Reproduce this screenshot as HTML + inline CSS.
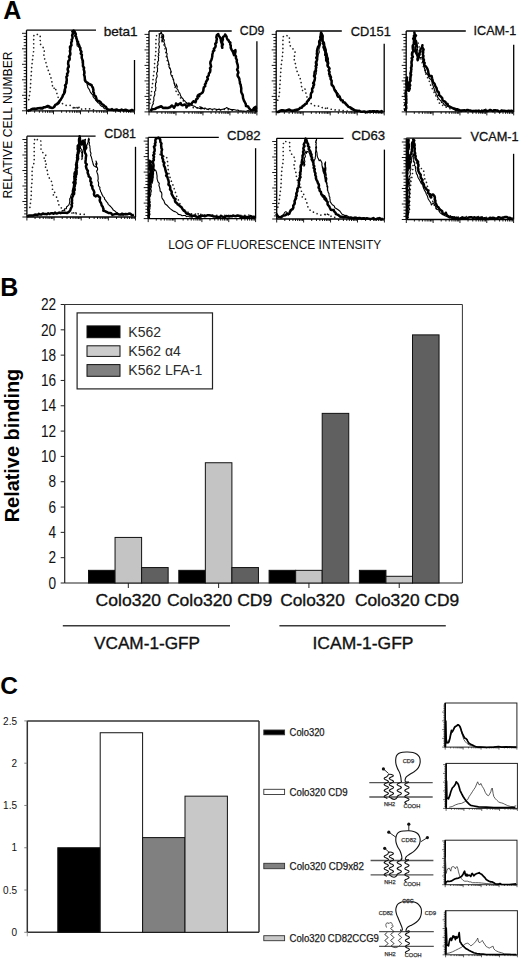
<!DOCTYPE html><html><head><meta charset="utf-8"><style>html,body{margin:0;padding:0;background:#fff;}svg{display:block;}</style></head><body>
<svg width="520" height="960" viewBox="0 0 520 960" font-family="'Liberation Sans', sans-serif">
<rect width="520" height="960" fill="#fff"/>
<text x="3.2" y="19.1" font-size="25" font-weight="bold" text-anchor="start" fill="#000" >A</text>
<line x1="26.5" y1="30.2" x2="96" y2="30.2" stroke="#000" stroke-width="1.3"/>
<line x1="26.5" y1="30.2" x2="26.5" y2="110.8" stroke="#000" stroke-width="1.3"/>
<line x1="26.5" y1="110.8" x2="134.5" y2="110.8" stroke="#000" stroke-width="1.3"/>
<line x1="134.5" y1="60" x2="134.5" y2="110.8" stroke="#000" stroke-width="1.3"/>
<line x1="22.0" y1="110.8" x2="26.5" y2="110.8" stroke="#000" stroke-width="0.9"/>
<line x1="23.7" y1="107.7" x2="26.5" y2="107.7" stroke="#000" stroke-width="0.9"/>
<line x1="23.7" y1="104.6" x2="26.5" y2="104.6" stroke="#000" stroke-width="0.9"/>
<line x1="23.7" y1="101.5" x2="26.5" y2="101.5" stroke="#000" stroke-width="0.9"/>
<line x1="23.7" y1="98.4" x2="26.5" y2="98.4" stroke="#000" stroke-width="0.9"/>
<line x1="22.0" y1="95.3" x2="26.5" y2="95.3" stroke="#000" stroke-width="0.9"/>
<line x1="23.7" y1="92.2" x2="26.5" y2="92.2" stroke="#000" stroke-width="0.9"/>
<line x1="23.7" y1="89.1" x2="26.5" y2="89.1" stroke="#000" stroke-width="0.9"/>
<line x1="23.7" y1="86.0" x2="26.5" y2="86.0" stroke="#000" stroke-width="0.9"/>
<line x1="23.7" y1="82.9" x2="26.5" y2="82.9" stroke="#000" stroke-width="0.9"/>
<line x1="22.0" y1="79.8" x2="26.5" y2="79.8" stroke="#000" stroke-width="0.9"/>
<line x1="23.7" y1="76.7" x2="26.5" y2="76.7" stroke="#000" stroke-width="0.9"/>
<line x1="23.7" y1="73.6" x2="26.5" y2="73.6" stroke="#000" stroke-width="0.9"/>
<line x1="23.7" y1="70.5" x2="26.5" y2="70.5" stroke="#000" stroke-width="0.9"/>
<line x1="23.7" y1="67.4" x2="26.5" y2="67.4" stroke="#000" stroke-width="0.9"/>
<line x1="22.0" y1="64.3" x2="26.5" y2="64.3" stroke="#000" stroke-width="0.9"/>
<line x1="23.7" y1="61.2" x2="26.5" y2="61.2" stroke="#000" stroke-width="0.9"/>
<line x1="23.7" y1="58.1" x2="26.5" y2="58.1" stroke="#000" stroke-width="0.9"/>
<line x1="23.7" y1="55.0" x2="26.5" y2="55.0" stroke="#000" stroke-width="0.9"/>
<line x1="23.7" y1="51.9" x2="26.5" y2="51.9" stroke="#000" stroke-width="0.9"/>
<line x1="22.0" y1="48.8" x2="26.5" y2="48.8" stroke="#000" stroke-width="0.9"/>
<line x1="23.7" y1="45.7" x2="26.5" y2="45.7" stroke="#000" stroke-width="0.9"/>
<line x1="23.7" y1="42.6" x2="26.5" y2="42.6" stroke="#000" stroke-width="0.9"/>
<line x1="23.7" y1="39.5" x2="26.5" y2="39.5" stroke="#000" stroke-width="0.9"/>
<line x1="23.7" y1="36.4" x2="26.5" y2="36.4" stroke="#000" stroke-width="0.9"/>
<line x1="22.0" y1="33.3" x2="26.5" y2="33.3" stroke="#000" stroke-width="0.9"/>
<line x1="26.5" y1="110.8" x2="26.5" y2="114.3" stroke="#000" stroke-width="0.9"/>
<line x1="34.63" y1="110.8" x2="34.63" y2="112.8" stroke="#000" stroke-width="0.9"/>
<line x1="39.38" y1="110.8" x2="39.38" y2="112.8" stroke="#000" stroke-width="0.9"/>
<line x1="42.76" y1="110.8" x2="42.76" y2="112.8" stroke="#000" stroke-width="0.9"/>
<line x1="45.37" y1="110.8" x2="45.37" y2="112.8" stroke="#000" stroke-width="0.9"/>
<line x1="47.51" y1="110.8" x2="47.51" y2="112.8" stroke="#000" stroke-width="0.9"/>
<line x1="49.32" y1="110.8" x2="49.32" y2="112.8" stroke="#000" stroke-width="0.9"/>
<line x1="50.88" y1="110.8" x2="50.88" y2="112.8" stroke="#000" stroke-width="0.9"/>
<line x1="52.26" y1="110.8" x2="52.26" y2="112.8" stroke="#000" stroke-width="0.9"/>
<line x1="53.5" y1="110.8" x2="53.5" y2="114.3" stroke="#000" stroke-width="0.9"/>
<line x1="61.63" y1="110.8" x2="61.63" y2="112.8" stroke="#000" stroke-width="0.9"/>
<line x1="66.38" y1="110.8" x2="66.38" y2="112.8" stroke="#000" stroke-width="0.9"/>
<line x1="69.76" y1="110.8" x2="69.76" y2="112.8" stroke="#000" stroke-width="0.9"/>
<line x1="72.37" y1="110.8" x2="72.37" y2="112.8" stroke="#000" stroke-width="0.9"/>
<line x1="74.51" y1="110.8" x2="74.51" y2="112.8" stroke="#000" stroke-width="0.9"/>
<line x1="76.32" y1="110.8" x2="76.32" y2="112.8" stroke="#000" stroke-width="0.9"/>
<line x1="77.88" y1="110.8" x2="77.88" y2="112.8" stroke="#000" stroke-width="0.9"/>
<line x1="79.26" y1="110.8" x2="79.26" y2="112.8" stroke="#000" stroke-width="0.9"/>
<line x1="80.5" y1="110.8" x2="80.5" y2="114.3" stroke="#000" stroke-width="0.9"/>
<line x1="88.63" y1="110.8" x2="88.63" y2="112.8" stroke="#000" stroke-width="0.9"/>
<line x1="93.38" y1="110.8" x2="93.38" y2="112.8" stroke="#000" stroke-width="0.9"/>
<line x1="96.76" y1="110.8" x2="96.76" y2="112.8" stroke="#000" stroke-width="0.9"/>
<line x1="99.37" y1="110.8" x2="99.37" y2="112.8" stroke="#000" stroke-width="0.9"/>
<line x1="101.51" y1="110.8" x2="101.51" y2="112.8" stroke="#000" stroke-width="0.9"/>
<line x1="103.32" y1="110.8" x2="103.32" y2="112.8" stroke="#000" stroke-width="0.9"/>
<line x1="104.88" y1="110.8" x2="104.88" y2="112.8" stroke="#000" stroke-width="0.9"/>
<line x1="106.26" y1="110.8" x2="106.26" y2="112.8" stroke="#000" stroke-width="0.9"/>
<line x1="107.5" y1="110.8" x2="107.5" y2="114.3" stroke="#000" stroke-width="0.9"/>
<line x1="115.63" y1="110.8" x2="115.63" y2="112.8" stroke="#000" stroke-width="0.9"/>
<line x1="120.38" y1="110.8" x2="120.38" y2="112.8" stroke="#000" stroke-width="0.9"/>
<line x1="123.76" y1="110.8" x2="123.76" y2="112.8" stroke="#000" stroke-width="0.9"/>
<line x1="126.37" y1="110.8" x2="126.37" y2="112.8" stroke="#000" stroke-width="0.9"/>
<line x1="128.51" y1="110.8" x2="128.51" y2="112.8" stroke="#000" stroke-width="0.9"/>
<line x1="130.32" y1="110.8" x2="130.32" y2="112.8" stroke="#000" stroke-width="0.9"/>
<line x1="131.88" y1="110.8" x2="131.88" y2="112.8" stroke="#000" stroke-width="0.9"/>
<line x1="133.26" y1="110.8" x2="133.26" y2="112.8" stroke="#000" stroke-width="0.9"/>
<line x1="134.5" y1="110.8" x2="134.5" y2="114.3" stroke="#000" stroke-width="0.9"/>
<polyline points="28.8,99.6 29.9,92.6 30.5,86.7 30.7,81.8 31.0,77.5 31.3,74.3 31.5,70.0 31.8,65.7 32.4,61.4 32.8,57.1 33.5,52.8 33.7,48.5 33.7,44.2 33.7,39.8 33.9,35.5 36.7,34.2 40.2,35.5 40.2,39.8 40.4,44.2 42.3,46.3 44.5,49.5 43.9,53.8 43.9,57.1 45.0,59.8 46.4,64.1 47.2,67.8 48.6,71.1 50.4,75.9 51.8,80.8 52.2,85.1 53.6,88.8 55.2,87.2 56.3,91.5 57.6,95.8 59.5,101.2 62.8,103.9 66.0,105.3 70.3,105.3 73.5,108.2 76.8,107.7 80.0,107.2 72.5,108.0 75.1,107.3 77.6,108.0 81.4,109.2 87.8,108.6 91.6,109.2 95.4,110.5" fill="none" stroke="#222" stroke-width="1.7" stroke-linejoin="round" stroke-linecap="round" stroke-dasharray="0.01 4.0"/>
<polyline points="27.2,110.7 28.4,110.2 29.8,110.3 30.9,109.3 32.3,109.4 33.5,108.8 34.7,108.1 36.1,108.4 37.4,107.7 38.8,108.0 40.1,107.4 41.4,107.2 42.8,107.4 44.2,107.7 45.6,106.7 47.0,107.1 48.3,107.7 49.7,108.3 51.1,108.1 52.5,108.2 53.9,107.5 54.0,105.7 55.7,105.3 56.2,103.7 57.3,102.6 58.5,101.5 59.8,100.5 61.5,99.8 61.4,98.3 62.3,97.3 62.9,96.1 63.2,94.8 63.9,93.7 63.6,92.2 63.9,90.9 64.3,89.6 65.1,88.3 65.1,86.9 65.3,85.6 65.8,84.3 65.9,82.9 66.0,81.5 66.7,80.3 66.8,78.9 66.4,77.5 67.0,76.2 67.1,74.8 67.7,73.6 67.7,72.2 67.4,70.8 68.3,69.5 67.6,68.1 68.1,66.8 68.6,65.5 68.1,64.1 68.6,62.8 68.3,61.4 69.2,60.2 69.4,58.9 69.4,57.5 69.9,56.2 69.4,54.8 70.0,53.5 70.1,52.2 70.2,50.9 70.3,49.5 70.9,48.3 71.2,47.0 70.9,45.7 71.3,44.4 70.9,43.0 71.8,41.8 72.0,40.5 72.6,39.3 72.6,38.0 72.2,36.6 72.8,35.0 73.5,33.4 74.2,31.5 74.5,33.1 75.5,34.4 75.9,35.7 76.3,36.9 75.8,38.4 76.8,39.5 77.0,40.8 77.7,42.5 78.0,44.4 79.6,45.3 80.0,46.9 79.3,45.6 78.9,44.2 78.1,43.0 77.4,41.7 76.6,40.6 76.8,41.9 77.1,43.2 76.9,44.6 77.3,46.1 79.2,46.9 79.6,48.2 80.0,49.5 80.4,50.8 80.5,52.1 80.7,53.4 81.4,54.6 82.0,55.8 81.8,57.5 82.2,59.1 82.3,60.7 82.2,62.3 82.7,63.8 83.1,65.2 83.2,66.7 83.3,68.2 84.2,69.6 83.5,71.2 83.9,72.7 84.0,74.3 84.2,75.8 84.9,77.2 85.1,78.7 85.8,79.9 85.6,81.3 86.6,82.4 87.0,83.7 87.2,85.0 87.7,86.3 87.9,87.6 88.8,88.7 89.5,89.9 90.0,91.3 90.6,92.4 91.7,93.9 92.9,95.0 93.1,96.7 94.0,97.9 95.1,98.9 95.6,100.2 96.8,101.5 98.0,102.8 99.4,103.5 100.2,105.1 101.4,106.2 103.0,106.7 104.3,108.6 105.7,108.8 106.8,109.4 108.5,109.8 110.2,109.9 111.9,110.6 113.4,109.9 114.8,109.7 116.3,110.7 117.8,110.3 119.3,109.9 120.8,110.3 122.2,109.8 123.6,110.3 125.0,110.9 126.4,110.8 127.8,110.6 129.2,110.2 130.6,110.3 132.1,110.1 133.5,110.5" fill="none" stroke="#000" stroke-width="1.1" stroke-linejoin="round" stroke-linecap="butt"/>
<polyline points="27.4,111.3 28.7,110.4 30.2,110.2 31.5,109.1 33.1,108.6 34.9,109.0 36.3,108.9 37.7,108.5 39.0,108.1 40.6,108.4 42.4,108.5 43.8,107.3 45.5,107.2 47.8,105.9 49.2,106.4 50.0,107.0 51.3,107.7 52.3,108.0 53.6,107.3 54.6,106.5 55.2,104.9 56.7,104.4 57.8,103.7 58.9,102.8 59.7,100.8 60.8,99.4 61.6,98.1 62.4,96.8 62.9,95.2 64.0,93.7 64.7,92.4 65.0,90.9 64.9,89.4 65.3,88.1 65.8,86.9 65.0,85.4 66.0,84.3 66.6,83.0 66.6,81.5 66.8,80.0 66.6,78.4 66.4,76.8 67.5,75.4 67.0,73.9 67.9,72.6 68.3,71.2 67.6,69.6 67.8,68.2 68.8,66.8 68.6,65.4 68.1,63.8 68.2,62.4 68.4,61.0 69.6,59.7 69.7,58.2 68.9,56.7 70.0,55.3 70.4,53.9 70.2,52.4 69.9,50.9 70.4,49.5 70.0,48.0 70.0,46.6 71.5,45.3 71.2,43.8 71.2,42.4 72.0,41.0 71.6,39.6 72.4,38.3 72.6,37.0 72.1,35.4 72.7,33.8 73.4,32.6 72.3,31.6 73.7,30.6 74.7,31.7 75.2,33.0 75.9,34.2 75.2,35.8 76.2,36.8 76.4,38.1 76.9,39.5 77.1,40.9 78.1,41.9 77.9,43.4 78.9,44.5 79.2,45.8 79.5,47.0 80.5,48.1 80.2,49.6 80.9,50.7 81.5,51.9 80.7,53.5 81.9,54.6 81.8,56.2 81.7,57.9 82.3,59.4 82.9,61.0 82.9,62.7 83.0,64.4 82.9,66.1 84.1,67.7 83.7,69.5 84.3,71.1 84.5,72.8 84.0,74.6 84.6,76.2 84.8,78.1 84.9,80.3 85.7,81.7 87.2,82.5 89.0,84.0 90.3,84.5 91.6,85.1 92.0,86.5 92.9,87.6 93.1,88.9 93.5,90.2 93.2,91.6 93.9,92.8 94.0,94.2 94.4,95.5 95.7,96.3 96.2,97.9 96.6,99.4 97.6,100.7 99.6,101.3 100.8,102.5 101.8,104.1 103.4,104.9 104.5,106.1 105.9,106.8 106.7,108.5 108.1,109.6 110.5,109.8 112.0,109.1 113.2,110.2 114.8,110.1 116.5,109.4 118.2,110.4 119.9,110.5 121.6,109.5 123.3,110.5 125.0,109.8 126.7,110.1 128.3,110.9 130.1,110.8 131.8,109.9 133.5,110.5" fill="none" stroke="#000" stroke-width="2.5" stroke-linejoin="round" stroke-linecap="butt"/>
<text x="103.7" y="36.2" font-size="12.8" font-weight="normal" text-anchor="start" fill="#111" stroke="#111" stroke-width="0.3" textLength="34" lengthAdjust="spacingAndGlyphs">beta1</text>
<line x1="149.0" y1="31.0" x2="231.7" y2="31.0" stroke="#000" stroke-width="1.3"/>
<line x1="149.0" y1="31.0" x2="149.0" y2="111.9" stroke="#000" stroke-width="1.3"/>
<line x1="149.0" y1="111.9" x2="256.9" y2="111.9" stroke="#000" stroke-width="1.3"/>
<line x1="256.9" y1="41.3" x2="256.9" y2="111.9" stroke="#000" stroke-width="1.3"/>
<line x1="144.5" y1="111.9" x2="149.0" y2="111.9" stroke="#000" stroke-width="0.9"/>
<line x1="146.2" y1="108.8" x2="149.0" y2="108.8" stroke="#000" stroke-width="0.9"/>
<line x1="146.2" y1="105.7" x2="149.0" y2="105.7" stroke="#000" stroke-width="0.9"/>
<line x1="146.2" y1="102.6" x2="149.0" y2="102.6" stroke="#000" stroke-width="0.9"/>
<line x1="146.2" y1="99.5" x2="149.0" y2="99.5" stroke="#000" stroke-width="0.9"/>
<line x1="144.5" y1="96.4" x2="149.0" y2="96.4" stroke="#000" stroke-width="0.9"/>
<line x1="146.2" y1="93.3" x2="149.0" y2="93.3" stroke="#000" stroke-width="0.9"/>
<line x1="146.2" y1="90.2" x2="149.0" y2="90.2" stroke="#000" stroke-width="0.9"/>
<line x1="146.2" y1="87.1" x2="149.0" y2="87.1" stroke="#000" stroke-width="0.9"/>
<line x1="146.2" y1="84.0" x2="149.0" y2="84.0" stroke="#000" stroke-width="0.9"/>
<line x1="144.5" y1="80.9" x2="149.0" y2="80.9" stroke="#000" stroke-width="0.9"/>
<line x1="146.2" y1="77.8" x2="149.0" y2="77.8" stroke="#000" stroke-width="0.9"/>
<line x1="146.2" y1="74.7" x2="149.0" y2="74.7" stroke="#000" stroke-width="0.9"/>
<line x1="146.2" y1="71.6" x2="149.0" y2="71.6" stroke="#000" stroke-width="0.9"/>
<line x1="146.2" y1="68.5" x2="149.0" y2="68.5" stroke="#000" stroke-width="0.9"/>
<line x1="144.5" y1="65.4" x2="149.0" y2="65.4" stroke="#000" stroke-width="0.9"/>
<line x1="146.2" y1="62.3" x2="149.0" y2="62.3" stroke="#000" stroke-width="0.9"/>
<line x1="146.2" y1="59.2" x2="149.0" y2="59.2" stroke="#000" stroke-width="0.9"/>
<line x1="146.2" y1="56.1" x2="149.0" y2="56.1" stroke="#000" stroke-width="0.9"/>
<line x1="146.2" y1="53.0" x2="149.0" y2="53.0" stroke="#000" stroke-width="0.9"/>
<line x1="144.5" y1="49.9" x2="149.0" y2="49.9" stroke="#000" stroke-width="0.9"/>
<line x1="146.2" y1="46.8" x2="149.0" y2="46.8" stroke="#000" stroke-width="0.9"/>
<line x1="146.2" y1="43.7" x2="149.0" y2="43.7" stroke="#000" stroke-width="0.9"/>
<line x1="146.2" y1="40.6" x2="149.0" y2="40.6" stroke="#000" stroke-width="0.9"/>
<line x1="146.2" y1="37.5" x2="149.0" y2="37.5" stroke="#000" stroke-width="0.9"/>
<line x1="144.5" y1="34.4" x2="149.0" y2="34.4" stroke="#000" stroke-width="0.9"/>
<line x1="149.0" y1="111.9" x2="149.0" y2="115.4" stroke="#000" stroke-width="0.9"/>
<line x1="157.12" y1="111.9" x2="157.12" y2="113.9" stroke="#000" stroke-width="0.9"/>
<line x1="161.87" y1="111.9" x2="161.87" y2="113.9" stroke="#000" stroke-width="0.9"/>
<line x1="165.24" y1="111.9" x2="165.24" y2="113.9" stroke="#000" stroke-width="0.9"/>
<line x1="167.85" y1="111.9" x2="167.85" y2="113.9" stroke="#000" stroke-width="0.9"/>
<line x1="169.99" y1="111.9" x2="169.99" y2="113.9" stroke="#000" stroke-width="0.9"/>
<line x1="171.8" y1="111.9" x2="171.8" y2="113.9" stroke="#000" stroke-width="0.9"/>
<line x1="173.36" y1="111.9" x2="173.36" y2="113.9" stroke="#000" stroke-width="0.9"/>
<line x1="174.74" y1="111.9" x2="174.74" y2="113.9" stroke="#000" stroke-width="0.9"/>
<line x1="175.97" y1="111.9" x2="175.97" y2="115.4" stroke="#000" stroke-width="0.9"/>
<line x1="184.1" y1="111.9" x2="184.1" y2="113.9" stroke="#000" stroke-width="0.9"/>
<line x1="188.85" y1="111.9" x2="188.85" y2="113.9" stroke="#000" stroke-width="0.9"/>
<line x1="192.22" y1="111.9" x2="192.22" y2="113.9" stroke="#000" stroke-width="0.9"/>
<line x1="194.83" y1="111.9" x2="194.83" y2="113.9" stroke="#000" stroke-width="0.9"/>
<line x1="196.97" y1="111.9" x2="196.97" y2="113.9" stroke="#000" stroke-width="0.9"/>
<line x1="198.77" y1="111.9" x2="198.77" y2="113.9" stroke="#000" stroke-width="0.9"/>
<line x1="200.34" y1="111.9" x2="200.34" y2="113.9" stroke="#000" stroke-width="0.9"/>
<line x1="201.72" y1="111.9" x2="201.72" y2="113.9" stroke="#000" stroke-width="0.9"/>
<line x1="202.95" y1="111.9" x2="202.95" y2="115.4" stroke="#000" stroke-width="0.9"/>
<line x1="211.07" y1="111.9" x2="211.07" y2="113.9" stroke="#000" stroke-width="0.9"/>
<line x1="215.82" y1="111.9" x2="215.82" y2="113.9" stroke="#000" stroke-width="0.9"/>
<line x1="219.19" y1="111.9" x2="219.19" y2="113.9" stroke="#000" stroke-width="0.9"/>
<line x1="221.8" y1="111.9" x2="221.8" y2="113.9" stroke="#000" stroke-width="0.9"/>
<line x1="223.94" y1="111.9" x2="223.94" y2="113.9" stroke="#000" stroke-width="0.9"/>
<line x1="225.75" y1="111.9" x2="225.75" y2="113.9" stroke="#000" stroke-width="0.9"/>
<line x1="227.31" y1="111.9" x2="227.31" y2="113.9" stroke="#000" stroke-width="0.9"/>
<line x1="228.69" y1="111.9" x2="228.69" y2="113.9" stroke="#000" stroke-width="0.9"/>
<line x1="229.92" y1="111.9" x2="229.92" y2="115.4" stroke="#000" stroke-width="0.9"/>
<line x1="238.05" y1="111.9" x2="238.05" y2="113.9" stroke="#000" stroke-width="0.9"/>
<line x1="242.8" y1="111.9" x2="242.8" y2="113.9" stroke="#000" stroke-width="0.9"/>
<line x1="246.17" y1="111.9" x2="246.17" y2="113.9" stroke="#000" stroke-width="0.9"/>
<line x1="248.78" y1="111.9" x2="248.78" y2="113.9" stroke="#000" stroke-width="0.9"/>
<line x1="250.92" y1="111.9" x2="250.92" y2="113.9" stroke="#000" stroke-width="0.9"/>
<line x1="252.72" y1="111.9" x2="252.72" y2="113.9" stroke="#000" stroke-width="0.9"/>
<line x1="254.29" y1="111.9" x2="254.29" y2="113.9" stroke="#000" stroke-width="0.9"/>
<line x1="255.67" y1="111.9" x2="255.67" y2="113.9" stroke="#000" stroke-width="0.9"/>
<line x1="256.9" y1="111.9" x2="256.9" y2="115.4" stroke="#000" stroke-width="0.9"/>
<polyline points="149.8,103.4 150.5,98.0 151.4,92.6 151.9,88.3 152.5,84.0 153.0,79.7 153.5,75.4 154.1,71.1 154.6,66.8 154.6,62.5 155.2,58.2 155.7,53.8 155.9,49.5 155.9,45.2 155.9,40.9 156.2,36.1 158.9,33.4 162.2,38.8 164.8,47.4 165.9,52.8 166.5,58.2 168.6,64.6 170.8,71.1 172.9,77.5 174.5,84.0 175.6,90.5 178.3,94.8 181.5,99.1 184.8,102.3 189.1,105.5 193.4,107.7 197.7,108.2 202.0,108.6 199.7,108.0 205.8,109.2 212.0,109.8 218.2,110.2 225.5,109.2 232.9,110.5" fill="none" stroke="#222" stroke-width="1.7" stroke-linejoin="round" stroke-linecap="round" stroke-dasharray="0.01 4.0"/>
<polyline points="150.2,109.8 151.1,108.8 151.8,107.6 152.0,106.2 152.5,104.9 153.4,103.7 153.0,102.2 153.8,100.8 153.9,99.3 153.7,97.7 154.2,96.2 154.8,94.8 154.8,93.3 154.5,91.8 155.7,90.5 155.6,89.1 156.0,87.7 155.3,86.1 155.6,84.8 155.5,83.4 156.4,82.1 156.0,80.7 156.0,79.4 156.4,78.1 157.1,76.8 157.1,75.4 156.6,74.0 156.7,72.7 157.6,71.4 157.4,70.0 157.7,68.7 157.1,67.3 157.2,65.9 158.1,64.6 157.9,63.3 157.6,61.9 158.6,60.6 158.4,59.2 158.7,57.9 158.0,56.5 159.0,55.2 158.2,53.8 159.2,52.4 158.8,51.0 158.7,49.5 159.1,48.1 159.5,46.7 158.9,45.2 158.8,43.6 159.3,42.0 159.1,40.4 159.0,38.7 159.3,37.3 159.3,35.8 159.7,34.3 161.3,32.2 162.2,34.5 161.7,36.0 162.3,37.5 162.1,39.0 162.5,40.5 162.0,42.0 161.8,40.5 162.2,39.1 162.2,37.6 163.2,36.1 163.2,34.5 163.7,35.9 163.6,37.3 163.3,38.8 164.4,40.2 163.8,41.7 164.4,43.1 164.9,44.7 165.0,46.4 166.0,47.9 166.5,49.5 166.4,51.0 166.3,52.5 167.2,53.8 166.8,55.3 167.1,56.7 167.4,58.2 167.8,59.6 168.1,61.0 168.6,62.3 168.8,63.8 169.3,65.2 168.9,66.9 169.9,68.3 170.6,69.9 171.0,71.3 170.6,73.0 170.9,74.4 171.7,76.0 172.6,77.5 173.2,79.1 173.7,80.7 173.9,82.2 174.5,83.5 174.6,85.0 175.4,86.6 176.6,85.5 176.2,84.1 176.8,85.4 177.3,86.8 176.7,88.5 178.0,89.9 178.4,91.5 179.9,93.4 180.6,95.8 181.3,96.9 182.1,98.0 183.1,98.9 183.7,100.2 184.9,100.9 185.5,102.1 187.2,103.0 188.1,104.1 189.2,104.5 191.4,105.0 192.9,105.9 194.6,106.3 196.0,107.2 197.7,107.7 199.1,108.3 200.5,108.6 202.2,108.6 201.1,107.5 199.7,106.7 201.6,107.2 203.3,108.5 205.1,108.0 206.6,109.1 208.3,109.4 209.8,108.6 211.4,109.3 213.0,109.2 214.4,108.8 215.9,109.2 217.5,109.6 219.2,109.1 220.6,109.9 221.8,109.4 223.2,109.2 224.4,108.7 225.7,108.2 226.7,107.5 227.8,108.4 229.1,108.8 230.4,109.4 231.7,109.6 233.3,109.5 234.8,109.8 236.3,110.2 237.9,110.0 239.3,111.0 240.8,110.8 242.3,111.0 243.7,111.1 245.2,111.3 246.6,111.0 248.0,110.4 249.5,111.1 250.9,111.0 252.3,110.6 253.7,110.6 255.1,110.5" fill="none" stroke="#000" stroke-width="1.1" stroke-linejoin="round" stroke-linecap="butt"/>
<polyline points="150.4,111.1 152.2,109.3 154.7,109.1 156.7,107.9 158.7,107.2 161.2,106.3 163.2,108.0 165.3,107.8 167.7,108.0 170.0,107.2 171.9,105.5 173.0,106.5 174.0,107.7 174.9,106.4 175.8,105.0 176.0,103.5 177.1,104.6 177.9,105.1 179.0,104.1 180.7,103.1 181.3,104.7 182.5,105.3 184.7,104.5 186.4,105.7 186.4,107.4 187.4,106.1 188.6,104.9 189.0,103.6 191.4,104.6 192.1,102.7 193.4,101.2 195.5,102.3 196.0,100.9 196.1,99.4 197.7,98.5 197.4,96.6 199.2,96.3 199.5,94.3 198.0,95.2 199.7,94.4 201.2,93.5 202.6,92.5 203.3,90.8 203.5,89.0 203.8,87.4 205.2,86.1 204.9,84.4 205.9,83.4 206.0,82.0 206.9,80.5 207.9,79.0 207.2,77.1 208.7,75.5 208.9,73.5 210.1,71.9 210.4,69.9 210.0,68.2 211.1,66.6 210.7,64.9 210.3,63.2 210.5,61.6 211.4,60.0 211.9,58.1 212.3,56.3 212.3,54.6 212.8,53.0 213.0,51.3 214.3,50.4 213.8,48.8 215.2,47.4 215.7,45.8 215.2,43.9 216.5,42.4 216.4,40.8 216.9,39.2 216.3,37.2 216.8,35.3 218.3,34.0 218.7,35.6 219.9,37.3 220.8,39.1 220.9,40.7 221.3,42.3 221.9,43.9 222.1,45.8 222.3,47.8 221.8,46.0 222.9,44.5 222.1,42.7 222.3,41.1 222.9,39.5 222.7,37.7 223.5,36.5 224.8,35.8 225.1,34.4 225.8,35.6 226.6,36.7 226.9,38.1 227.4,39.4 228.6,40.3 229.0,41.7 230.4,42.5 230.1,44.1 230.8,45.8 230.7,47.8 231.5,49.6 232.6,51.3 233.5,53.0 234.1,55.2 233.3,53.1 234.1,51.4 235.4,50.1 235.5,51.7 235.1,53.3 234.8,54.8 236.0,56.2 235.9,58.2 236.9,60.0 236.7,61.7 237.2,63.3 237.7,64.9 237.9,66.4 237.9,68.0 237.1,69.6 237.9,71.1 238.4,72.6 237.6,74.2 237.6,75.8 238.5,77.2 239.3,78.7 239.5,80.2 239.9,81.7 239.9,83.3 240.7,84.9 240.9,86.6 241.3,88.2 241.2,90.0 241.2,91.7 241.8,93.3 242.6,94.7 242.9,96.3 243.0,97.9 243.5,99.3 244.2,101.2 245.1,102.7 245.8,104.1 246.0,106.0 248.1,106.4 248.9,108.0 250.1,109.4 251.2,110.3 252.3,110.2 253.3,109.0 254.2,107.8 255.8,106.8 256.0,108.4 255.5,110.1 256.3,111.7" fill="none" stroke="#000" stroke-width="2.5" stroke-linejoin="round" stroke-linecap="butt"/>
<text x="239.8" y="34.8" font-size="12.8" font-weight="normal" text-anchor="start" fill="#111" stroke="#111" stroke-width="0.3" textLength="24.6" lengthAdjust="spacingAndGlyphs">CD9</text>
<line x1="276.2" y1="31.0" x2="341.8" y2="31.0" stroke="#000" stroke-width="1.3"/>
<line x1="276.2" y1="31.0" x2="276.2" y2="111.9" stroke="#000" stroke-width="1.3"/>
<line x1="276.2" y1="111.9" x2="384.2" y2="111.9" stroke="#000" stroke-width="1.3"/>
<line x1="384.2" y1="43.8" x2="384.2" y2="111.9" stroke="#000" stroke-width="1.3"/>
<line x1="271.7" y1="111.9" x2="276.2" y2="111.9" stroke="#000" stroke-width="0.9"/>
<line x1="273.4" y1="108.8" x2="276.2" y2="108.8" stroke="#000" stroke-width="0.9"/>
<line x1="273.4" y1="105.7" x2="276.2" y2="105.7" stroke="#000" stroke-width="0.9"/>
<line x1="273.4" y1="102.6" x2="276.2" y2="102.6" stroke="#000" stroke-width="0.9"/>
<line x1="273.4" y1="99.5" x2="276.2" y2="99.5" stroke="#000" stroke-width="0.9"/>
<line x1="271.7" y1="96.4" x2="276.2" y2="96.4" stroke="#000" stroke-width="0.9"/>
<line x1="273.4" y1="93.3" x2="276.2" y2="93.3" stroke="#000" stroke-width="0.9"/>
<line x1="273.4" y1="90.2" x2="276.2" y2="90.2" stroke="#000" stroke-width="0.9"/>
<line x1="273.4" y1="87.1" x2="276.2" y2="87.1" stroke="#000" stroke-width="0.9"/>
<line x1="273.4" y1="84.0" x2="276.2" y2="84.0" stroke="#000" stroke-width="0.9"/>
<line x1="271.7" y1="80.9" x2="276.2" y2="80.9" stroke="#000" stroke-width="0.9"/>
<line x1="273.4" y1="77.8" x2="276.2" y2="77.8" stroke="#000" stroke-width="0.9"/>
<line x1="273.4" y1="74.7" x2="276.2" y2="74.7" stroke="#000" stroke-width="0.9"/>
<line x1="273.4" y1="71.6" x2="276.2" y2="71.6" stroke="#000" stroke-width="0.9"/>
<line x1="273.4" y1="68.5" x2="276.2" y2="68.5" stroke="#000" stroke-width="0.9"/>
<line x1="271.7" y1="65.4" x2="276.2" y2="65.4" stroke="#000" stroke-width="0.9"/>
<line x1="273.4" y1="62.3" x2="276.2" y2="62.3" stroke="#000" stroke-width="0.9"/>
<line x1="273.4" y1="59.2" x2="276.2" y2="59.2" stroke="#000" stroke-width="0.9"/>
<line x1="273.4" y1="56.1" x2="276.2" y2="56.1" stroke="#000" stroke-width="0.9"/>
<line x1="273.4" y1="53.0" x2="276.2" y2="53.0" stroke="#000" stroke-width="0.9"/>
<line x1="271.7" y1="49.9" x2="276.2" y2="49.9" stroke="#000" stroke-width="0.9"/>
<line x1="273.4" y1="46.8" x2="276.2" y2="46.8" stroke="#000" stroke-width="0.9"/>
<line x1="273.4" y1="43.7" x2="276.2" y2="43.7" stroke="#000" stroke-width="0.9"/>
<line x1="273.4" y1="40.6" x2="276.2" y2="40.6" stroke="#000" stroke-width="0.9"/>
<line x1="273.4" y1="37.5" x2="276.2" y2="37.5" stroke="#000" stroke-width="0.9"/>
<line x1="271.7" y1="34.4" x2="276.2" y2="34.4" stroke="#000" stroke-width="0.9"/>
<line x1="276.2" y1="111.9" x2="276.2" y2="115.4" stroke="#000" stroke-width="0.9"/>
<line x1="284.33" y1="111.9" x2="284.33" y2="113.9" stroke="#000" stroke-width="0.9"/>
<line x1="289.08" y1="111.9" x2="289.08" y2="113.9" stroke="#000" stroke-width="0.9"/>
<line x1="292.46" y1="111.9" x2="292.46" y2="113.9" stroke="#000" stroke-width="0.9"/>
<line x1="295.07" y1="111.9" x2="295.07" y2="113.9" stroke="#000" stroke-width="0.9"/>
<line x1="297.21" y1="111.9" x2="297.21" y2="113.9" stroke="#000" stroke-width="0.9"/>
<line x1="299.02" y1="111.9" x2="299.02" y2="113.9" stroke="#000" stroke-width="0.9"/>
<line x1="300.58" y1="111.9" x2="300.58" y2="113.9" stroke="#000" stroke-width="0.9"/>
<line x1="301.96" y1="111.9" x2="301.96" y2="113.9" stroke="#000" stroke-width="0.9"/>
<line x1="303.2" y1="111.9" x2="303.2" y2="115.4" stroke="#000" stroke-width="0.9"/>
<line x1="311.33" y1="111.9" x2="311.33" y2="113.9" stroke="#000" stroke-width="0.9"/>
<line x1="316.08" y1="111.9" x2="316.08" y2="113.9" stroke="#000" stroke-width="0.9"/>
<line x1="319.46" y1="111.9" x2="319.46" y2="113.9" stroke="#000" stroke-width="0.9"/>
<line x1="322.07" y1="111.9" x2="322.07" y2="113.9" stroke="#000" stroke-width="0.9"/>
<line x1="324.21" y1="111.9" x2="324.21" y2="113.9" stroke="#000" stroke-width="0.9"/>
<line x1="326.02" y1="111.9" x2="326.02" y2="113.9" stroke="#000" stroke-width="0.9"/>
<line x1="327.58" y1="111.9" x2="327.58" y2="113.9" stroke="#000" stroke-width="0.9"/>
<line x1="328.96" y1="111.9" x2="328.96" y2="113.9" stroke="#000" stroke-width="0.9"/>
<line x1="330.2" y1="111.9" x2="330.2" y2="115.4" stroke="#000" stroke-width="0.9"/>
<line x1="338.33" y1="111.9" x2="338.33" y2="113.9" stroke="#000" stroke-width="0.9"/>
<line x1="343.08" y1="111.9" x2="343.08" y2="113.9" stroke="#000" stroke-width="0.9"/>
<line x1="346.46" y1="111.9" x2="346.46" y2="113.9" stroke="#000" stroke-width="0.9"/>
<line x1="349.07" y1="111.9" x2="349.07" y2="113.9" stroke="#000" stroke-width="0.9"/>
<line x1="351.21" y1="111.9" x2="351.21" y2="113.9" stroke="#000" stroke-width="0.9"/>
<line x1="353.02" y1="111.9" x2="353.02" y2="113.9" stroke="#000" stroke-width="0.9"/>
<line x1="354.58" y1="111.9" x2="354.58" y2="113.9" stroke="#000" stroke-width="0.9"/>
<line x1="355.96" y1="111.9" x2="355.96" y2="113.9" stroke="#000" stroke-width="0.9"/>
<line x1="357.2" y1="111.9" x2="357.2" y2="115.4" stroke="#000" stroke-width="0.9"/>
<line x1="365.33" y1="111.9" x2="365.33" y2="113.9" stroke="#000" stroke-width="0.9"/>
<line x1="370.08" y1="111.9" x2="370.08" y2="113.9" stroke="#000" stroke-width="0.9"/>
<line x1="373.46" y1="111.9" x2="373.46" y2="113.9" stroke="#000" stroke-width="0.9"/>
<line x1="376.07" y1="111.9" x2="376.07" y2="113.9" stroke="#000" stroke-width="0.9"/>
<line x1="378.21" y1="111.9" x2="378.21" y2="113.9" stroke="#000" stroke-width="0.9"/>
<line x1="380.02" y1="111.9" x2="380.02" y2="113.9" stroke="#000" stroke-width="0.9"/>
<line x1="381.58" y1="111.9" x2="381.58" y2="113.9" stroke="#000" stroke-width="0.9"/>
<line x1="382.96" y1="111.9" x2="382.96" y2="113.9" stroke="#000" stroke-width="0.9"/>
<line x1="384.2" y1="111.9" x2="384.2" y2="115.4" stroke="#000" stroke-width="0.9"/>
<polyline points="277.8,100.2 278.9,96.9 279.5,92.6 279.7,88.3 280.0,84.0 280.3,79.7 280.5,75.4 280.8,71.1 281.1,66.8 281.6,62.5 282.2,58.2 282.7,53.8 282.9,49.5 282.9,45.2 282.9,40.9 283.2,36.6 286.1,35.3 289.4,36.6 289.4,40.9 289.7,45.2 291.8,47.4 293.5,49.5 295.1,51.7 294.5,56.0 293.5,58.2 294.5,60.3 295.6,64.6 296.2,68.9 297.8,73.2 299.9,77.5 301.0,81.8 301.5,86.2 302.6,90.5 304.8,88.3 305.8,92.6 306.9,96.9 309.6,102.3 312.3,104.5 315.5,106.1 319.3,106.1 322.5,107.7 325.8,108.2 324.5,108.6 327.1,108.0 330.9,109.2 334.7,109.9 339.8,110.2 347.4,111.1 353.7,111.8 360.1,111.1" fill="none" stroke="#222" stroke-width="1.7" stroke-linejoin="round" stroke-linecap="round" stroke-dasharray="0.01 4.0"/>
<polyline points="276.3,111.8 277.6,111.7 278.9,110.7 280.2,110.5 281.6,111.1 283.0,111.2 284.3,110.6 285.7,110.6 286.9,109.8 288.3,110.1 289.7,110.6 291.1,110.3 292.4,110.2 293.8,110.2 295.0,109.3 296.4,109.0 297.6,109.0 299.0,108.7 300.3,108.1 301.6,107.7 302.8,106.8 304.0,105.7 305.3,104.7 306.3,103.4 307.2,102.3 307.6,100.9 309.1,100.3 309.3,99.0 310.5,97.9 310.6,96.5 310.7,95.1 310.9,93.8 311.5,92.5 312.2,91.4 312.6,90.1 312.3,88.6 312.6,87.3 313.4,86.2 314.6,84.0 314.6,82.5 314.6,80.9 315.2,79.5 314.8,77.9 315.3,76.4 315.6,75.1 316.3,73.7 316.2,72.3 316.6,71.0 316.3,69.5 316.2,68.1 316.3,66.7 317.3,65.2 317.1,63.6 316.8,61.9 316.6,60.2 317.4,59.0 317.9,57.7 317.9,56.3 318.0,54.9 318.7,53.5 319.3,52.0 318.9,50.3 319.0,48.8 319.7,47.4 320.0,45.9 320.5,44.4 320.2,42.8 321.0,41.4 321.2,39.9 321.1,38.6 320.9,37.2 321.9,36.0 321.3,34.7 321.3,33.5 322.3,34.8 322.6,36.2 322.3,37.7 323.0,39.0 322.6,40.5 323.3,41.7 323.9,43.0 324.4,44.4 324.8,45.9 325.1,47.4 325.0,48.9 326.1,50.2 326.2,51.7 326.6,53.1 326.1,54.7 327.2,55.9 327.8,57.3 328.4,58.7 328.3,60.3 328.5,58.9 328.1,57.6 327.5,56.3 327.4,54.9 327.0,53.6 325.9,52.5 325.4,51.3 325.8,49.7 325.2,48.5 324.1,47.4 324.4,45.9 323.7,44.7 323.3,43.3 322.8,42.1 323.0,40.6 323.5,42.2 323.5,43.8 323.7,45.4 323.4,47.1 324.6,48.5 324.0,50.3 325.2,51.7 325.3,53.4 325.1,55.0 325.5,56.6 326.2,58.1 326.9,59.6 326.9,61.0 327.3,62.2 327.1,63.7 328.3,64.7 328.5,66.0 328.2,67.7 329.5,69.1 329.4,70.8 329.3,72.5 329.6,73.8 330.7,74.8 331.1,76.1 331.4,77.4 330.7,79.2 331.8,80.6 331.6,82.3 331.8,84.0 332.9,85.0 333.6,86.3 333.6,87.9 334.9,89.3 336.2,90.7 336.7,92.2 338.0,93.3 339.0,94.8 340.2,96.2 340.5,98.0 341.3,99.3 342.5,100.4 343.3,102.0 345.2,102.1 346.3,103.3 347.4,104.6 348.4,106.1 349.4,106.8 350.8,107.1 352.0,107.7 353.5,108.8 355.0,109.9 356.2,110.6 357.6,110.2 358.7,111.1 360.1,111.4 361.5,111.6 362.9,111.6 364.3,111.5 365.7,111.2 367.1,111.3 368.5,111.4 369.9,111.9 371.4,111.2 372.8,111.4 374.2,112.0 375.7,111.5 377.1,111.3 378.6,111.3 380.0,111.8 381.5,111.6 382.9,111.8" fill="none" stroke="#000" stroke-width="1.1" stroke-linejoin="round" stroke-linecap="butt"/>
<polyline points="276.3,112.1 277.6,111.9 279.0,111.9 280.2,110.7 281.6,110.3 282.9,110.2 284.3,110.6 285.7,110.8 287.0,110.3 289.3,109.5 291.3,110.8 293.0,110.8 294.6,110.6 296.3,110.2 297.9,109.8 299.2,109.0 300.1,107.8 301.8,107.8 302.4,106.4 304.3,105.1 305.2,104.0 306.7,103.6 306.9,102.1 307.7,101.0 308.5,99.9 309.2,98.9 310.7,97.6 310.8,95.9 310.8,94.3 311.3,92.9 312.4,91.7 312.1,90.1 312.1,88.6 313.3,87.3 313.3,85.9 314.1,84.7 313.1,83.1 313.9,81.8 314.5,80.5 314.8,79.0 315.0,77.6 314.0,76.0 314.5,74.6 314.5,73.2 314.7,71.7 316.0,70.4 315.7,68.9 316.3,67.6 315.6,66.2 316.5,64.9 316.0,63.5 315.9,62.1 316.8,60.7 317.2,59.3 316.2,57.8 317.0,56.6 317.2,55.2 316.8,53.8 317.1,52.4 317.0,50.9 317.3,49.4 317.9,47.3 318.9,45.8 319.5,44.2 319.2,42.7 319.2,41.3 319.9,40.1 320.6,38.8 320.2,37.1 320.7,35.5 320.8,33.9 321.1,32.4 321.7,33.9 322.6,35.5 322.7,36.9 322.5,38.4 322.5,39.9 322.7,41.3 323.8,42.6 324.1,44.0 323.9,45.9 324.8,47.4 325.3,48.7 325.7,50.2 325.1,51.8 326.2,53.1 326.0,54.6 326.5,56.0 326.6,57.4 326.2,58.9 326.2,60.6 327.7,62.5 327.2,61.3 327.6,59.8 326.6,58.7 326.0,57.5 326.9,55.9 326.0,54.8 326.2,53.4 325.3,52.2 325.7,50.8 324.8,49.7 324.1,48.5 323.5,47.2 324.0,45.8 323.8,44.5 322.7,43.3 324.2,44.7 323.7,46.4 324.4,48.0 324.5,49.6 325.3,50.7 325.5,52.0 325.5,53.4 325.2,54.8 326.8,55.7 326.7,57.2 326.7,58.5 326.6,60.2 327.9,61.8 328.2,63.4 327.4,65.0 327.7,66.2 328.7,67.3 329.6,68.5 328.6,70.4 329.6,72.0 329.1,73.8 329.8,75.0 329.8,76.3 331.0,77.4 330.5,78.8 331.6,80.6 331.6,82.5 331.5,84.0 331.9,85.3 333.2,86.2 333.8,87.5 334.2,88.9 334.7,90.2 335.5,91.4 336.4,92.5 336.9,93.8 337.3,95.5 338.1,96.9 340.0,97.4 340.3,99.1 341.1,100.3 342.8,100.5 342.9,102.3 344.5,102.4 346.0,104.3 347.3,105.5 348.5,106.8 350.1,107.4 351.2,108.5 352.4,109.3 353.8,109.8 354.9,110.5 356.3,110.6 357.5,111.0 359.3,110.7 360.9,111.7 362.6,111.8 364.1,111.4 365.5,112.1 367.0,112.2 368.4,111.7 369.9,111.3 371.3,111.7 372.8,111.2 374.2,111.2 375.7,111.7 377.1,111.2 378.6,111.7 380.0,111.8 381.5,111.1 382.9,111.8" fill="none" stroke="#000" stroke-width="2.5" stroke-linejoin="round" stroke-linecap="butt"/>
<text x="350.8" y="35.8" font-size="12.8" font-weight="normal" text-anchor="start" fill="#111" stroke="#111" stroke-width="0.3" textLength="40" lengthAdjust="spacingAndGlyphs">CD151</text>
<line x1="406.2" y1="31.0" x2="465.8" y2="31.0" stroke="#000" stroke-width="1.3"/>
<line x1="406.2" y1="31.0" x2="406.2" y2="111.9" stroke="#000" stroke-width="1.3"/>
<line x1="406.2" y1="111.9" x2="513.7" y2="111.9" stroke="#000" stroke-width="1.3"/>
<line x1="513.7" y1="44.8" x2="513.7" y2="111.9" stroke="#000" stroke-width="1.3"/>
<line x1="401.7" y1="111.9" x2="406.2" y2="111.9" stroke="#000" stroke-width="0.9"/>
<line x1="403.4" y1="108.8" x2="406.2" y2="108.8" stroke="#000" stroke-width="0.9"/>
<line x1="403.4" y1="105.7" x2="406.2" y2="105.7" stroke="#000" stroke-width="0.9"/>
<line x1="403.4" y1="102.6" x2="406.2" y2="102.6" stroke="#000" stroke-width="0.9"/>
<line x1="403.4" y1="99.5" x2="406.2" y2="99.5" stroke="#000" stroke-width="0.9"/>
<line x1="401.7" y1="96.4" x2="406.2" y2="96.4" stroke="#000" stroke-width="0.9"/>
<line x1="403.4" y1="93.3" x2="406.2" y2="93.3" stroke="#000" stroke-width="0.9"/>
<line x1="403.4" y1="90.2" x2="406.2" y2="90.2" stroke="#000" stroke-width="0.9"/>
<line x1="403.4" y1="87.1" x2="406.2" y2="87.1" stroke="#000" stroke-width="0.9"/>
<line x1="403.4" y1="84.0" x2="406.2" y2="84.0" stroke="#000" stroke-width="0.9"/>
<line x1="401.7" y1="80.9" x2="406.2" y2="80.9" stroke="#000" stroke-width="0.9"/>
<line x1="403.4" y1="77.8" x2="406.2" y2="77.8" stroke="#000" stroke-width="0.9"/>
<line x1="403.4" y1="74.7" x2="406.2" y2="74.7" stroke="#000" stroke-width="0.9"/>
<line x1="403.4" y1="71.6" x2="406.2" y2="71.6" stroke="#000" stroke-width="0.9"/>
<line x1="403.4" y1="68.5" x2="406.2" y2="68.5" stroke="#000" stroke-width="0.9"/>
<line x1="401.7" y1="65.4" x2="406.2" y2="65.4" stroke="#000" stroke-width="0.9"/>
<line x1="403.4" y1="62.3" x2="406.2" y2="62.3" stroke="#000" stroke-width="0.9"/>
<line x1="403.4" y1="59.2" x2="406.2" y2="59.2" stroke="#000" stroke-width="0.9"/>
<line x1="403.4" y1="56.1" x2="406.2" y2="56.1" stroke="#000" stroke-width="0.9"/>
<line x1="403.4" y1="53.0" x2="406.2" y2="53.0" stroke="#000" stroke-width="0.9"/>
<line x1="401.7" y1="49.9" x2="406.2" y2="49.9" stroke="#000" stroke-width="0.9"/>
<line x1="403.4" y1="46.8" x2="406.2" y2="46.8" stroke="#000" stroke-width="0.9"/>
<line x1="403.4" y1="43.7" x2="406.2" y2="43.7" stroke="#000" stroke-width="0.9"/>
<line x1="403.4" y1="40.6" x2="406.2" y2="40.6" stroke="#000" stroke-width="0.9"/>
<line x1="403.4" y1="37.5" x2="406.2" y2="37.5" stroke="#000" stroke-width="0.9"/>
<line x1="401.7" y1="34.4" x2="406.2" y2="34.4" stroke="#000" stroke-width="0.9"/>
<line x1="406.2" y1="111.9" x2="406.2" y2="115.4" stroke="#000" stroke-width="0.9"/>
<line x1="414.29" y1="111.9" x2="414.29" y2="113.9" stroke="#000" stroke-width="0.9"/>
<line x1="419.02" y1="111.9" x2="419.02" y2="113.9" stroke="#000" stroke-width="0.9"/>
<line x1="422.38" y1="111.9" x2="422.38" y2="113.9" stroke="#000" stroke-width="0.9"/>
<line x1="424.98" y1="111.9" x2="424.98" y2="113.9" stroke="#000" stroke-width="0.9"/>
<line x1="427.11" y1="111.9" x2="427.11" y2="113.9" stroke="#000" stroke-width="0.9"/>
<line x1="428.91" y1="111.9" x2="428.91" y2="113.9" stroke="#000" stroke-width="0.9"/>
<line x1="430.47" y1="111.9" x2="430.47" y2="113.9" stroke="#000" stroke-width="0.9"/>
<line x1="431.85" y1="111.9" x2="431.85" y2="113.9" stroke="#000" stroke-width="0.9"/>
<line x1="433.07" y1="111.9" x2="433.07" y2="115.4" stroke="#000" stroke-width="0.9"/>
<line x1="441.17" y1="111.9" x2="441.17" y2="113.9" stroke="#000" stroke-width="0.9"/>
<line x1="445.9" y1="111.9" x2="445.9" y2="113.9" stroke="#000" stroke-width="0.9"/>
<line x1="449.26" y1="111.9" x2="449.26" y2="113.9" stroke="#000" stroke-width="0.9"/>
<line x1="451.86" y1="111.9" x2="451.86" y2="113.9" stroke="#000" stroke-width="0.9"/>
<line x1="453.99" y1="111.9" x2="453.99" y2="113.9" stroke="#000" stroke-width="0.9"/>
<line x1="455.79" y1="111.9" x2="455.79" y2="113.9" stroke="#000" stroke-width="0.9"/>
<line x1="457.35" y1="111.9" x2="457.35" y2="113.9" stroke="#000" stroke-width="0.9"/>
<line x1="458.72" y1="111.9" x2="458.72" y2="113.9" stroke="#000" stroke-width="0.9"/>
<line x1="459.95" y1="111.9" x2="459.95" y2="115.4" stroke="#000" stroke-width="0.9"/>
<line x1="468.04" y1="111.9" x2="468.04" y2="113.9" stroke="#000" stroke-width="0.9"/>
<line x1="472.77" y1="111.9" x2="472.77" y2="113.9" stroke="#000" stroke-width="0.9"/>
<line x1="476.13" y1="111.9" x2="476.13" y2="113.9" stroke="#000" stroke-width="0.9"/>
<line x1="478.73" y1="111.9" x2="478.73" y2="113.9" stroke="#000" stroke-width="0.9"/>
<line x1="480.86" y1="111.9" x2="480.86" y2="113.9" stroke="#000" stroke-width="0.9"/>
<line x1="482.66" y1="111.9" x2="482.66" y2="113.9" stroke="#000" stroke-width="0.9"/>
<line x1="484.22" y1="111.9" x2="484.22" y2="113.9" stroke="#000" stroke-width="0.9"/>
<line x1="485.6" y1="111.9" x2="485.6" y2="113.9" stroke="#000" stroke-width="0.9"/>
<line x1="486.83" y1="111.9" x2="486.83" y2="115.4" stroke="#000" stroke-width="0.9"/>
<line x1="494.92" y1="111.9" x2="494.92" y2="113.9" stroke="#000" stroke-width="0.9"/>
<line x1="499.65" y1="111.9" x2="499.65" y2="113.9" stroke="#000" stroke-width="0.9"/>
<line x1="503.01" y1="111.9" x2="503.01" y2="113.9" stroke="#000" stroke-width="0.9"/>
<line x1="505.61" y1="111.9" x2="505.61" y2="113.9" stroke="#000" stroke-width="0.9"/>
<line x1="507.74" y1="111.9" x2="507.74" y2="113.9" stroke="#000" stroke-width="0.9"/>
<line x1="509.54" y1="111.9" x2="509.54" y2="113.9" stroke="#000" stroke-width="0.9"/>
<line x1="511.1" y1="111.9" x2="511.1" y2="113.9" stroke="#000" stroke-width="0.9"/>
<line x1="512.47" y1="111.9" x2="512.47" y2="113.9" stroke="#000" stroke-width="0.9"/>
<line x1="513.7" y1="111.9" x2="513.7" y2="115.4" stroke="#000" stroke-width="0.9"/>
<polyline points="418.1,43.1 419.2,47.4 420.2,56.0 421.3,60.3 423.5,66.8 425.1,71.1 426.2,75.4 428.8,79.7 431.0,86.2 433.2,90.5 435.3,94.8 437.5,99.1 439.6,103.4 442.8,105.5 447.2,107.7 450.4,108.8 454.7,109.3 459.6,109.9 467.2,110.5 477.4,110.8 486.3,109.2 492.6,109.9 502.8,110.5" fill="none" stroke="#222" stroke-width="1.7" stroke-linejoin="round" stroke-linecap="round" stroke-dasharray="0.01 4.0"/>
<polyline points="406.2,110.9 405.6,109.6 406.3,108.2 406.4,106.9 406.2,105.5 405.7,104.2 406.2,102.8 406.1,101.5 406.8,100.2 405.9,98.8 406.8,97.5 407.0,96.1 406.7,94.8 406.9,93.3 406.3,91.9 407.2,90.5 406.7,89.0 407.3,87.6 407.3,86.2 406.6,84.7 407.3,83.3 406.6,81.9 407.8,83.1 407.7,84.4 407.5,85.8 408.3,87.0 408.6,88.4 408.4,86.8 409.5,85.5 409.3,84.0 409.8,82.6 410.4,81.2 409.7,79.7 409.9,78.2 410.3,76.8 410.2,75.4 410.0,73.9 410.3,72.5 410.4,71.0 411.4,69.8 411.3,68.5 411.7,67.2 411.0,65.8 411.8,64.5 411.3,63.1 411.9,61.9 412.1,60.6 412.0,59.2 412.7,57.9 412.4,56.5 412.6,55.1 413.0,53.7 412.3,52.3 413.4,51.0 413.1,49.5 413.0,48.1 413.5,46.8 413.0,45.4 414.0,44.0 413.6,42.6 413.5,41.2 414.1,39.9 414.0,38.5 414.0,37.1 414.8,35.9 415.3,34.4 414.7,35.8 415.5,37.0 415.3,38.4 415.2,39.7 415.8,40.9 416.0,42.3 416.6,43.5 417.2,44.8 417.4,46.1 417.5,47.4 417.2,48.8 417.7,50.1 417.8,51.5 417.7,52.9 419.0,54.0 419.4,55.3 419.5,56.9 419.9,57.7 422.4,56.9 422.4,58.4 423.1,59.6 423.2,61.1 423.8,62.4 423.6,63.8 423.8,65.1 424.4,66.3 424.2,67.7 424.6,68.9 425.5,70.2 425.2,72.0 426.4,73.1 427.3,74.1 428.1,75.1 428.5,76.6 429.1,77.8 429.9,78.8 431.1,79.7 431.7,80.9 432.4,82.1 432.1,83.6 432.7,84.9 433.3,86.1 433.5,87.6 434.3,88.8 434.3,90.4 435.1,91.6 436.1,92.8 436.0,94.4 437.4,95.4 437.4,96.9 438.6,98.5 439.8,99.9 441.0,100.9 441.6,102.5 443.2,103.0 443.9,104.5 445.9,106.0 447.6,105.7 449.1,106.3 450.3,107.3 451.8,107.7 453.2,108.4 454.6,109.1 456.2,108.8 457.6,109.3 459.0,109.8" fill="none" stroke="#000" stroke-width="1.1" stroke-linejoin="round" stroke-linecap="butt"/>
<polyline points="405.4,110.9 405.1,109.6 406.3,108.3 406.2,107.0 406.1,105.7 405.2,104.4 406.4,103.1 406.3,101.8 406.0,100.5 406.4,99.2 406.0,97.8 405.7,96.5 405.6,95.2 405.8,93.9 405.6,92.6 406.0,91.2 406.7,89.9 406.7,88.5 406.9,87.1 406.8,85.8 406.2,84.4 406.6,83.0 406.5,81.6 407.1,80.3 406.8,78.9 407.1,77.5 406.7,79.2 406.4,80.8 407.6,82.4 406.8,84.1 408.2,85.2 408.1,86.5 408.3,87.8 407.8,89.2 408.9,90.7 409.8,88.3 409.3,86.8 410.2,85.3 409.5,83.8 409.5,82.2 410.6,80.8 410.3,79.3 410.5,77.8 410.6,76.3 411.1,74.8 410.5,73.2 411.1,71.9 411.1,70.6 411.4,69.2 411.0,67.8 411.7,66.3 411.7,64.6 411.5,63.0 411.5,61.4 412.2,59.8 411.6,58.1 412.9,56.8 412.0,55.2 412.0,53.8 412.3,52.3 413.6,51.0 413.0,49.5 412.8,48.2 412.7,46.8 412.8,45.5 413.8,44.2 413.8,42.8 413.9,41.5 414.0,40.1 413.2,38.7 414.1,37.3 413.9,35.9 414.7,34.6 414.4,32.4 414.6,34.0 416.0,35.5 414.9,37.0 414.9,38.4 414.9,39.9 416.1,41.3 416.1,42.7 416.2,44.1 416.4,45.6 415.4,47.2 415.5,48.7 415.9,50.2 415.7,51.8 416.2,53.2 417.0,54.5 417.5,55.9 417.9,57.3 417.4,59.0 417.7,60.2 418.2,58.8 418.7,57.4 418.5,55.8 419.2,54.5 419.6,53.1 420.5,51.8 420.4,50.2 420.7,48.8 421.9,47.7 422.4,45.2 422.1,46.7 422.6,48.1 423.6,49.5 423.1,51.1 423.2,52.8 422.8,54.4 423.5,56.0 423.1,57.4 423.4,58.7 424.0,60.0 423.2,61.5 424.7,62.9 424.1,64.8 426.0,66.6 427.3,68.6 428.1,70.9 428.5,73.4 429.4,75.9 431.6,76.1 432.1,78.6 432.6,80.2 432.8,82.0 434.6,83.8 435.3,86.1 436.6,88.2 437.0,90.7 438.8,92.5 439.1,95.0 440.9,96.7 442.1,97.8 442.6,100.3 443.9,101.2 445.4,101.9 445.9,103.5 447.6,104.0 448.0,105.9 450.3,106.9 452.4,108.0 454.6,108.9 456.9,109.6 459.0,110.5 457.5,110.1 456.2,109.1 454.7,108.7 455.7,110.1 457.2,109.2 458.4,109.8 459.6,110.2 461.2,111.0 462.7,110.4 464.2,110.2 465.7,110.8 467.3,109.9 468.7,110.3 470.1,110.5 471.6,111.0 473.0,111.1 474.5,111.1 476.0,110.8 477.4,110.9 478.8,110.6 480.2,111.5 481.6,111.1 483.0,111.2 484.4,110.3 485.8,110.6 487.3,111.0 488.7,110.7 490.1,110.0 491.5,110.5 492.9,111.2 494.3,110.3 495.7,110.3 497.1,110.6 498.5,111.2 499.9,111.5 501.4,110.6 502.8,110.7 504.2,110.8 505.7,110.9 507.1,111.2 508.6,110.7 510.0,110.9 511.5,110.7 512.9,111.1" fill="none" stroke="#000" stroke-width="2.5" stroke-linejoin="round" stroke-linecap="butt"/>
<text x="473.6" y="35.0" font-size="12.8" font-weight="normal" text-anchor="start" fill="#111" stroke="#111" stroke-width="0.3" textLength="42.7" lengthAdjust="spacingAndGlyphs">ICAM-1</text>
<line x1="26.9" y1="136.2" x2="95.6" y2="136.2" stroke="#000" stroke-width="1.3"/>
<line x1="26.9" y1="136.2" x2="26.9" y2="217.0" stroke="#000" stroke-width="1.3"/>
<line x1="26.9" y1="217.0" x2="135.5" y2="217.0" stroke="#000" stroke-width="1.3"/>
<line x1="135.5" y1="146.8" x2="135.5" y2="217.0" stroke="#000" stroke-width="1.3"/>
<line x1="22.4" y1="217.0" x2="26.9" y2="217.0" stroke="#000" stroke-width="0.9"/>
<line x1="24.099999999999998" y1="213.9" x2="26.9" y2="213.9" stroke="#000" stroke-width="0.9"/>
<line x1="24.099999999999998" y1="210.8" x2="26.9" y2="210.8" stroke="#000" stroke-width="0.9"/>
<line x1="24.099999999999998" y1="207.7" x2="26.9" y2="207.7" stroke="#000" stroke-width="0.9"/>
<line x1="24.099999999999998" y1="204.6" x2="26.9" y2="204.6" stroke="#000" stroke-width="0.9"/>
<line x1="22.4" y1="201.5" x2="26.9" y2="201.5" stroke="#000" stroke-width="0.9"/>
<line x1="24.099999999999998" y1="198.4" x2="26.9" y2="198.4" stroke="#000" stroke-width="0.9"/>
<line x1="24.099999999999998" y1="195.3" x2="26.9" y2="195.3" stroke="#000" stroke-width="0.9"/>
<line x1="24.099999999999998" y1="192.2" x2="26.9" y2="192.2" stroke="#000" stroke-width="0.9"/>
<line x1="24.099999999999998" y1="189.1" x2="26.9" y2="189.1" stroke="#000" stroke-width="0.9"/>
<line x1="22.4" y1="186.0" x2="26.9" y2="186.0" stroke="#000" stroke-width="0.9"/>
<line x1="24.099999999999998" y1="182.9" x2="26.9" y2="182.9" stroke="#000" stroke-width="0.9"/>
<line x1="24.099999999999998" y1="179.8" x2="26.9" y2="179.8" stroke="#000" stroke-width="0.9"/>
<line x1="24.099999999999998" y1="176.7" x2="26.9" y2="176.7" stroke="#000" stroke-width="0.9"/>
<line x1="24.099999999999998" y1="173.6" x2="26.9" y2="173.6" stroke="#000" stroke-width="0.9"/>
<line x1="22.4" y1="170.5" x2="26.9" y2="170.5" stroke="#000" stroke-width="0.9"/>
<line x1="24.099999999999998" y1="167.4" x2="26.9" y2="167.4" stroke="#000" stroke-width="0.9"/>
<line x1="24.099999999999998" y1="164.3" x2="26.9" y2="164.3" stroke="#000" stroke-width="0.9"/>
<line x1="24.099999999999998" y1="161.2" x2="26.9" y2="161.2" stroke="#000" stroke-width="0.9"/>
<line x1="24.099999999999998" y1="158.1" x2="26.9" y2="158.1" stroke="#000" stroke-width="0.9"/>
<line x1="22.4" y1="155.0" x2="26.9" y2="155.0" stroke="#000" stroke-width="0.9"/>
<line x1="24.099999999999998" y1="151.9" x2="26.9" y2="151.9" stroke="#000" stroke-width="0.9"/>
<line x1="24.099999999999998" y1="148.8" x2="26.9" y2="148.8" stroke="#000" stroke-width="0.9"/>
<line x1="24.099999999999998" y1="145.7" x2="26.9" y2="145.7" stroke="#000" stroke-width="0.9"/>
<line x1="24.099999999999998" y1="142.6" x2="26.9" y2="142.6" stroke="#000" stroke-width="0.9"/>
<line x1="22.4" y1="139.5" x2="26.9" y2="139.5" stroke="#000" stroke-width="0.9"/>
<line x1="26.9" y1="217.0" x2="26.9" y2="220.5" stroke="#000" stroke-width="0.9"/>
<line x1="35.07" y1="217.0" x2="35.07" y2="219.0" stroke="#000" stroke-width="0.9"/>
<line x1="39.85" y1="217.0" x2="39.85" y2="219.0" stroke="#000" stroke-width="0.9"/>
<line x1="43.25" y1="217.0" x2="43.25" y2="219.0" stroke="#000" stroke-width="0.9"/>
<line x1="45.88" y1="217.0" x2="45.88" y2="219.0" stroke="#000" stroke-width="0.9"/>
<line x1="48.03" y1="217.0" x2="48.03" y2="219.0" stroke="#000" stroke-width="0.9"/>
<line x1="49.84" y1="217.0" x2="49.84" y2="219.0" stroke="#000" stroke-width="0.9"/>
<line x1="51.42" y1="217.0" x2="51.42" y2="219.0" stroke="#000" stroke-width="0.9"/>
<line x1="52.81" y1="217.0" x2="52.81" y2="219.0" stroke="#000" stroke-width="0.9"/>
<line x1="54.05" y1="217.0" x2="54.05" y2="220.5" stroke="#000" stroke-width="0.9"/>
<line x1="62.22" y1="217.0" x2="62.22" y2="219.0" stroke="#000" stroke-width="0.9"/>
<line x1="67.0" y1="217.0" x2="67.0" y2="219.0" stroke="#000" stroke-width="0.9"/>
<line x1="70.4" y1="217.0" x2="70.4" y2="219.0" stroke="#000" stroke-width="0.9"/>
<line x1="73.03" y1="217.0" x2="73.03" y2="219.0" stroke="#000" stroke-width="0.9"/>
<line x1="75.18" y1="217.0" x2="75.18" y2="219.0" stroke="#000" stroke-width="0.9"/>
<line x1="76.99" y1="217.0" x2="76.99" y2="219.0" stroke="#000" stroke-width="0.9"/>
<line x1="78.57" y1="217.0" x2="78.57" y2="219.0" stroke="#000" stroke-width="0.9"/>
<line x1="79.96" y1="217.0" x2="79.96" y2="219.0" stroke="#000" stroke-width="0.9"/>
<line x1="81.2" y1="217.0" x2="81.2" y2="220.5" stroke="#000" stroke-width="0.9"/>
<line x1="89.37" y1="217.0" x2="89.37" y2="219.0" stroke="#000" stroke-width="0.9"/>
<line x1="94.15" y1="217.0" x2="94.15" y2="219.0" stroke="#000" stroke-width="0.9"/>
<line x1="97.55" y1="217.0" x2="97.55" y2="219.0" stroke="#000" stroke-width="0.9"/>
<line x1="100.18" y1="217.0" x2="100.18" y2="219.0" stroke="#000" stroke-width="0.9"/>
<line x1="102.33" y1="217.0" x2="102.33" y2="219.0" stroke="#000" stroke-width="0.9"/>
<line x1="104.14" y1="217.0" x2="104.14" y2="219.0" stroke="#000" stroke-width="0.9"/>
<line x1="105.72" y1="217.0" x2="105.72" y2="219.0" stroke="#000" stroke-width="0.9"/>
<line x1="107.11" y1="217.0" x2="107.11" y2="219.0" stroke="#000" stroke-width="0.9"/>
<line x1="108.35" y1="217.0" x2="108.35" y2="220.5" stroke="#000" stroke-width="0.9"/>
<line x1="116.52" y1="217.0" x2="116.52" y2="219.0" stroke="#000" stroke-width="0.9"/>
<line x1="121.3" y1="217.0" x2="121.3" y2="219.0" stroke="#000" stroke-width="0.9"/>
<line x1="124.7" y1="217.0" x2="124.7" y2="219.0" stroke="#000" stroke-width="0.9"/>
<line x1="127.33" y1="217.0" x2="127.33" y2="219.0" stroke="#000" stroke-width="0.9"/>
<line x1="129.48" y1="217.0" x2="129.48" y2="219.0" stroke="#000" stroke-width="0.9"/>
<line x1="131.29" y1="217.0" x2="131.29" y2="219.0" stroke="#000" stroke-width="0.9"/>
<line x1="132.87" y1="217.0" x2="132.87" y2="219.0" stroke="#000" stroke-width="0.9"/>
<line x1="134.26" y1="217.0" x2="134.26" y2="219.0" stroke="#000" stroke-width="0.9"/>
<line x1="135.5" y1="217.0" x2="135.5" y2="220.5" stroke="#000" stroke-width="0.9"/>
<polyline points="29.9,207.3 31.0,198.7 31.3,194.4 31.3,190.1 31.5,185.8 32.1,181.5 32.1,177.2 32.1,172.8 32.1,168.5 33.7,164.2 34.2,159.9 34.2,155.6 34.2,151.3 34.2,147.0 34.2,142.7 34.8,138.4 36.9,139.5 40.7,140.5 41.0,144.8 41.0,149.2 43.4,153.5 46.1,155.6 43.9,157.8 46.1,159.9 44.5,162.1 46.1,164.2 44.5,166.4 47.2,168.5 47.2,172.8 48.8,177.2 51.5,181.5 52.5,185.8 52.5,190.1 54.7,192.2 52.5,194.4 56.3,196.5 57.9,200.8 59.0,205.2 61.7,208.4 64.9,210.5 69.2,212.7 73.5,213.2 76.8,212.7 73.0,213.0 75.5,213.6 79.3,214.2 83.2,214.2 88.2,214.9" fill="none" stroke="#222" stroke-width="1.7" stroke-linejoin="round" stroke-linecap="round" stroke-dasharray="0.01 4.0"/>
<polyline points="61.7,210.5 64.0,210.2 64.7,208.8 66.4,208.7 66.5,207.0 67.5,206.2 68.9,204.9 69.5,203.1 69.8,201.7 69.7,200.3 69.7,198.9 70.4,197.7 71.0,195.3 72.1,193.3 72.6,192.0 72.4,190.6 73.0,189.4 73.6,188.2 73.7,186.9 73.7,185.4 74.0,184.0 74.0,182.5 73.9,181.1 74.5,179.7 74.5,178.2 75.1,176.8 75.4,175.4 75.1,173.9 75.4,172.5 75.8,171.1 75.6,169.6 75.6,168.1 76.3,166.8 76.6,165.4 76.7,163.9 76.8,162.5 77.2,161.0 77.1,159.6 77.3,158.1 77.3,156.7 77.3,155.2 77.8,153.8 78.3,152.4 77.8,153.7 77.2,155.0 77.2,156.3 77.1,157.7 77.4,159.0 77.1,160.4 76.9,161.7 76.6,163.0 76.6,164.3 76.2,165.6 75.8,166.9 76.5,168.3 75.8,169.6 75.5,170.9 75.8,172.3 75.5,173.6 76.3,172.3 75.5,170.7 76.2,169.4 76.0,167.9 76.9,166.6 77.3,165.2 77.0,163.7 76.8,162.3 77.5,160.9 77.7,159.4 78.1,158.0 78.1,156.5 78.4,155.0 78.9,153.6 78.7,152.0 78.9,150.4 79.8,149.0 79.4,147.2 79.8,145.8 80.5,146.9 80.6,148.3 81.7,149.5 80.8,151.0 81.6,152.4 82.0,153.8 81.9,155.3 81.8,156.7 82.3,158.2 81.8,159.6 82.1,157.7 82.7,155.9 82.5,154.3 82.5,152.8 82.6,151.3 83.3,149.8 83.6,148.3 83.3,146.7 83.1,145.2 83.9,143.7 83.5,142.1 83.6,140.4 85.5,139.3 85.1,141.3 85.4,143.2 85.7,144.8 86.0,146.3 86.1,147.9 86.0,149.5 87.0,147.9 86.6,146.1 87.1,144.5 87.7,143.3 88.1,142.0 88.2,140.6 88.3,139.3 88.8,138.1 89.4,139.6 88.8,141.3 89.5,142.8 89.1,144.5 89.9,145.9 89.9,147.5 90.2,149.0 90.1,150.5 90.5,152.0 91.0,153.5 90.5,155.3 91.3,156.8 91.7,158.3 92.0,159.6 92.3,160.9 92.7,162.2 93.0,163.5 93.4,164.8 94.0,165.9 96.3,167.3 96.4,165.7 95.7,164.0 96.7,162.5 96.0,161.0 96.3,162.4 97.1,163.8 96.4,165.3 96.7,166.7 97.5,168.1 97.6,169.6 96.6,171.1 97.1,172.7 97.7,174.2 98.0,175.8 98.1,177.4 98.2,179.0 97.8,180.6 98.4,182.2 98.7,183.6 98.4,185.2 98.9,186.4 100.0,187.5 99.7,189.0 100.4,190.2 100.6,191.5 101.4,192.7 101.8,194.1 102.5,195.3 103.1,196.6 104.4,197.6 104.6,199.1 105.7,200.3 106.4,201.7 107.6,202.8 108.2,204.3 109.4,205.4 110.6,206.5 111.6,207.7 112.6,208.9 113.3,210.1 114.5,210.7 116.2,212.3 117.7,213.0 118.7,214.2 120.0,214.5 121.2,214.9 122.9,215.3 124.6,214.3 126.3,214.9" fill="none" stroke="#000" stroke-width="1.1" stroke-linejoin="round" stroke-linecap="butt"/>
<polyline points="27.3,216.4 28.8,215.6 30.5,215.5 31.9,215.4 33.4,215.5 34.8,214.7 36.1,214.6 37.5,215.2 38.7,213.8 40.2,214.5 41.5,214.4 42.8,213.4 44.2,214.1 45.6,214.0 46.9,214.2 48.2,213.3 49.6,214.0 50.9,213.2 52.3,213.2 53.6,213.8 55.0,212.6 56.3,213.5 57.8,213.2 59.2,212.6 60.6,213.2 62.2,212.5 63.8,212.7 65.5,212.7 67.2,213.1 68.9,211.9 70.2,210.5 70.7,208.9 71.5,207.3 72.0,206.0 71.4,204.6 72.2,203.3 71.8,201.9 72.1,200.3 71.9,198.7 72.3,197.1 73.1,195.6 72.9,194.2 73.3,192.9 72.9,191.5 73.1,190.2 73.3,189.0 73.8,187.4 74.0,185.8 74.3,184.2 73.4,182.5 74.6,181.1 75.0,179.7 74.7,178.2 74.2,176.7 74.7,175.3 74.5,173.8 74.9,172.4 76.1,171.1 75.8,169.6 76.1,168.2 76.5,166.8 76.8,165.4 76.6,163.9 76.8,162.5 76.9,161.0 77.2,159.6 77.3,158.1 77.6,156.7 77.1,155.2 77.9,153.8 77.8,152.4 78.3,150.8 77.6,149.1 77.8,147.5 77.7,145.8 78.9,144.5 79.3,143.1 79.1,141.7 79.0,140.0 79.9,138.5 79.6,136.2 79.8,137.5 80.0,138.9 79.8,140.2 79.5,141.5 79.5,142.8 79.2,144.1 78.8,145.4 78.2,146.7 79.3,148.1 78.5,149.3 79.0,150.7 78.8,152.0 77.7,153.2 77.9,154.6 77.2,155.8 77.8,157.2 78.2,158.6 77.6,159.8 77.1,161.1 76.5,162.4 76.3,163.7 76.9,165.1 76.8,166.4 77.1,167.8 76.2,169.0 76.6,170.4 76.6,171.7 76.6,173.0 76.5,174.3 75.4,175.5 76.0,176.9 74.7,178.1 75.8,179.6 74.6,180.8 75.5,182.2 75.5,183.5 74.3,184.7 74.9,186.1 74.0,187.3 74.6,188.7 74.7,190.1 73.5,191.3 73.5,192.6 74.1,194.0 74.1,192.4 73.3,190.8 74.2,189.4 74.4,187.9 74.2,186.3 75.0,184.9 74.2,183.4 75.4,182.1 75.2,180.6 74.4,179.1 74.5,177.7 75.6,176.3 76.0,174.9 75.1,173.4 75.6,172.0 76.3,170.6 75.7,169.1 76.8,167.8 76.5,166.3 76.0,164.8 76.6,163.4 77.1,162.0 77.1,160.5 77.6,159.1 77.0,157.6 78.1,156.3 77.7,154.7 78.3,153.3 78.4,151.8 78.2,150.3 78.3,148.7 79.0,147.2 79.3,145.8 79.3,144.0 79.2,142.3 79.1,140.5 79.1,139.2 79.3,138.2 80.0,139.4 80.2,140.7 81.2,142.5 81.4,144.5 82.5,143.5 82.9,142.1 83.0,140.7 84.0,141.8 84.5,143.1 84.1,144.9 85.0,146.5 84.8,148.2 85.0,149.7 84.7,151.2 84.9,152.6 85.7,154.0 86.2,155.4 85.9,156.9 85.8,158.4 85.7,159.9 85.5,161.5 85.5,163.0 86.8,164.4 85.9,166.1 86.2,167.4 86.5,168.7 87.2,169.8 87.9,171.0 87.6,172.5 88.0,173.8 88.6,175.0 88.7,176.3 89.9,177.4 90.7,178.6 90.4,180.0 90.4,181.3 91.5,182.4 91.1,183.9 91.1,185.2 92.4,186.2 92.3,187.6 92.6,188.9 93.4,190.1 94.0,191.3 94.3,192.6 93.9,194.0 94.3,195.5 95.8,196.4 96.9,195.3 98.0,195.4 98.7,196.6 100.0,197.6 99.9,199.0 99.7,200.4 100.1,201.7 100.9,202.8 101.4,204.1 101.6,205.4 102.6,206.5 103.0,207.7 103.5,209.0 103.3,210.7 104.8,210.9 106.0,211.8 107.3,212.2 108.5,213.0 109.9,213.1 111.2,213.3 112.3,214.9 114.9,214.1 116.8,213.7 118.7,214.4 120.4,214.6 122.1,213.7 123.8,214.4 125.5,214.0 127.2,214.3 128.9,213.6 130.6,213.8 132.1,215.3 133.9,214.9" fill="none" stroke="#000" stroke-width="2.5" stroke-linejoin="round" stroke-linecap="butt"/>
<text x="104.2" y="137.5" font-size="12.8" font-weight="normal" text-anchor="start" fill="#111" stroke="#111" stroke-width="0.3" textLength="31.8" lengthAdjust="spacingAndGlyphs">CD81</text>
<line x1="148.2" y1="137.4" x2="218.8" y2="137.4" stroke="#000" stroke-width="1.3"/>
<line x1="148.2" y1="137.4" x2="148.2" y2="218.6" stroke="#000" stroke-width="1.3"/>
<line x1="148.2" y1="218.6" x2="255.6" y2="218.6" stroke="#000" stroke-width="1.3"/>
<line x1="255.6" y1="148.2" x2="255.6" y2="218.6" stroke="#000" stroke-width="1.3"/>
<line x1="143.7" y1="218.6" x2="148.2" y2="218.6" stroke="#000" stroke-width="0.9"/>
<line x1="145.39999999999998" y1="215.5" x2="148.2" y2="215.5" stroke="#000" stroke-width="0.9"/>
<line x1="145.39999999999998" y1="212.4" x2="148.2" y2="212.4" stroke="#000" stroke-width="0.9"/>
<line x1="145.39999999999998" y1="209.3" x2="148.2" y2="209.3" stroke="#000" stroke-width="0.9"/>
<line x1="145.39999999999998" y1="206.2" x2="148.2" y2="206.2" stroke="#000" stroke-width="0.9"/>
<line x1="143.7" y1="203.1" x2="148.2" y2="203.1" stroke="#000" stroke-width="0.9"/>
<line x1="145.39999999999998" y1="200.0" x2="148.2" y2="200.0" stroke="#000" stroke-width="0.9"/>
<line x1="145.39999999999998" y1="196.9" x2="148.2" y2="196.9" stroke="#000" stroke-width="0.9"/>
<line x1="145.39999999999998" y1="193.8" x2="148.2" y2="193.8" stroke="#000" stroke-width="0.9"/>
<line x1="145.39999999999998" y1="190.7" x2="148.2" y2="190.7" stroke="#000" stroke-width="0.9"/>
<line x1="143.7" y1="187.6" x2="148.2" y2="187.6" stroke="#000" stroke-width="0.9"/>
<line x1="145.39999999999998" y1="184.5" x2="148.2" y2="184.5" stroke="#000" stroke-width="0.9"/>
<line x1="145.39999999999998" y1="181.4" x2="148.2" y2="181.4" stroke="#000" stroke-width="0.9"/>
<line x1="145.39999999999998" y1="178.3" x2="148.2" y2="178.3" stroke="#000" stroke-width="0.9"/>
<line x1="145.39999999999998" y1="175.2" x2="148.2" y2="175.2" stroke="#000" stroke-width="0.9"/>
<line x1="143.7" y1="172.1" x2="148.2" y2="172.1" stroke="#000" stroke-width="0.9"/>
<line x1="145.39999999999998" y1="169.0" x2="148.2" y2="169.0" stroke="#000" stroke-width="0.9"/>
<line x1="145.39999999999998" y1="165.9" x2="148.2" y2="165.9" stroke="#000" stroke-width="0.9"/>
<line x1="145.39999999999998" y1="162.8" x2="148.2" y2="162.8" stroke="#000" stroke-width="0.9"/>
<line x1="145.39999999999998" y1="159.7" x2="148.2" y2="159.7" stroke="#000" stroke-width="0.9"/>
<line x1="143.7" y1="156.6" x2="148.2" y2="156.6" stroke="#000" stroke-width="0.9"/>
<line x1="145.39999999999998" y1="153.5" x2="148.2" y2="153.5" stroke="#000" stroke-width="0.9"/>
<line x1="145.39999999999998" y1="150.4" x2="148.2" y2="150.4" stroke="#000" stroke-width="0.9"/>
<line x1="145.39999999999998" y1="147.3" x2="148.2" y2="147.3" stroke="#000" stroke-width="0.9"/>
<line x1="145.39999999999998" y1="144.2" x2="148.2" y2="144.2" stroke="#000" stroke-width="0.9"/>
<line x1="143.7" y1="141.1" x2="148.2" y2="141.1" stroke="#000" stroke-width="0.9"/>
<line x1="145.39999999999998" y1="138.0" x2="148.2" y2="138.0" stroke="#000" stroke-width="0.9"/>
<line x1="148.2" y1="218.6" x2="148.2" y2="222.1" stroke="#000" stroke-width="0.9"/>
<line x1="156.28" y1="218.6" x2="156.28" y2="220.6" stroke="#000" stroke-width="0.9"/>
<line x1="161.01" y1="218.6" x2="161.01" y2="220.6" stroke="#000" stroke-width="0.9"/>
<line x1="164.37" y1="218.6" x2="164.37" y2="220.6" stroke="#000" stroke-width="0.9"/>
<line x1="166.97" y1="218.6" x2="166.97" y2="220.6" stroke="#000" stroke-width="0.9"/>
<line x1="169.09" y1="218.6" x2="169.09" y2="220.6" stroke="#000" stroke-width="0.9"/>
<line x1="170.89" y1="218.6" x2="170.89" y2="220.6" stroke="#000" stroke-width="0.9"/>
<line x1="172.45" y1="218.6" x2="172.45" y2="220.6" stroke="#000" stroke-width="0.9"/>
<line x1="173.82" y1="218.6" x2="173.82" y2="220.6" stroke="#000" stroke-width="0.9"/>
<line x1="175.05" y1="218.6" x2="175.05" y2="222.1" stroke="#000" stroke-width="0.9"/>
<line x1="183.13" y1="218.6" x2="183.13" y2="220.6" stroke="#000" stroke-width="0.9"/>
<line x1="187.86" y1="218.6" x2="187.86" y2="220.6" stroke="#000" stroke-width="0.9"/>
<line x1="191.22" y1="218.6" x2="191.22" y2="220.6" stroke="#000" stroke-width="0.9"/>
<line x1="193.82" y1="218.6" x2="193.82" y2="220.6" stroke="#000" stroke-width="0.9"/>
<line x1="195.94" y1="218.6" x2="195.94" y2="220.6" stroke="#000" stroke-width="0.9"/>
<line x1="197.74" y1="218.6" x2="197.74" y2="220.6" stroke="#000" stroke-width="0.9"/>
<line x1="199.3" y1="218.6" x2="199.3" y2="220.6" stroke="#000" stroke-width="0.9"/>
<line x1="200.67" y1="218.6" x2="200.67" y2="220.6" stroke="#000" stroke-width="0.9"/>
<line x1="201.9" y1="218.6" x2="201.9" y2="222.1" stroke="#000" stroke-width="0.9"/>
<line x1="209.98" y1="218.6" x2="209.98" y2="220.6" stroke="#000" stroke-width="0.9"/>
<line x1="214.71" y1="218.6" x2="214.71" y2="220.6" stroke="#000" stroke-width="0.9"/>
<line x1="218.07" y1="218.6" x2="218.07" y2="220.6" stroke="#000" stroke-width="0.9"/>
<line x1="220.67" y1="218.6" x2="220.67" y2="220.6" stroke="#000" stroke-width="0.9"/>
<line x1="222.79" y1="218.6" x2="222.79" y2="220.6" stroke="#000" stroke-width="0.9"/>
<line x1="224.59" y1="218.6" x2="224.59" y2="220.6" stroke="#000" stroke-width="0.9"/>
<line x1="226.15" y1="218.6" x2="226.15" y2="220.6" stroke="#000" stroke-width="0.9"/>
<line x1="227.52" y1="218.6" x2="227.52" y2="220.6" stroke="#000" stroke-width="0.9"/>
<line x1="228.75" y1="218.6" x2="228.75" y2="222.1" stroke="#000" stroke-width="0.9"/>
<line x1="236.83" y1="218.6" x2="236.83" y2="220.6" stroke="#000" stroke-width="0.9"/>
<line x1="241.56" y1="218.6" x2="241.56" y2="220.6" stroke="#000" stroke-width="0.9"/>
<line x1="244.92" y1="218.6" x2="244.92" y2="220.6" stroke="#000" stroke-width="0.9"/>
<line x1="247.52" y1="218.6" x2="247.52" y2="220.6" stroke="#000" stroke-width="0.9"/>
<line x1="249.64" y1="218.6" x2="249.64" y2="220.6" stroke="#000" stroke-width="0.9"/>
<line x1="251.44" y1="218.6" x2="251.44" y2="220.6" stroke="#000" stroke-width="0.9"/>
<line x1="253.0" y1="218.6" x2="253.0" y2="220.6" stroke="#000" stroke-width="0.9"/>
<line x1="254.37" y1="218.6" x2="254.37" y2="220.6" stroke="#000" stroke-width="0.9"/>
<line x1="255.6" y1="218.6" x2="255.6" y2="222.1" stroke="#000" stroke-width="0.9"/>
<polyline points="160.1,154.5 162.2,155.5 164.4,156.6 166.5,156.6 167.6,162.0 168.2,169.5 169.2,174.9 170.3,178.2 171.4,181.4 172.5,183.5 173.5,186.8 174.6,190.0 175.7,193.2 176.8,196.5 177.8,198.6 179.5,202.9 181.6,207.2 183.8,209.4 187.0,211.5 190.2,213.7 194.5,214.2 198.8,213.7 197.5,214.0 202.4,214.6 209.8,215.0 219.6,215.5 231.9,215.2 241.8,215.5 249.2,215.2" fill="none" stroke="#222" stroke-width="1.7" stroke-linejoin="round" stroke-linecap="round" stroke-dasharray="0.01 4.0"/>
<polyline points="149.6,216.5 149.2,215.2 149.4,213.9 149.1,212.6 149.7,211.3 149.4,209.9 150.0,208.7 149.9,207.3 150.0,206.0 150.3,204.7 149.6,203.4 149.4,202.1 149.6,200.8 149.7,199.5 149.6,198.1 149.7,196.8 150.4,195.5 150.9,194.3 150.6,192.9 151.2,191.7 151.3,190.3 150.5,188.9 151.3,187.5 151.3,186.0 151.1,184.5 152.2,183.2 151.7,181.6 152.3,180.1 152.7,178.6 153.3,177.2 153.2,175.7 153.2,174.3 153.5,172.9 153.4,171.5 154.7,170.4 154.2,169.1 155.9,170.6 156.5,172.4 156.8,174.3 157.1,176.1 157.0,178.1 157.4,179.9 158.0,181.8 159.3,183.4 158.9,185.4 159.5,187.2 160.0,189.0 160.1,191.0 161.6,192.5 161.9,194.4 161.7,196.4 162.0,197.9 162.7,199.2 164.0,200.8 164.4,202.3 165.0,203.8 166.9,205.2 168.6,207.2 170.4,208.9 172.3,210.2 173.9,211.4 175.2,211.6 176.4,212.4 177.5,213.1 178.3,214.4 180.6,214.8 182.1,215.8 183.8,215.5 185.3,215.5 186.6,216.7 188.1,216.1 189.4,216.9 190.7,216.9 192.1,217.1 193.5,216.3 195.0,216.7 196.5,216.3 198.0,217.3 199.5,217.3 201.0,216.9" fill="none" stroke="#000" stroke-width="1.1" stroke-linejoin="round" stroke-linecap="butt"/>
<polyline points="148.9,218.3 148.7,217.0 148.5,215.6 149.3,214.3 148.8,212.9 149.0,211.6 148.4,210.2 148.5,208.9 148.3,207.6 149.3,206.2 149.1,204.9 148.5,203.5 149.6,202.2 148.8,200.8 149.0,199.5 148.7,198.1 148.9,196.8 149.7,195.6 149.0,194.2 148.8,192.9 149.3,191.6 149.1,190.3 150.0,189.0 148.9,187.7 150.1,186.4 148.9,185.1 150.1,183.8 149.8,182.5 149.2,181.1 149.6,179.8 149.4,178.4 149.4,177.1 149.3,175.7 149.6,174.3 150.5,173.0 150.5,171.6 150.4,170.2 149.3,168.8 149.6,167.4 150.5,166.1 149.4,164.7 150.3,163.3 149.8,161.9 149.4,160.7 151.0,161.8 150.1,163.3 150.8,164.7 151.1,166.1 151.4,167.4 150.2,168.8 150.7,170.2 151.2,171.6 150.9,173.0 150.3,174.3 151.3,175.7 150.8,177.1 151.5,178.4 151.4,179.7 151.8,181.8 152.2,179.9 152.0,178.0 151.9,176.6 152.0,175.2 152.9,173.9 152.8,172.5 152.6,171.1 152.6,169.7 153.2,168.4 153.4,167.0 153.6,165.6 153.4,164.3 153.0,162.8 152.9,161.3 153.9,159.9 153.5,158.4 154.1,156.9 153.2,155.4 154.4,154.0 153.8,152.5 154.6,151.1 154.7,149.6 154.4,148.1 153.9,146.6 155.3,145.3 154.9,143.7 155.6,142.4 155.3,140.8 155.6,139.3 157.0,138.1 158.5,137.6 160.2,139.4 160.3,140.8 160.5,142.3 161.5,143.5 161.1,145.0 161.3,146.5 161.4,148.1 162.1,149.5 161.5,151.5 161.6,153.3 161.6,154.8 162.6,156.3 162.2,157.9 163.1,159.6 163.0,161.6 164.4,162.7 163.8,164.3 164.0,165.9 164.9,167.3 165.2,168.8 165.6,170.7 166.1,172.5 167.1,173.9 166.1,175.7 167.4,177.0 167.9,178.8 168.5,180.6 168.8,182.5 168.4,184.5 170.0,186.1 170.3,187.9 170.0,189.5 171.1,190.7 171.8,192.0 171.5,193.6 172.2,195.0 173.0,196.3 174.1,198.3 175.6,198.9 174.9,200.6 175.4,202.0 177.2,203.5 177.8,204.5 178.9,205.1 180.0,206.2 181.4,207.1 182.5,209.0 183.8,210.9 185.1,211.4 185.8,212.7 186.7,213.8 188.2,213.7 190.2,214.9 192.4,216.2 194.6,215.4 196.1,216.6 197.8,217.0 199.4,216.2 200.9,216.5 199.9,216.3 201.4,215.8 202.9,215.6 204.4,216.2 205.9,215.9 207.3,215.3 208.9,215.2 210.4,215.4 211.9,215.7 213.4,216.5 214.9,216.5 216.5,216.8 218.0,216.9 219.6,217.2 221.0,216.0 222.4,216.6 223.7,217.2 225.1,217.1 226.4,216.1 227.8,216.3 229.2,216.5 230.5,216.1 231.9,216.3 233.3,215.6 234.7,216.1 236.1,216.2 237.5,215.5 239.0,215.7 240.4,216.9 241.7,216.6 243.2,216.9 244.7,216.6 246.2,216.9 247.6,217.1 249.1,217.2 250.7,216.1 252.2,217.1 253.8,216.7 255.3,217.1" fill="none" stroke="#000" stroke-width="2.5" stroke-linejoin="round" stroke-linecap="butt"/>
<text x="227.0" y="140.0" font-size="12.8" font-weight="normal" text-anchor="start" fill="#111" stroke="#111" stroke-width="0.3" textLength="33.6" lengthAdjust="spacingAndGlyphs">CD82</text>
<line x1="276.7" y1="138.3" x2="343.5" y2="138.3" stroke="#000" stroke-width="1.3"/>
<line x1="276.7" y1="138.3" x2="276.7" y2="219.0" stroke="#000" stroke-width="1.3"/>
<line x1="276.7" y1="219.0" x2="384.4" y2="219.0" stroke="#000" stroke-width="1.3"/>
<line x1="384.4" y1="149.6" x2="384.4" y2="219.0" stroke="#000" stroke-width="1.3"/>
<line x1="272.2" y1="219.0" x2="276.7" y2="219.0" stroke="#000" stroke-width="0.9"/>
<line x1="273.9" y1="215.9" x2="276.7" y2="215.9" stroke="#000" stroke-width="0.9"/>
<line x1="273.9" y1="212.8" x2="276.7" y2="212.8" stroke="#000" stroke-width="0.9"/>
<line x1="273.9" y1="209.7" x2="276.7" y2="209.7" stroke="#000" stroke-width="0.9"/>
<line x1="273.9" y1="206.6" x2="276.7" y2="206.6" stroke="#000" stroke-width="0.9"/>
<line x1="272.2" y1="203.5" x2="276.7" y2="203.5" stroke="#000" stroke-width="0.9"/>
<line x1="273.9" y1="200.4" x2="276.7" y2="200.4" stroke="#000" stroke-width="0.9"/>
<line x1="273.9" y1="197.3" x2="276.7" y2="197.3" stroke="#000" stroke-width="0.9"/>
<line x1="273.9" y1="194.2" x2="276.7" y2="194.2" stroke="#000" stroke-width="0.9"/>
<line x1="273.9" y1="191.1" x2="276.7" y2="191.1" stroke="#000" stroke-width="0.9"/>
<line x1="272.2" y1="188.0" x2="276.7" y2="188.0" stroke="#000" stroke-width="0.9"/>
<line x1="273.9" y1="184.9" x2="276.7" y2="184.9" stroke="#000" stroke-width="0.9"/>
<line x1="273.9" y1="181.8" x2="276.7" y2="181.8" stroke="#000" stroke-width="0.9"/>
<line x1="273.9" y1="178.7" x2="276.7" y2="178.7" stroke="#000" stroke-width="0.9"/>
<line x1="273.9" y1="175.6" x2="276.7" y2="175.6" stroke="#000" stroke-width="0.9"/>
<line x1="272.2" y1="172.5" x2="276.7" y2="172.5" stroke="#000" stroke-width="0.9"/>
<line x1="273.9" y1="169.4" x2="276.7" y2="169.4" stroke="#000" stroke-width="0.9"/>
<line x1="273.9" y1="166.3" x2="276.7" y2="166.3" stroke="#000" stroke-width="0.9"/>
<line x1="273.9" y1="163.2" x2="276.7" y2="163.2" stroke="#000" stroke-width="0.9"/>
<line x1="273.9" y1="160.1" x2="276.7" y2="160.1" stroke="#000" stroke-width="0.9"/>
<line x1="272.2" y1="157.0" x2="276.7" y2="157.0" stroke="#000" stroke-width="0.9"/>
<line x1="273.9" y1="153.9" x2="276.7" y2="153.9" stroke="#000" stroke-width="0.9"/>
<line x1="273.9" y1="150.8" x2="276.7" y2="150.8" stroke="#000" stroke-width="0.9"/>
<line x1="273.9" y1="147.7" x2="276.7" y2="147.7" stroke="#000" stroke-width="0.9"/>
<line x1="273.9" y1="144.6" x2="276.7" y2="144.6" stroke="#000" stroke-width="0.9"/>
<line x1="272.2" y1="141.5" x2="276.7" y2="141.5" stroke="#000" stroke-width="0.9"/>
<line x1="276.7" y1="219.0" x2="276.7" y2="222.5" stroke="#000" stroke-width="0.9"/>
<line x1="284.81" y1="219.0" x2="284.81" y2="221.0" stroke="#000" stroke-width="0.9"/>
<line x1="289.55" y1="219.0" x2="289.55" y2="221.0" stroke="#000" stroke-width="0.9"/>
<line x1="292.91" y1="219.0" x2="292.91" y2="221.0" stroke="#000" stroke-width="0.9"/>
<line x1="295.52" y1="219.0" x2="295.52" y2="221.0" stroke="#000" stroke-width="0.9"/>
<line x1="297.65" y1="219.0" x2="297.65" y2="221.0" stroke="#000" stroke-width="0.9"/>
<line x1="299.45" y1="219.0" x2="299.45" y2="221.0" stroke="#000" stroke-width="0.9"/>
<line x1="301.02" y1="219.0" x2="301.02" y2="221.0" stroke="#000" stroke-width="0.9"/>
<line x1="302.39" y1="219.0" x2="302.39" y2="221.0" stroke="#000" stroke-width="0.9"/>
<line x1="303.62" y1="219.0" x2="303.62" y2="222.5" stroke="#000" stroke-width="0.9"/>
<line x1="311.73" y1="219.0" x2="311.73" y2="221.0" stroke="#000" stroke-width="0.9"/>
<line x1="316.47" y1="219.0" x2="316.47" y2="221.0" stroke="#000" stroke-width="0.9"/>
<line x1="319.84" y1="219.0" x2="319.84" y2="221.0" stroke="#000" stroke-width="0.9"/>
<line x1="322.44" y1="219.0" x2="322.44" y2="221.0" stroke="#000" stroke-width="0.9"/>
<line x1="324.58" y1="219.0" x2="324.58" y2="221.0" stroke="#000" stroke-width="0.9"/>
<line x1="326.38" y1="219.0" x2="326.38" y2="221.0" stroke="#000" stroke-width="0.9"/>
<line x1="327.94" y1="219.0" x2="327.94" y2="221.0" stroke="#000" stroke-width="0.9"/>
<line x1="329.32" y1="219.0" x2="329.32" y2="221.0" stroke="#000" stroke-width="0.9"/>
<line x1="330.55" y1="219.0" x2="330.55" y2="222.5" stroke="#000" stroke-width="0.9"/>
<line x1="338.66" y1="219.0" x2="338.66" y2="221.0" stroke="#000" stroke-width="0.9"/>
<line x1="343.4" y1="219.0" x2="343.4" y2="221.0" stroke="#000" stroke-width="0.9"/>
<line x1="346.76" y1="219.0" x2="346.76" y2="221.0" stroke="#000" stroke-width="0.9"/>
<line x1="349.37" y1="219.0" x2="349.37" y2="221.0" stroke="#000" stroke-width="0.9"/>
<line x1="351.5" y1="219.0" x2="351.5" y2="221.0" stroke="#000" stroke-width="0.9"/>
<line x1="353.3" y1="219.0" x2="353.3" y2="221.0" stroke="#000" stroke-width="0.9"/>
<line x1="354.87" y1="219.0" x2="354.87" y2="221.0" stroke="#000" stroke-width="0.9"/>
<line x1="356.24" y1="219.0" x2="356.24" y2="221.0" stroke="#000" stroke-width="0.9"/>
<line x1="357.47" y1="219.0" x2="357.47" y2="222.5" stroke="#000" stroke-width="0.9"/>
<line x1="365.58" y1="219.0" x2="365.58" y2="221.0" stroke="#000" stroke-width="0.9"/>
<line x1="370.32" y1="219.0" x2="370.32" y2="221.0" stroke="#000" stroke-width="0.9"/>
<line x1="373.69" y1="219.0" x2="373.69" y2="221.0" stroke="#000" stroke-width="0.9"/>
<line x1="376.29" y1="219.0" x2="376.29" y2="221.0" stroke="#000" stroke-width="0.9"/>
<line x1="378.43" y1="219.0" x2="378.43" y2="221.0" stroke="#000" stroke-width="0.9"/>
<line x1="380.23" y1="219.0" x2="380.23" y2="221.0" stroke="#000" stroke-width="0.9"/>
<line x1="381.79" y1="219.0" x2="381.79" y2="221.0" stroke="#000" stroke-width="0.9"/>
<line x1="383.17" y1="219.0" x2="383.17" y2="221.0" stroke="#000" stroke-width="0.9"/>
<line x1="384.4" y1="219.0" x2="384.4" y2="222.5" stroke="#000" stroke-width="0.9"/>
<polyline points="277.8,207.2 278.9,202.9 279.5,198.6 280.0,194.3 280.5,190.0 281.1,185.7 281.1,181.4 281.4,177.1 281.6,172.8 282.2,166.3 283.2,162.0 283.2,157.7 283.2,153.4 283.2,149.1 283.2,144.8 283.8,141.5 285.9,141.5 289.7,142.6 289.7,146.9 290.0,151.2 292.4,155.5 294.5,157.7 295.1,162.0 293.5,166.3 295.6,170.6 296.2,174.9 296.7,178.2 297.8,181.4 299.4,185.7 301.0,187.8 301.5,192.2 303.7,194.3 301.5,196.5 305.3,198.6 306.9,202.9 308.0,207.2 310.7,211.0 314.5,212.6 318.2,214.2 321.5,215.3 325.8,214.2 329.0,214.8 324.5,214.6 327.1,214.0 329.6,215.2 332.2,217.1 337.2,217.8" fill="none" stroke="#222" stroke-width="1.7" stroke-linejoin="round" stroke-linecap="round" stroke-dasharray="0.01 4.0"/>
<polyline points="277.4,218.2 279.3,216.7 281.6,215.9 283.0,215.1 283.9,213.8 284.7,212.4 285.9,211.6 287.1,212.6 288.3,215.2 289.0,214.1 289.8,212.8 290.9,211.6 291.2,209.7 292.5,208.3 293.4,207.0 293.5,205.4 293.8,203.9 294.4,202.6 294.8,201.3 294.8,199.8 295.2,198.5 295.6,197.1 296.1,195.7 296.6,194.3 296.8,192.8 297.1,191.4 297.3,189.9 298.1,188.7 298.7,187.4 298.7,186.0 298.9,184.6 299.3,183.3 299.1,181.9 299.9,180.6 299.9,179.2 300.2,177.9 300.5,176.7 300.5,175.3 300.6,174.0 300.7,172.7 300.8,171.1 301.3,169.5 301.3,167.9 301.6,166.3 301.2,164.8 301.7,163.4 302.4,162.3 303.4,160.9 303.4,162.5 303.7,164.2 304.0,166.3 304.9,164.7 304.3,163.1 304.9,161.5 304.4,159.8 304.4,158.2 305.4,156.6 305.1,155.0 304.8,153.3 306.0,151.2 306.3,153.4 307.3,151.4 308.9,152.1 309.8,154.2 310.2,155.8 311.5,157.8 313.2,159.7 313.8,161.9 314.3,160.3 315.2,158.8 315.2,157.3 315.6,155.9 315.6,154.5 315.4,153.0 315.7,151.6 315.8,150.2 315.9,148.8 315.6,147.5 316.1,146.1 316.0,144.8 316.3,143.4 315.5,142.1 316.4,140.8 316.6,139.4 315.9,140.7 316.1,142.1 316.3,143.4 315.8,144.8 316.3,146.1 316.6,147.5 316.2,148.8 316.2,150.2 316.6,151.5 317.0,152.8 317.1,154.2 317.2,155.5 317.5,157.2 318.4,158.7 319.2,160.8 320.3,159.9 321.6,162.0 322.0,163.4 321.9,164.9 322.2,166.4 323.1,167.9 323.7,169.5 324.3,171.7 324.6,170.2 324.5,168.8 325.0,167.4 325.1,166.0 324.7,164.5 324.8,163.1 325.5,164.5 325.0,165.9 325.0,167.3 324.9,168.7 325.8,170.1 325.6,171.5 325.2,172.9 326.2,174.3 326.2,175.7 325.7,177.1 326.0,178.4 325.9,179.9 326.3,181.2 326.8,182.5 326.5,184.0 327.3,185.5 327.5,187.0 327.5,188.5 327.8,190.0 327.4,188.8 327.4,187.4 326.8,186.2 327.1,184.8 326.5,183.6 326.0,182.3 325.2,181.2 325.2,179.8 324.9,178.5 324.7,177.2 324.4,175.9 324.4,174.6 324.1,173.3 323.3,172.1 322.9,170.8 322.8,169.5 322.9,168.1 322.2,166.9 322.6,168.3 322.9,169.6 323.9,170.7 324.1,172.0 323.7,173.5 324.9,174.6 324.6,173.2 324.3,171.8 325.2,170.4 325.0,169.0 325.2,167.6 325.5,166.2 325.5,164.8 325.0,163.3 325.6,161.9 325.5,163.3 325.3,164.8 325.4,166.2 325.8,167.6 325.9,169.0 325.5,170.5 325.6,171.9 326.0,173.3 325.5,175.1 326.1,176.7 326.9,178.4 326.7,180.0 326.4,181.6 327.1,183.2 326.9,184.8 327.8,186.4 327.7,188.1 327.3,189.9 327.9,191.1 328.2,192.4 329.0,193.6 329.0,194.9 329.2,196.2 329.9,197.4 329.8,198.8 330.2,200.0 330.0,201.4 330.8,202.6 331.6,203.8 332.4,204.7 334.4,206.1 334.8,207.8 336.2,208.5 338.1,209.8 340.0,211.2 341.0,212.7 342.1,214.3 343.5,214.7 344.7,215.5 346.3,215.4 347.5,216.0 349.2,217.1 351.2,216.9 352.8,217.5 354.4,217.3 356.0,217.2 357.5,217.5 359.1,217.3 360.6,218.2 362.1,217.9 363.6,217.6 365.2,217.8" fill="none" stroke="#000" stroke-width="1.1" stroke-linejoin="round" stroke-linecap="butt"/>
<polyline points="276.3,213.7 277.4,215.7 278.7,216.9 280.8,217.4 282.7,215.9 285.0,215.4 287.0,214.1 289.3,213.8 289.9,211.9 290.7,210.2 292.7,209.1 293.4,207.4 293.2,205.5 294.5,204.1 294.8,202.7 294.5,201.1 295.2,199.7 296.1,198.4 295.8,196.8 296.8,195.5 296.2,193.9 296.7,192.5 297.5,191.1 297.2,189.5 297.7,188.1 298.8,186.9 298.6,185.4 299.2,184.2 298.8,182.7 298.9,181.3 299.4,179.9 299.3,178.5 300.6,177.2 299.8,175.6 300.4,174.2 299.9,172.7 300.7,171.3 300.7,169.9 300.9,168.4 300.6,166.9 300.8,165.5 302.0,164.3 301.7,162.7 301.9,161.2 302.2,159.8 302.5,158.4 302.6,156.9 302.5,155.5 303.5,154.2 303.2,152.8 303.1,151.5 304.0,150.2 303.3,148.8 303.6,147.4 304.6,146.2 303.7,144.7 304.3,143.3 305.1,142.0 305.2,140.6 305.7,138.6 306.6,140.4 307.2,142.7 308.2,144.2 307.9,146.0 309.3,147.2 308.6,148.9 309.6,150.2 310.5,151.6 310.8,153.4 311.6,154.7 311.1,156.3 312.1,157.6 311.6,159.3 312.4,160.6 313.0,162.0 313.5,163.3 313.4,164.9 314.3,166.3 313.6,167.8 314.8,169.1 314.4,170.6 314.8,172.1 315.5,173.4 315.2,175.0 316.0,176.5 315.9,178.2 316.5,179.8 317.4,181.3 317.8,182.9 318.8,184.5 319.0,185.9 318.5,187.6 319.5,188.8 319.6,190.6 320.9,191.9 321.4,194.4 322.7,195.2 323.6,196.5 324.9,197.4 326.2,199.3 326.6,200.9 325.6,199.8 324.5,198.8 324.2,197.1 322.7,196.3 322.1,194.8 323.0,196.1 324.2,196.3 324.5,197.6 324.9,198.9 326.3,199.8 326.7,201.1 327.7,202.2 327.5,203.9 328.1,205.2 329.2,206.3 329.7,207.5 330.8,209.7 332.1,210.1 333.7,209.9 334.3,211.6 335.5,212.6 335.9,214.1 337.5,214.6 338.6,215.3 340.3,216.8 342.2,216.8 343.5,217.2 345.0,216.7 346.2,217.1 348.1,217.6 349.9,218.0 351.6,218.1 353.3,218.2 355.0,217.8 356.7,218.1 358.4,218.6 360.1,218.0 361.8,218.9 363.5,218.5 365.1,218.7 366.9,218.2 368.5,218.6 370.2,219.0 371.8,218.6 373.3,218.1 374.8,219.3 376.3,219.2 377.8,218.5 379.5,218.1 381.2,219.3 382.9,218.8" fill="none" stroke="#000" stroke-width="2.5" stroke-linejoin="round" stroke-linecap="butt"/>
<text x="351.5" y="140.2" font-size="12.8" font-weight="normal" text-anchor="start" fill="#111" stroke="#111" stroke-width="0.3" textLength="33.7" lengthAdjust="spacingAndGlyphs">CD63</text>
<line x1="406.3" y1="138.2" x2="461.4" y2="138.2" stroke="#000" stroke-width="1.3"/>
<line x1="406.3" y1="138.2" x2="406.3" y2="219.5" stroke="#000" stroke-width="1.3"/>
<line x1="406.3" y1="219.5" x2="513.6" y2="219.5" stroke="#000" stroke-width="1.3"/>
<line x1="513.6" y1="153.8" x2="513.6" y2="219.5" stroke="#000" stroke-width="1.3"/>
<line x1="401.8" y1="219.5" x2="406.3" y2="219.5" stroke="#000" stroke-width="0.9"/>
<line x1="403.5" y1="216.4" x2="406.3" y2="216.4" stroke="#000" stroke-width="0.9"/>
<line x1="403.5" y1="213.3" x2="406.3" y2="213.3" stroke="#000" stroke-width="0.9"/>
<line x1="403.5" y1="210.2" x2="406.3" y2="210.2" stroke="#000" stroke-width="0.9"/>
<line x1="403.5" y1="207.1" x2="406.3" y2="207.1" stroke="#000" stroke-width="0.9"/>
<line x1="401.8" y1="204.0" x2="406.3" y2="204.0" stroke="#000" stroke-width="0.9"/>
<line x1="403.5" y1="200.9" x2="406.3" y2="200.9" stroke="#000" stroke-width="0.9"/>
<line x1="403.5" y1="197.8" x2="406.3" y2="197.8" stroke="#000" stroke-width="0.9"/>
<line x1="403.5" y1="194.7" x2="406.3" y2="194.7" stroke="#000" stroke-width="0.9"/>
<line x1="403.5" y1="191.6" x2="406.3" y2="191.6" stroke="#000" stroke-width="0.9"/>
<line x1="401.8" y1="188.5" x2="406.3" y2="188.5" stroke="#000" stroke-width="0.9"/>
<line x1="403.5" y1="185.4" x2="406.3" y2="185.4" stroke="#000" stroke-width="0.9"/>
<line x1="403.5" y1="182.3" x2="406.3" y2="182.3" stroke="#000" stroke-width="0.9"/>
<line x1="403.5" y1="179.2" x2="406.3" y2="179.2" stroke="#000" stroke-width="0.9"/>
<line x1="403.5" y1="176.1" x2="406.3" y2="176.1" stroke="#000" stroke-width="0.9"/>
<line x1="401.8" y1="173.0" x2="406.3" y2="173.0" stroke="#000" stroke-width="0.9"/>
<line x1="403.5" y1="169.9" x2="406.3" y2="169.9" stroke="#000" stroke-width="0.9"/>
<line x1="403.5" y1="166.8" x2="406.3" y2="166.8" stroke="#000" stroke-width="0.9"/>
<line x1="403.5" y1="163.7" x2="406.3" y2="163.7" stroke="#000" stroke-width="0.9"/>
<line x1="403.5" y1="160.6" x2="406.3" y2="160.6" stroke="#000" stroke-width="0.9"/>
<line x1="401.8" y1="157.5" x2="406.3" y2="157.5" stroke="#000" stroke-width="0.9"/>
<line x1="403.5" y1="154.4" x2="406.3" y2="154.4" stroke="#000" stroke-width="0.9"/>
<line x1="403.5" y1="151.3" x2="406.3" y2="151.3" stroke="#000" stroke-width="0.9"/>
<line x1="403.5" y1="148.2" x2="406.3" y2="148.2" stroke="#000" stroke-width="0.9"/>
<line x1="403.5" y1="145.1" x2="406.3" y2="145.1" stroke="#000" stroke-width="0.9"/>
<line x1="401.8" y1="142.0" x2="406.3" y2="142.0" stroke="#000" stroke-width="0.9"/>
<line x1="403.5" y1="138.9" x2="406.3" y2="138.9" stroke="#000" stroke-width="0.9"/>
<line x1="406.3" y1="219.5" x2="406.3" y2="223.0" stroke="#000" stroke-width="0.9"/>
<line x1="414.38" y1="219.5" x2="414.38" y2="221.5" stroke="#000" stroke-width="0.9"/>
<line x1="419.1" y1="219.5" x2="419.1" y2="221.5" stroke="#000" stroke-width="0.9"/>
<line x1="422.45" y1="219.5" x2="422.45" y2="221.5" stroke="#000" stroke-width="0.9"/>
<line x1="425.05" y1="219.5" x2="425.05" y2="221.5" stroke="#000" stroke-width="0.9"/>
<line x1="427.17" y1="219.5" x2="427.17" y2="221.5" stroke="#000" stroke-width="0.9"/>
<line x1="428.97" y1="219.5" x2="428.97" y2="221.5" stroke="#000" stroke-width="0.9"/>
<line x1="430.53" y1="219.5" x2="430.53" y2="221.5" stroke="#000" stroke-width="0.9"/>
<line x1="431.9" y1="219.5" x2="431.9" y2="221.5" stroke="#000" stroke-width="0.9"/>
<line x1="433.12" y1="219.5" x2="433.12" y2="223.0" stroke="#000" stroke-width="0.9"/>
<line x1="441.2" y1="219.5" x2="441.2" y2="221.5" stroke="#000" stroke-width="0.9"/>
<line x1="445.92" y1="219.5" x2="445.92" y2="221.5" stroke="#000" stroke-width="0.9"/>
<line x1="449.28" y1="219.5" x2="449.28" y2="221.5" stroke="#000" stroke-width="0.9"/>
<line x1="451.87" y1="219.5" x2="451.87" y2="221.5" stroke="#000" stroke-width="0.9"/>
<line x1="454.0" y1="219.5" x2="454.0" y2="221.5" stroke="#000" stroke-width="0.9"/>
<line x1="455.79" y1="219.5" x2="455.79" y2="221.5" stroke="#000" stroke-width="0.9"/>
<line x1="457.35" y1="219.5" x2="457.35" y2="221.5" stroke="#000" stroke-width="0.9"/>
<line x1="458.72" y1="219.5" x2="458.72" y2="221.5" stroke="#000" stroke-width="0.9"/>
<line x1="459.95" y1="219.5" x2="459.95" y2="223.0" stroke="#000" stroke-width="0.9"/>
<line x1="468.03" y1="219.5" x2="468.03" y2="221.5" stroke="#000" stroke-width="0.9"/>
<line x1="472.75" y1="219.5" x2="472.75" y2="221.5" stroke="#000" stroke-width="0.9"/>
<line x1="476.1" y1="219.5" x2="476.1" y2="221.5" stroke="#000" stroke-width="0.9"/>
<line x1="478.7" y1="219.5" x2="478.7" y2="221.5" stroke="#000" stroke-width="0.9"/>
<line x1="480.82" y1="219.5" x2="480.82" y2="221.5" stroke="#000" stroke-width="0.9"/>
<line x1="482.62" y1="219.5" x2="482.62" y2="221.5" stroke="#000" stroke-width="0.9"/>
<line x1="484.18" y1="219.5" x2="484.18" y2="221.5" stroke="#000" stroke-width="0.9"/>
<line x1="485.55" y1="219.5" x2="485.55" y2="221.5" stroke="#000" stroke-width="0.9"/>
<line x1="486.78" y1="219.5" x2="486.78" y2="223.0" stroke="#000" stroke-width="0.9"/>
<line x1="494.85" y1="219.5" x2="494.85" y2="221.5" stroke="#000" stroke-width="0.9"/>
<line x1="499.57" y1="219.5" x2="499.57" y2="221.5" stroke="#000" stroke-width="0.9"/>
<line x1="502.93" y1="219.5" x2="502.93" y2="221.5" stroke="#000" stroke-width="0.9"/>
<line x1="505.52" y1="219.5" x2="505.52" y2="221.5" stroke="#000" stroke-width="0.9"/>
<line x1="507.65" y1="219.5" x2="507.65" y2="221.5" stroke="#000" stroke-width="0.9"/>
<line x1="509.44" y1="219.5" x2="509.44" y2="221.5" stroke="#000" stroke-width="0.9"/>
<line x1="511.0" y1="219.5" x2="511.0" y2="221.5" stroke="#000" stroke-width="0.9"/>
<line x1="512.37" y1="219.5" x2="512.37" y2="221.5" stroke="#000" stroke-width="0.9"/>
<line x1="513.6" y1="219.5" x2="513.6" y2="223.0" stroke="#000" stroke-width="0.9"/>
<polyline points="409.5,209.4 409.7,200.8 410.0,194.3 410.3,188.9 411.1,180.3 412.2,176.0 412.7,171.7 412.9,167.4 413.2,163.1 413.8,160.9 417.0,163.1 420.2,168.5 422.4,168.5 424.5,172.8 424.0,177.1 426.2,181.4 427.2,185.7 428.8,190.0 430.5,194.3 432.1,198.6 433.2,202.9 435.3,207.2 438.5,210.5 441.8,212.6 446.1,214.8 450.4,215.8 454.7,216.9 459.6,217.1 467.2,216.5 472.3,217.1 477.4,216.5 490.1,217.8 502.8,217.1" fill="none" stroke="#222" stroke-width="1.7" stroke-linejoin="round" stroke-linecap="round" stroke-dasharray="0.01 4.0"/>
<polyline points="408.5,218.0 408.0,216.5 408.3,215.1 408.2,213.7 409.1,212.3 408.5,210.8 409.4,209.4 409.2,208.0 408.5,206.7 409.2,205.3 408.9,204.0 409.4,202.7 409.5,201.3 408.9,200.0 408.7,198.6 409.7,197.3 409.2,195.9 409.8,194.6 409.5,193.2 409.6,191.9 409.8,190.5 409.6,189.2 409.4,187.8 409.0,186.4 409.8,185.0 409.6,183.5 409.7,182.1 410.2,180.7 409.4,179.2 410.2,177.8 409.4,176.3 410.2,174.9 410.4,173.5 409.9,172.0 410.3,170.6 410.9,169.2 410.6,167.8 410.6,166.3 410.5,164.9 410.6,163.5 411.2,162.2 411.5,160.9 411.6,159.5 411.9,158.2 412.0,156.8 412.9,155.6 413.0,153.4 413.7,155.0 413.8,156.6 413.6,158.2 413.8,159.8 413.6,161.3 414.5,162.5 414.8,163.8 414.4,165.3 415.5,166.5 415.3,167.9 415.8,169.2 415.6,170.7 416.2,172.1 416.4,173.6 417.3,174.8 417.9,177.2 419.1,179.3 420.3,181.4 420.8,182.6 421.5,183.7 422.8,185.0 423.1,186.7 423.6,188.3 424.3,189.9 425.5,191.9 426.4,194.2 427.5,196.3 428.1,198.7 429.4,200.7 430.8,202.7 431.4,205.0 432.3,204.0 433.3,202.9 434.2,204.2 435.0,205.6 435.7,206.8 436.0,208.7 437.3,209.6 438.9,210.1 439.4,211.7 440.3,213.0 441.7,213.7 443.1,214.2 443.9,215.3 446.1,216.3 447.8,216.9 449.3,218.0 450.7,217.5 452.2,218.5 453.6,218.2 455.0,218.2 456.3,218.6 457.6,218.3 459.0,218.2" fill="none" stroke="#000" stroke-width="1.1" stroke-linejoin="round" stroke-linecap="butt"/>
<polyline points="407.0,219.1 407.0,217.8 406.8,216.5 406.7,215.1 407.7,213.8 407.8,212.5 407.0,211.2 406.9,209.9 407.5,208.6 407.8,207.3 407.9,206.0 406.9,204.7 407.7,203.4 407.8,202.0 407.7,200.7 407.1,199.4 406.9,198.1 407.8,196.8 407.1,195.5 407.2,194.2 407.5,192.9 407.2,191.6 407.9,190.3 407.0,188.9 406.8,187.6 407.5,186.3 407.6,185.0 407.9,183.7 407.7,182.4 408.0,181.1 408.0,179.8 407.4,178.5 407.4,177.1 406.9,175.8 407.1,174.5 407.5,173.2 406.8,171.9 407.7,170.6 407.0,169.3 407.4,168.0 408.1,166.7 406.9,165.4 406.8,164.0 407.4,162.7 407.0,161.4 407.8,160.1 406.8,158.8 408.0,157.5 408.0,156.2 407.9,154.9 407.4,153.6 407.2,152.3 407.7,150.9 407.5,149.6 407.4,148.3 407.3,147.0 407.4,145.7 407.7,144.4 408.0,143.1 408.1,141.8 407.3,140.1 408.7,139.9 408.5,141.2 408.3,142.6 408.6,143.9 408.9,145.2 409.0,146.5 408.7,147.8 408.5,149.2 407.8,150.5 407.9,151.8 408.0,153.1 407.8,154.4 407.9,155.8 408.4,157.1 408.1,158.4 409.2,159.7 408.3,161.0 408.4,162.4 408.9,163.7 408.5,165.0 408.0,166.4 408.9,168.5 409.3,167.1 409.0,165.6 409.2,164.1 410.3,162.6 409.3,160.9 409.7,159.5 410.5,158.3 410.3,156.9 410.0,155.4 411.3,154.0 411.4,152.3 411.9,151.0 411.8,149.6 412.1,148.3 412.2,146.9 412.2,145.5 412.0,144.0 412.3,142.5 413.5,141.1 413.2,139.4 414.3,140.4 413.4,142.1 414.4,143.7 414.7,145.3 414.3,146.9 414.8,148.5 414.6,150.2 414.6,151.8 415.2,153.3 414.9,154.8 415.7,156.2 415.4,157.7 416.4,159.9 418.1,161.9 417.8,163.4 418.5,164.8 418.2,166.3 417.8,167.8 418.4,169.2 418.3,170.7 419.3,172.9 420.7,174.7 420.6,177.2 421.4,178.6 422.6,179.8 421.9,181.5 423.1,183.0 423.9,184.4 424.1,187.2 425.6,187.9 426.3,189.1 428.3,190.9 427.9,192.8 429.4,194.0 430.2,196.2 430.8,197.5 431.6,194.9 433.0,194.4 434.6,196.4 434.9,197.8 434.7,199.4 435.4,200.7 435.3,202.6 436.2,204.1 437.1,206.5 438.5,207.3 439.2,208.7 440.2,209.6 442.2,211.3 442.7,214.0 443.8,214.0 445.3,214.0 445.8,212.7 446.7,215.0 448.4,216.4 450.3,217.3 452.5,217.2 454.5,218.1 456.8,217.7 455.2,218.6 453.6,217.9 452.0,217.5 453.7,218.2 455.4,218.7 457.0,217.9 458.6,218.9 460.1,218.5 461.6,217.8 463.1,217.7 464.7,217.9 466.1,218.5 467.5,218.1 468.9,217.4 470.3,217.2 471.7,217.3 473.2,218.3 474.6,217.4 476.0,217.9 477.4,217.5 478.8,218.1 480.2,217.7 481.6,217.5 483.0,218.6 484.4,218.2 485.8,218.5 487.2,218.7 488.6,219.0 490.0,217.7 491.5,218.1 492.9,217.8 494.3,218.2 495.7,218.6 497.1,218.5 498.5,217.3 499.9,217.5 501.4,218.3 502.8,218.0 504.0,217.3 505.3,217.1 506.9,216.9 508.3,218.1 509.9,217.7 511.3,218.7 512.9,218.4" fill="none" stroke="#000" stroke-width="2.5" stroke-linejoin="round" stroke-linecap="butt"/>
<text x="470.4" y="140.6" font-size="12.8" font-weight="normal" text-anchor="start" fill="#111" stroke="#111" stroke-width="0.3" textLength="48.3" lengthAdjust="spacingAndGlyphs">VCAM-1</text>
<text transform="translate(11.6,125) rotate(-90)" font-size="12.2" text-anchor="middle" textLength="147" lengthAdjust="spacingAndGlyphs">RELATIVE CELL NUMBER</text>
<text x="168.2" y="248.9" font-size="12.6" font-weight="normal" text-anchor="start" fill="#111" textLength="213" lengthAdjust="spacingAndGlyphs">LOG OF FLUORESCENCE INTENSITY</text>
<text x="0.3" y="295.7" font-size="25" font-weight="bold" text-anchor="start" fill="#000" >B</text>
<line x1="64.7" y1="304.5" x2="462.4" y2="304.5" stroke="#333" stroke-width="1"/>
<line x1="462.4" y1="304.5" x2="462.4" y2="583.0" stroke="#333" stroke-width="1"/>
<line x1="64.7" y1="304.5" x2="64.7" y2="583.0" stroke="#222" stroke-width="1.2"/>
<line x1="64.7" y1="583.0" x2="462.4" y2="583.0" stroke="#222" stroke-width="1.2"/>
<line x1="60.7" y1="583.0" x2="64.7" y2="583.0" stroke="#222" stroke-width="1"/>
<text x="56.2" y="588.7" font-size="16" font-weight="normal" text-anchor="end" fill="#111" textLength="7.6" lengthAdjust="spacingAndGlyphs">0</text>
<line x1="60.7" y1="557.68" x2="64.7" y2="557.68" stroke="#222" stroke-width="1"/>
<text x="56.2" y="563.38" font-size="16" font-weight="normal" text-anchor="end" fill="#111" textLength="7.6" lengthAdjust="spacingAndGlyphs">2</text>
<line x1="60.7" y1="532.36" x2="64.7" y2="532.36" stroke="#222" stroke-width="1"/>
<text x="56.2" y="538.06" font-size="16" font-weight="normal" text-anchor="end" fill="#111" textLength="7.6" lengthAdjust="spacingAndGlyphs">4</text>
<line x1="60.7" y1="507.05" x2="64.7" y2="507.05" stroke="#222" stroke-width="1"/>
<text x="56.2" y="512.75" font-size="16" font-weight="normal" text-anchor="end" fill="#111" textLength="7.6" lengthAdjust="spacingAndGlyphs">6</text>
<line x1="60.7" y1="481.73" x2="64.7" y2="481.73" stroke="#222" stroke-width="1"/>
<text x="56.2" y="487.43" font-size="16" font-weight="normal" text-anchor="end" fill="#111" textLength="7.6" lengthAdjust="spacingAndGlyphs">8</text>
<line x1="60.7" y1="456.41" x2="64.7" y2="456.41" stroke="#222" stroke-width="1"/>
<text x="56.2" y="462.11" font-size="16" font-weight="normal" text-anchor="end" fill="#111" textLength="15.2" lengthAdjust="spacingAndGlyphs">10</text>
<line x1="60.7" y1="431.09" x2="64.7" y2="431.09" stroke="#222" stroke-width="1"/>
<text x="56.2" y="436.79" font-size="16" font-weight="normal" text-anchor="end" fill="#111" textLength="15.2" lengthAdjust="spacingAndGlyphs">12</text>
<line x1="60.7" y1="405.77" x2="64.7" y2="405.77" stroke="#222" stroke-width="1"/>
<text x="56.2" y="411.47" font-size="16" font-weight="normal" text-anchor="end" fill="#111" textLength="15.2" lengthAdjust="spacingAndGlyphs">14</text>
<line x1="60.7" y1="380.45" x2="64.7" y2="380.45" stroke="#222" stroke-width="1"/>
<text x="56.2" y="386.15" font-size="16" font-weight="normal" text-anchor="end" fill="#111" textLength="15.2" lengthAdjust="spacingAndGlyphs">16</text>
<line x1="60.7" y1="355.14" x2="64.7" y2="355.14" stroke="#222" stroke-width="1"/>
<text x="56.2" y="360.84" font-size="16" font-weight="normal" text-anchor="end" fill="#111" textLength="15.2" lengthAdjust="spacingAndGlyphs">18</text>
<line x1="60.7" y1="329.82" x2="64.7" y2="329.82" stroke="#222" stroke-width="1"/>
<text x="56.2" y="335.52" font-size="16" font-weight="normal" text-anchor="end" fill="#111" textLength="15.2" lengthAdjust="spacingAndGlyphs">20</text>
<line x1="60.7" y1="304.5" x2="64.7" y2="304.5" stroke="#222" stroke-width="1"/>
<text x="56.2" y="310.2" font-size="16" font-weight="normal" text-anchor="end" fill="#111" textLength="15.2" lengthAdjust="spacingAndGlyphs">22</text>
<rect x="88.50" y="570.34" width="26.55" height="12.66" fill="#000" stroke="#111" stroke-width="1"/>
<rect x="115.05" y="537.43" width="26.55" height="45.57" fill="#c4c4c4" stroke="#111" stroke-width="1"/>
<rect x="141.60" y="567.56" width="26.55" height="15.44" fill="#606060" stroke="#111" stroke-width="1"/>
<line x1="128.32" y1="583.0" x2="128.32" y2="588.0" stroke="#222" stroke-width="1"/>
<rect x="178.80" y="570.34" width="26.55" height="12.66" fill="#000" stroke="#111" stroke-width="1"/>
<rect x="205.35" y="462.74" width="26.55" height="120.26" fill="#c4c4c4" stroke="#111" stroke-width="1"/>
<rect x="231.90" y="567.56" width="26.55" height="15.44" fill="#606060" stroke="#111" stroke-width="1"/>
<line x1="218.62" y1="583.0" x2="218.62" y2="588.0" stroke="#222" stroke-width="1"/>
<rect x="269.10" y="570.34" width="26.55" height="12.66" fill="#000" stroke="#111" stroke-width="1"/>
<rect x="295.65" y="570.34" width="26.55" height="12.66" fill="#c4c4c4" stroke="#111" stroke-width="1"/>
<rect x="322.20" y="413.37" width="26.55" height="169.63" fill="#606060" stroke="#111" stroke-width="1"/>
<line x1="308.93" y1="583.0" x2="308.93" y2="588.0" stroke="#222" stroke-width="1"/>
<rect x="359.40" y="570.34" width="26.55" height="12.66" fill="#000" stroke="#111" stroke-width="1"/>
<rect x="385.95" y="576.29" width="26.55" height="6.71" fill="#c4c4c4" stroke="#111" stroke-width="1"/>
<rect x="412.50" y="334.88" width="26.55" height="248.12" fill="#606060" stroke="#111" stroke-width="1"/>
<line x1="399.22" y1="583.0" x2="399.22" y2="588.0" stroke="#222" stroke-width="1"/>
<rect x="77.1" y="312.9" width="135.4" height="76" fill="#fff" stroke="#222" stroke-width="1.2"/>
<rect x="87" y="325.9" width="33" height="11.8" fill="#000" stroke="#111" stroke-width="1"/>
<text x="128.3" y="336.79999999999995" font-size="14" font-weight="normal" text-anchor="start" fill="#2a2a2a" >K562</text>
<rect x="87" y="345.8" width="33" height="10.6" fill="#cccccc" stroke="#111" stroke-width="1"/>
<text x="128.3" y="356.1" font-size="14" font-weight="normal" text-anchor="start" fill="#2a2a2a" >K562 &#945;4</text>
<rect x="87" y="364.6" width="33" height="11.7" fill="#808080" stroke="#111" stroke-width="1"/>
<text x="128.3" y="375.45000000000005" font-size="14" font-weight="normal" text-anchor="start" fill="#2a2a2a" >K562 LFA-1</text>
<text x="95.6" y="606.4" font-size="17.4" font-weight="normal" text-anchor="start" fill="#111" stroke="#111" stroke-width="0.35" textLength="65.4" lengthAdjust="spacingAndGlyphs">Colo320</text>
<text x="166.9" y="606.4" font-size="17.4" font-weight="normal" text-anchor="start" fill="#111" stroke="#111" stroke-width="0.35" textLength="105.4" lengthAdjust="spacingAndGlyphs">Colo320 CD9</text>
<text x="280.2" y="606.4" font-size="17.4" font-weight="normal" text-anchor="start" fill="#111" stroke="#111" stroke-width="0.35" textLength="64.6" lengthAdjust="spacingAndGlyphs">Colo320</text>
<text x="354.9" y="606.4" font-size="17.4" font-weight="normal" text-anchor="start" fill="#111" stroke="#111" stroke-width="0.35" textLength="104.2" lengthAdjust="spacingAndGlyphs">Colo320 CD9</text>
<line x1="62.8" y1="625.8" x2="230" y2="625.8" stroke="#3a3a3a" stroke-width="1.5"/>
<line x1="279.4" y1="625.8" x2="445.8" y2="625.8" stroke="#3a3a3a" stroke-width="1.5"/>
<text x="94" y="648.8" font-size="17.4" font-weight="normal" text-anchor="start" fill="#111" stroke="#111" stroke-width="0.35" textLength="106" lengthAdjust="spacingAndGlyphs">VCAM-1-GFP</text>
<text x="312.5" y="648.8" font-size="17.4" font-weight="normal" text-anchor="start" fill="#111" stroke="#111" stroke-width="0.35" textLength="101" lengthAdjust="spacingAndGlyphs">ICAM-1-GFP</text>
<text transform="translate(18.6,445.5) rotate(-90)" font-size="20.3" font-weight="bold" text-anchor="middle" textLength="153.5" lengthAdjust="spacingAndGlyphs">Relative binding</text>
<text x="0.3" y="694.3" font-size="24.5" font-weight="bold" text-anchor="start" fill="#000" >C</text>
<line x1="27.3" y1="720.9" x2="259" y2="720.9" stroke="#333" stroke-width="1.5"/>
<line x1="259" y1="720.9" x2="259" y2="932.3" stroke="#333" stroke-width="1.5"/>
<line x1="27.3" y1="720.9" x2="27.3" y2="932.3" stroke="#333" stroke-width="1.5"/>
<line x1="27.3" y1="932.3" x2="259" y2="932.3" stroke="#333" stroke-width="1.5"/>
<line x1="24.3" y1="932.3" x2="27.3" y2="932.3" stroke="#666" stroke-width="0.8"/>
<text x="17" y="935.9" font-size="10" font-weight="normal" text-anchor="end" fill="#111" >0</text>
<line x1="24.3" y1="890.02" x2="27.3" y2="890.02" stroke="#666" stroke-width="0.8"/>
<text x="17" y="893.62" font-size="10" font-weight="normal" text-anchor="end" fill="#111" >0.5</text>
<line x1="24.3" y1="847.74" x2="27.3" y2="847.74" stroke="#666" stroke-width="0.8"/>
<text x="17" y="851.34" font-size="10" font-weight="normal" text-anchor="end" fill="#111" >1</text>
<line x1="24.3" y1="805.46" x2="27.3" y2="805.46" stroke="#666" stroke-width="0.8"/>
<text x="17" y="809.06" font-size="10" font-weight="normal" text-anchor="end" fill="#111" >1.5</text>
<line x1="24.3" y1="763.18" x2="27.3" y2="763.18" stroke="#666" stroke-width="0.8"/>
<text x="17" y="766.78" font-size="10" font-weight="normal" text-anchor="end" fill="#111" >2</text>
<line x1="24.3" y1="720.9" x2="27.3" y2="720.9" stroke="#666" stroke-width="0.8"/>
<text x="17" y="724.5" font-size="10" font-weight="normal" text-anchor="end" fill="#111" >2.5</text>
<line x1="27.3" y1="932.3" x2="27.3" y2="936.3" stroke="#888" stroke-width="0.8"/>
<rect x="57.8" y="847.74" width="42.4" height="84.56" fill="#000" stroke="#111" stroke-width="1"/>
<rect x="100.2" y="732.74" width="42.4" height="199.56" fill="#fff" stroke="#111" stroke-width="1"/>
<rect x="142.6" y="837.59" width="42.4" height="94.71" fill="#808080" stroke="#111" stroke-width="1"/>
<rect x="185" y="796.16" width="42.4" height="136.14" fill="#c8c8c8" stroke="#111" stroke-width="1"/>
<rect x="263.8" y="730" width="20.8" height="4.8" fill="#000" stroke="#333" stroke-width="0.9"/>
<text x="289.6" y="736.0" font-size="10" font-weight="normal" text-anchor="start" fill="#1a1a1a" stroke="#1a1a1a" stroke-width="0.25" textLength="35" lengthAdjust="spacingAndGlyphs">Colo320</text>
<rect x="263.8" y="789.3" width="20.8" height="5.2" fill="#fff" stroke="#333" stroke-width="0.9"/>
<text x="289.6" y="795.5" font-size="10" font-weight="normal" text-anchor="start" fill="#1a1a1a" stroke="#1a1a1a" stroke-width="0.25" textLength="58" lengthAdjust="spacingAndGlyphs">Colo320 CD9</text>
<rect x="263.8" y="863.3" width="20.8" height="5.4" fill="#808080" stroke="#333" stroke-width="0.9"/>
<text x="289.6" y="869.6" font-size="10" font-weight="normal" text-anchor="start" fill="#1a1a1a" stroke="#1a1a1a" stroke-width="0.25" textLength="74.3" lengthAdjust="spacingAndGlyphs">Colo320 CD9x82</text>
<rect x="263.8" y="935.7" width="20.8" height="5.0" fill="#c8c8c8" stroke="#333" stroke-width="0.9"/>
<text x="289.6" y="941.8000000000001" font-size="10" font-weight="normal" text-anchor="start" fill="#1a1a1a" stroke="#1a1a1a" stroke-width="0.25" textLength="89.3" lengthAdjust="spacingAndGlyphs">Colo320 CD82CCG9</text>
<rect x="445.2" y="703" width="71.70" height="44.10" fill="none" stroke="#222" stroke-width="1"/>
<line x1="445.2" y1="703" x2="445.2" y2="747.1" stroke="#000" stroke-width="1.6"/>
<line x1="442.2" y1="747.1" x2="445.2" y2="747.1" stroke="#222" stroke-width="0.7"/>
<line x1="443.4" y1="745.35" x2="445.2" y2="745.35" stroke="#222" stroke-width="0.7"/>
<line x1="443.4" y1="743.6" x2="445.2" y2="743.6" stroke="#222" stroke-width="0.7"/>
<line x1="443.4" y1="741.85" x2="445.2" y2="741.85" stroke="#222" stroke-width="0.7"/>
<line x1="443.4" y1="740.1" x2="445.2" y2="740.1" stroke="#222" stroke-width="0.7"/>
<line x1="442.2" y1="738.35" x2="445.2" y2="738.35" stroke="#222" stroke-width="0.7"/>
<line x1="443.4" y1="736.6" x2="445.2" y2="736.6" stroke="#222" stroke-width="0.7"/>
<line x1="443.4" y1="734.85" x2="445.2" y2="734.85" stroke="#222" stroke-width="0.7"/>
<line x1="443.4" y1="733.1" x2="445.2" y2="733.1" stroke="#222" stroke-width="0.7"/>
<line x1="443.4" y1="731.35" x2="445.2" y2="731.35" stroke="#222" stroke-width="0.7"/>
<line x1="442.2" y1="729.6" x2="445.2" y2="729.6" stroke="#222" stroke-width="0.7"/>
<line x1="443.4" y1="727.85" x2="445.2" y2="727.85" stroke="#222" stroke-width="0.7"/>
<line x1="443.4" y1="726.1" x2="445.2" y2="726.1" stroke="#222" stroke-width="0.7"/>
<line x1="443.4" y1="724.35" x2="445.2" y2="724.35" stroke="#222" stroke-width="0.7"/>
<line x1="443.4" y1="722.6" x2="445.2" y2="722.6" stroke="#222" stroke-width="0.7"/>
<line x1="442.2" y1="720.85" x2="445.2" y2="720.85" stroke="#222" stroke-width="0.7"/>
<line x1="443.4" y1="719.1" x2="445.2" y2="719.1" stroke="#222" stroke-width="0.7"/>
<line x1="443.4" y1="717.35" x2="445.2" y2="717.35" stroke="#222" stroke-width="0.7"/>
<line x1="443.4" y1="715.6" x2="445.2" y2="715.6" stroke="#222" stroke-width="0.7"/>
<line x1="443.4" y1="713.85" x2="445.2" y2="713.85" stroke="#222" stroke-width="0.7"/>
<line x1="442.2" y1="712.1" x2="445.2" y2="712.1" stroke="#222" stroke-width="0.7"/>
<line x1="443.4" y1="710.35" x2="445.2" y2="710.35" stroke="#222" stroke-width="0.7"/>
<line x1="443.4" y1="708.6" x2="445.2" y2="708.6" stroke="#222" stroke-width="0.7"/>
<line x1="443.4" y1="706.85" x2="445.2" y2="706.85" stroke="#222" stroke-width="0.7"/>
<line x1="443.4" y1="705.1" x2="445.2" y2="705.1" stroke="#222" stroke-width="0.7"/>
<line x1="445.2" y1="747.1" x2="445.2" y2="749.6" stroke="#222" stroke-width="0.7"/>
<line x1="450.6" y1="747.1" x2="450.6" y2="748.4" stroke="#222" stroke-width="0.7"/>
<line x1="453.75" y1="747.1" x2="453.75" y2="748.4" stroke="#222" stroke-width="0.7"/>
<line x1="455.99" y1="747.1" x2="455.99" y2="748.4" stroke="#222" stroke-width="0.7"/>
<line x1="457.73" y1="747.1" x2="457.73" y2="748.4" stroke="#222" stroke-width="0.7"/>
<line x1="459.15" y1="747.1" x2="459.15" y2="748.4" stroke="#222" stroke-width="0.7"/>
<line x1="460.35" y1="747.1" x2="460.35" y2="748.4" stroke="#222" stroke-width="0.7"/>
<line x1="461.39" y1="747.1" x2="461.39" y2="748.4" stroke="#222" stroke-width="0.7"/>
<line x1="462.3" y1="747.1" x2="462.3" y2="748.4" stroke="#222" stroke-width="0.7"/>
<line x1="463.12" y1="747.1" x2="463.12" y2="749.6" stroke="#222" stroke-width="0.7"/>
<line x1="468.52" y1="747.1" x2="468.52" y2="748.4" stroke="#222" stroke-width="0.7"/>
<line x1="471.68" y1="747.1" x2="471.68" y2="748.4" stroke="#222" stroke-width="0.7"/>
<line x1="473.92" y1="747.1" x2="473.92" y2="748.4" stroke="#222" stroke-width="0.7"/>
<line x1="475.65" y1="747.1" x2="475.65" y2="748.4" stroke="#222" stroke-width="0.7"/>
<line x1="477.07" y1="747.1" x2="477.07" y2="748.4" stroke="#222" stroke-width="0.7"/>
<line x1="478.27" y1="747.1" x2="478.27" y2="748.4" stroke="#222" stroke-width="0.7"/>
<line x1="479.31" y1="747.1" x2="479.31" y2="748.4" stroke="#222" stroke-width="0.7"/>
<line x1="480.23" y1="747.1" x2="480.23" y2="748.4" stroke="#222" stroke-width="0.7"/>
<line x1="481.05" y1="747.1" x2="481.05" y2="749.6" stroke="#222" stroke-width="0.7"/>
<line x1="486.45" y1="747.1" x2="486.45" y2="748.4" stroke="#222" stroke-width="0.7"/>
<line x1="489.6" y1="747.1" x2="489.6" y2="748.4" stroke="#222" stroke-width="0.7"/>
<line x1="491.84" y1="747.1" x2="491.84" y2="748.4" stroke="#222" stroke-width="0.7"/>
<line x1="493.58" y1="747.1" x2="493.58" y2="748.4" stroke="#222" stroke-width="0.7"/>
<line x1="495.0" y1="747.1" x2="495.0" y2="748.4" stroke="#222" stroke-width="0.7"/>
<line x1="496.2" y1="747.1" x2="496.2" y2="748.4" stroke="#222" stroke-width="0.7"/>
<line x1="497.24" y1="747.1" x2="497.24" y2="748.4" stroke="#222" stroke-width="0.7"/>
<line x1="498.15" y1="747.1" x2="498.15" y2="748.4" stroke="#222" stroke-width="0.7"/>
<line x1="498.97" y1="747.1" x2="498.97" y2="749.6" stroke="#222" stroke-width="0.7"/>
<line x1="504.37" y1="747.1" x2="504.37" y2="748.4" stroke="#222" stroke-width="0.7"/>
<line x1="507.53" y1="747.1" x2="507.53" y2="748.4" stroke="#222" stroke-width="0.7"/>
<line x1="509.77" y1="747.1" x2="509.77" y2="748.4" stroke="#222" stroke-width="0.7"/>
<line x1="511.5" y1="747.1" x2="511.5" y2="748.4" stroke="#222" stroke-width="0.7"/>
<line x1="512.92" y1="747.1" x2="512.92" y2="748.4" stroke="#222" stroke-width="0.7"/>
<line x1="514.12" y1="747.1" x2="514.12" y2="748.4" stroke="#222" stroke-width="0.7"/>
<line x1="515.16" y1="747.1" x2="515.16" y2="748.4" stroke="#222" stroke-width="0.7"/>
<line x1="516.08" y1="747.1" x2="516.08" y2="748.4" stroke="#222" stroke-width="0.7"/>
<line x1="516.9" y1="747.1" x2="516.9" y2="749.6" stroke="#222" stroke-width="0.7"/>
<polyline points="446.2,744.2 447.7,742.6 449.2,739.5 450.8,734.9 452.3,731.8 454.6,728.0 456.2,725.7 457.7,724.5 459.2,725.7 460.8,729.5 462.3,734.9 463.8,739.5 465.4,741.8 466.9,743.4 469.2,744.9 472.3,746.0 478.5,746.9 486.2,747.2" fill="none" stroke="#333" stroke-width="0.8" stroke-linejoin="round" stroke-linecap="butt"/>
<polyline points="445.4,747.2 445.8,721.1 446.2,739.5 446.9,742.6 448.5,742.6 449.2,741.1 450.0,738.0 450.8,733.4 451.5,730.3 452.3,731.8 453.1,730.3 453.8,728.8 454.6,727.2 455.4,726.5 456.9,725.7 457.7,724.9 458.5,724.9 459.2,725.7 460.0,726.5 460.8,728.8 461.5,731.1 462.3,733.4 463.1,734.9 463.8,736.5 464.6,738.0 466.2,738.8 466.9,739.5 467.7,741.1 468.5,742.6 469.2,743.4 470.8,744.2 472.3,744.9 473.8,745.7 475.4,746.5 476.9,746.9 478.5,747.2 480.0,747.2 486.2,747.5 493.8,747.2 498.5,746.5 501.5,747.2 506.2,746.9 513.8,747.2 516.2,747.2" fill="none" stroke="#000" stroke-width="1.7" stroke-linejoin="round" stroke-linecap="butt"/>
<rect x="446.1" y="763.4" width="71.30" height="45.00" fill="none" stroke="#222" stroke-width="1"/>
<line x1="446.1" y1="763.4" x2="446.1" y2="808.4" stroke="#000" stroke-width="1.6"/>
<line x1="443.1" y1="808.4" x2="446.1" y2="808.4" stroke="#222" stroke-width="0.7"/>
<line x1="444.3" y1="806.65" x2="446.1" y2="806.65" stroke="#222" stroke-width="0.7"/>
<line x1="444.3" y1="804.9" x2="446.1" y2="804.9" stroke="#222" stroke-width="0.7"/>
<line x1="444.3" y1="803.15" x2="446.1" y2="803.15" stroke="#222" stroke-width="0.7"/>
<line x1="444.3" y1="801.4" x2="446.1" y2="801.4" stroke="#222" stroke-width="0.7"/>
<line x1="443.1" y1="799.65" x2="446.1" y2="799.65" stroke="#222" stroke-width="0.7"/>
<line x1="444.3" y1="797.9" x2="446.1" y2="797.9" stroke="#222" stroke-width="0.7"/>
<line x1="444.3" y1="796.15" x2="446.1" y2="796.15" stroke="#222" stroke-width="0.7"/>
<line x1="444.3" y1="794.4" x2="446.1" y2="794.4" stroke="#222" stroke-width="0.7"/>
<line x1="444.3" y1="792.65" x2="446.1" y2="792.65" stroke="#222" stroke-width="0.7"/>
<line x1="443.1" y1="790.9" x2="446.1" y2="790.9" stroke="#222" stroke-width="0.7"/>
<line x1="444.3" y1="789.15" x2="446.1" y2="789.15" stroke="#222" stroke-width="0.7"/>
<line x1="444.3" y1="787.4" x2="446.1" y2="787.4" stroke="#222" stroke-width="0.7"/>
<line x1="444.3" y1="785.65" x2="446.1" y2="785.65" stroke="#222" stroke-width="0.7"/>
<line x1="444.3" y1="783.9" x2="446.1" y2="783.9" stroke="#222" stroke-width="0.7"/>
<line x1="443.1" y1="782.15" x2="446.1" y2="782.15" stroke="#222" stroke-width="0.7"/>
<line x1="444.3" y1="780.4" x2="446.1" y2="780.4" stroke="#222" stroke-width="0.7"/>
<line x1="444.3" y1="778.65" x2="446.1" y2="778.65" stroke="#222" stroke-width="0.7"/>
<line x1="444.3" y1="776.9" x2="446.1" y2="776.9" stroke="#222" stroke-width="0.7"/>
<line x1="444.3" y1="775.15" x2="446.1" y2="775.15" stroke="#222" stroke-width="0.7"/>
<line x1="443.1" y1="773.4" x2="446.1" y2="773.4" stroke="#222" stroke-width="0.7"/>
<line x1="444.3" y1="771.65" x2="446.1" y2="771.65" stroke="#222" stroke-width="0.7"/>
<line x1="444.3" y1="769.9" x2="446.1" y2="769.9" stroke="#222" stroke-width="0.7"/>
<line x1="444.3" y1="768.15" x2="446.1" y2="768.15" stroke="#222" stroke-width="0.7"/>
<line x1="444.3" y1="766.4" x2="446.1" y2="766.4" stroke="#222" stroke-width="0.7"/>
<line x1="443.1" y1="764.65" x2="446.1" y2="764.65" stroke="#222" stroke-width="0.7"/>
<line x1="446.1" y1="808.4" x2="446.1" y2="810.9" stroke="#222" stroke-width="0.7"/>
<line x1="451.47" y1="808.4" x2="451.47" y2="809.6999999999999" stroke="#222" stroke-width="0.7"/>
<line x1="454.6" y1="808.4" x2="454.6" y2="809.6999999999999" stroke="#222" stroke-width="0.7"/>
<line x1="456.83" y1="808.4" x2="456.83" y2="809.6999999999999" stroke="#222" stroke-width="0.7"/>
<line x1="458.56" y1="808.4" x2="458.56" y2="809.6999999999999" stroke="#222" stroke-width="0.7"/>
<line x1="459.97" y1="808.4" x2="459.97" y2="809.6999999999999" stroke="#222" stroke-width="0.7"/>
<line x1="461.16" y1="808.4" x2="461.16" y2="809.6999999999999" stroke="#222" stroke-width="0.7"/>
<line x1="462.2" y1="808.4" x2="462.2" y2="809.6999999999999" stroke="#222" stroke-width="0.7"/>
<line x1="463.11" y1="808.4" x2="463.11" y2="809.6999999999999" stroke="#222" stroke-width="0.7"/>
<line x1="463.93" y1="808.4" x2="463.93" y2="810.9" stroke="#222" stroke-width="0.7"/>
<line x1="469.29" y1="808.4" x2="469.29" y2="809.6999999999999" stroke="#222" stroke-width="0.7"/>
<line x1="472.43" y1="808.4" x2="472.43" y2="809.6999999999999" stroke="#222" stroke-width="0.7"/>
<line x1="474.66" y1="808.4" x2="474.66" y2="809.6999999999999" stroke="#222" stroke-width="0.7"/>
<line x1="476.38" y1="808.4" x2="476.38" y2="809.6999999999999" stroke="#222" stroke-width="0.7"/>
<line x1="477.8" y1="808.4" x2="477.8" y2="809.6999999999999" stroke="#222" stroke-width="0.7"/>
<line x1="478.99" y1="808.4" x2="478.99" y2="809.6999999999999" stroke="#222" stroke-width="0.7"/>
<line x1="480.02" y1="808.4" x2="480.02" y2="809.6999999999999" stroke="#222" stroke-width="0.7"/>
<line x1="480.93" y1="808.4" x2="480.93" y2="809.6999999999999" stroke="#222" stroke-width="0.7"/>
<line x1="481.75" y1="808.4" x2="481.75" y2="810.9" stroke="#222" stroke-width="0.7"/>
<line x1="487.12" y1="808.4" x2="487.12" y2="809.6999999999999" stroke="#222" stroke-width="0.7"/>
<line x1="490.25" y1="808.4" x2="490.25" y2="809.6999999999999" stroke="#222" stroke-width="0.7"/>
<line x1="492.48" y1="808.4" x2="492.48" y2="809.6999999999999" stroke="#222" stroke-width="0.7"/>
<line x1="494.21" y1="808.4" x2="494.21" y2="809.6999999999999" stroke="#222" stroke-width="0.7"/>
<line x1="495.62" y1="808.4" x2="495.62" y2="809.6999999999999" stroke="#222" stroke-width="0.7"/>
<line x1="496.81" y1="808.4" x2="496.81" y2="809.6999999999999" stroke="#222" stroke-width="0.7"/>
<line x1="497.85" y1="808.4" x2="497.85" y2="809.6999999999999" stroke="#222" stroke-width="0.7"/>
<line x1="498.76" y1="808.4" x2="498.76" y2="809.6999999999999" stroke="#222" stroke-width="0.7"/>
<line x1="499.57" y1="808.4" x2="499.57" y2="810.9" stroke="#222" stroke-width="0.7"/>
<line x1="504.94" y1="808.4" x2="504.94" y2="809.6999999999999" stroke="#222" stroke-width="0.7"/>
<line x1="508.08" y1="808.4" x2="508.08" y2="809.6999999999999" stroke="#222" stroke-width="0.7"/>
<line x1="510.31" y1="808.4" x2="510.31" y2="809.6999999999999" stroke="#222" stroke-width="0.7"/>
<line x1="512.03" y1="808.4" x2="512.03" y2="809.6999999999999" stroke="#222" stroke-width="0.7"/>
<line x1="513.45" y1="808.4" x2="513.45" y2="809.6999999999999" stroke="#222" stroke-width="0.7"/>
<line x1="514.64" y1="808.4" x2="514.64" y2="809.6999999999999" stroke="#222" stroke-width="0.7"/>
<line x1="515.67" y1="808.4" x2="515.67" y2="809.6999999999999" stroke="#222" stroke-width="0.7"/>
<line x1="516.58" y1="808.4" x2="516.58" y2="809.6999999999999" stroke="#222" stroke-width="0.7"/>
<line x1="517.4" y1="808.4" x2="517.4" y2="810.9" stroke="#222" stroke-width="0.7"/>
<polyline points="449.2,807.2 452.3,806.5 455.4,804.9 458.5,803.8 461.5,803.4 464.6,801.8 467.7,799.5 469.2,796.5 470.8,794.2 472.3,791.8 473.8,789.5 475.4,787.2 476.9,783.4 477.7,781.8 478.5,784.2 480.0,784.9 480.8,783.4 482.3,786.5 483.8,788.8 485.4,792.6 486.9,794.9 488.5,795.7 489.2,794.9 490.8,791.8 491.5,788.8 492.3,788.0 493.1,793.4 493.8,796.5 495.4,798.8 496.9,800.3 498.5,801.8 500.0,802.6 501.5,802.9 503.1,803.4 504.6,804.2 506.2,804.9 507.7,805.7 510.8,806.5 513.8,806.5 516.2,805.7" fill="none" stroke="#333" stroke-width="0.8" stroke-linejoin="round" stroke-linecap="butt"/>
<polyline points="446.2,807.2 446.5,781.1 446.9,798.0 448.5,798.8 450.0,794.9 450.8,791.8 452.3,788.0 453.8,786.5 455.4,784.2 456.2,781.8 456.9,782.6 457.7,783.4 458.5,784.9 459.2,787.2 460.0,790.3 461.5,793.4 463.1,796.5 464.6,798.8 466.2,801.1 467.7,802.6 469.2,804.2 470.8,805.4 473.8,806.0 478.5,806.9 486.2,807.2 493.8,807.5 501.5,807.5 515.4,807.5" fill="none" stroke="#000" stroke-width="1.7" stroke-linejoin="round" stroke-linecap="butt"/>
<rect x="445.2" y="840.2" width="71.80" height="44.50" fill="none" stroke="#222" stroke-width="1"/>
<line x1="445.2" y1="840.2" x2="445.2" y2="884.7" stroke="#000" stroke-width="1.6"/>
<line x1="442.2" y1="884.7" x2="445.2" y2="884.7" stroke="#222" stroke-width="0.7"/>
<line x1="443.4" y1="882.95" x2="445.2" y2="882.95" stroke="#222" stroke-width="0.7"/>
<line x1="443.4" y1="881.2" x2="445.2" y2="881.2" stroke="#222" stroke-width="0.7"/>
<line x1="443.4" y1="879.45" x2="445.2" y2="879.45" stroke="#222" stroke-width="0.7"/>
<line x1="443.4" y1="877.7" x2="445.2" y2="877.7" stroke="#222" stroke-width="0.7"/>
<line x1="442.2" y1="875.95" x2="445.2" y2="875.95" stroke="#222" stroke-width="0.7"/>
<line x1="443.4" y1="874.2" x2="445.2" y2="874.2" stroke="#222" stroke-width="0.7"/>
<line x1="443.4" y1="872.45" x2="445.2" y2="872.45" stroke="#222" stroke-width="0.7"/>
<line x1="443.4" y1="870.7" x2="445.2" y2="870.7" stroke="#222" stroke-width="0.7"/>
<line x1="443.4" y1="868.95" x2="445.2" y2="868.95" stroke="#222" stroke-width="0.7"/>
<line x1="442.2" y1="867.2" x2="445.2" y2="867.2" stroke="#222" stroke-width="0.7"/>
<line x1="443.4" y1="865.45" x2="445.2" y2="865.45" stroke="#222" stroke-width="0.7"/>
<line x1="443.4" y1="863.7" x2="445.2" y2="863.7" stroke="#222" stroke-width="0.7"/>
<line x1="443.4" y1="861.95" x2="445.2" y2="861.95" stroke="#222" stroke-width="0.7"/>
<line x1="443.4" y1="860.2" x2="445.2" y2="860.2" stroke="#222" stroke-width="0.7"/>
<line x1="442.2" y1="858.45" x2="445.2" y2="858.45" stroke="#222" stroke-width="0.7"/>
<line x1="443.4" y1="856.7" x2="445.2" y2="856.7" stroke="#222" stroke-width="0.7"/>
<line x1="443.4" y1="854.95" x2="445.2" y2="854.95" stroke="#222" stroke-width="0.7"/>
<line x1="443.4" y1="853.2" x2="445.2" y2="853.2" stroke="#222" stroke-width="0.7"/>
<line x1="443.4" y1="851.45" x2="445.2" y2="851.45" stroke="#222" stroke-width="0.7"/>
<line x1="442.2" y1="849.7" x2="445.2" y2="849.7" stroke="#222" stroke-width="0.7"/>
<line x1="443.4" y1="847.95" x2="445.2" y2="847.95" stroke="#222" stroke-width="0.7"/>
<line x1="443.4" y1="846.2" x2="445.2" y2="846.2" stroke="#222" stroke-width="0.7"/>
<line x1="443.4" y1="844.45" x2="445.2" y2="844.45" stroke="#222" stroke-width="0.7"/>
<line x1="443.4" y1="842.7" x2="445.2" y2="842.7" stroke="#222" stroke-width="0.7"/>
<line x1="442.2" y1="840.95" x2="445.2" y2="840.95" stroke="#222" stroke-width="0.7"/>
<line x1="445.2" y1="884.7" x2="445.2" y2="887.2" stroke="#222" stroke-width="0.7"/>
<line x1="450.6" y1="884.7" x2="450.6" y2="886.0" stroke="#222" stroke-width="0.7"/>
<line x1="453.76" y1="884.7" x2="453.76" y2="886.0" stroke="#222" stroke-width="0.7"/>
<line x1="456.01" y1="884.7" x2="456.01" y2="886.0" stroke="#222" stroke-width="0.7"/>
<line x1="457.75" y1="884.7" x2="457.75" y2="886.0" stroke="#222" stroke-width="0.7"/>
<line x1="459.17" y1="884.7" x2="459.17" y2="886.0" stroke="#222" stroke-width="0.7"/>
<line x1="460.37" y1="884.7" x2="460.37" y2="886.0" stroke="#222" stroke-width="0.7"/>
<line x1="461.41" y1="884.7" x2="461.41" y2="886.0" stroke="#222" stroke-width="0.7"/>
<line x1="462.33" y1="884.7" x2="462.33" y2="886.0" stroke="#222" stroke-width="0.7"/>
<line x1="463.15" y1="884.7" x2="463.15" y2="887.2" stroke="#222" stroke-width="0.7"/>
<line x1="468.55" y1="884.7" x2="468.55" y2="886.0" stroke="#222" stroke-width="0.7"/>
<line x1="471.71" y1="884.7" x2="471.71" y2="886.0" stroke="#222" stroke-width="0.7"/>
<line x1="473.96" y1="884.7" x2="473.96" y2="886.0" stroke="#222" stroke-width="0.7"/>
<line x1="475.7" y1="884.7" x2="475.7" y2="886.0" stroke="#222" stroke-width="0.7"/>
<line x1="477.12" y1="884.7" x2="477.12" y2="886.0" stroke="#222" stroke-width="0.7"/>
<line x1="478.32" y1="884.7" x2="478.32" y2="886.0" stroke="#222" stroke-width="0.7"/>
<line x1="479.36" y1="884.7" x2="479.36" y2="886.0" stroke="#222" stroke-width="0.7"/>
<line x1="480.28" y1="884.7" x2="480.28" y2="886.0" stroke="#222" stroke-width="0.7"/>
<line x1="481.1" y1="884.7" x2="481.1" y2="887.2" stroke="#222" stroke-width="0.7"/>
<line x1="486.5" y1="884.7" x2="486.5" y2="886.0" stroke="#222" stroke-width="0.7"/>
<line x1="489.66" y1="884.7" x2="489.66" y2="886.0" stroke="#222" stroke-width="0.7"/>
<line x1="491.91" y1="884.7" x2="491.91" y2="886.0" stroke="#222" stroke-width="0.7"/>
<line x1="493.65" y1="884.7" x2="493.65" y2="886.0" stroke="#222" stroke-width="0.7"/>
<line x1="495.07" y1="884.7" x2="495.07" y2="886.0" stroke="#222" stroke-width="0.7"/>
<line x1="496.27" y1="884.7" x2="496.27" y2="886.0" stroke="#222" stroke-width="0.7"/>
<line x1="497.31" y1="884.7" x2="497.31" y2="886.0" stroke="#222" stroke-width="0.7"/>
<line x1="498.23" y1="884.7" x2="498.23" y2="886.0" stroke="#222" stroke-width="0.7"/>
<line x1="499.05" y1="884.7" x2="499.05" y2="887.2" stroke="#222" stroke-width="0.7"/>
<line x1="504.45" y1="884.7" x2="504.45" y2="886.0" stroke="#222" stroke-width="0.7"/>
<line x1="507.61" y1="884.7" x2="507.61" y2="886.0" stroke="#222" stroke-width="0.7"/>
<line x1="509.86" y1="884.7" x2="509.86" y2="886.0" stroke="#222" stroke-width="0.7"/>
<line x1="511.6" y1="884.7" x2="511.6" y2="886.0" stroke="#222" stroke-width="0.7"/>
<line x1="513.02" y1="884.7" x2="513.02" y2="886.0" stroke="#222" stroke-width="0.7"/>
<line x1="514.22" y1="884.7" x2="514.22" y2="886.0" stroke="#222" stroke-width="0.7"/>
<line x1="515.26" y1="884.7" x2="515.26" y2="886.0" stroke="#222" stroke-width="0.7"/>
<line x1="516.18" y1="884.7" x2="516.18" y2="886.0" stroke="#222" stroke-width="0.7"/>
<line x1="517" y1="884.7" x2="517" y2="887.2" stroke="#222" stroke-width="0.7"/>
<polyline points="445.4,857.3 446.2,873.5 446.9,870.4 447.7,868.8 449.2,868.1 450.8,871.2 451.5,867.3 453.1,866.5 454.6,867.3 455.4,868.8 456.2,867.3 456.9,866.5 457.7,868.1 458.5,871.9 459.2,874.2 460.0,876.5 461.5,878.8 463.1,880.4 464.6,881.2 466.2,881.2 467.7,881.2 469.2,881.9 470.8,881.9 472.3,882.7 475.4,882.7 478.5,882.7 481.5,883.0 486.2,883.5 493.8,884.2 501.5,884.5" fill="none" stroke="#333" stroke-width="0.8" stroke-linejoin="round" stroke-linecap="butt"/>
<polyline points="445.4,884.2 446.2,881.9 447.7,881.2 449.2,881.5 450.8,881.2 452.3,880.4 453.8,879.6 455.4,878.8 456.9,878.4 458.5,878.1 460.0,877.3 461.5,876.5 463.1,874.2 463.8,872.7 464.6,871.2 465.4,875.0 466.2,875.8 466.9,874.2 467.7,875.8 469.2,875.0 470.8,876.5 471.5,874.2 472.3,873.5 473.8,875.8 475.4,874.2 476.9,873.5 478.5,873.2 479.2,872.7 480.0,873.5 481.5,874.2 483.1,875.8 484.6,877.3 486.2,879.6 487.7,880.4 489.2,881.2 490.8,881.9 492.3,881.9 493.8,882.7 495.4,883.9 498.5,884.2 500.0,883.5 501.5,884.5 509.2,884.5 516.2,883.9" fill="none" stroke="#000" stroke-width="1.7" stroke-linejoin="round" stroke-linecap="butt"/>
<rect x="445.6" y="910.7" width="71.80" height="44.10" fill="none" stroke="#222" stroke-width="1"/>
<line x1="445.6" y1="910.7" x2="445.6" y2="954.8" stroke="#000" stroke-width="1.6"/>
<line x1="442.6" y1="954.8" x2="445.6" y2="954.8" stroke="#222" stroke-width="0.7"/>
<line x1="443.8" y1="953.05" x2="445.6" y2="953.05" stroke="#222" stroke-width="0.7"/>
<line x1="443.8" y1="951.3" x2="445.6" y2="951.3" stroke="#222" stroke-width="0.7"/>
<line x1="443.8" y1="949.55" x2="445.6" y2="949.55" stroke="#222" stroke-width="0.7"/>
<line x1="443.8" y1="947.8" x2="445.6" y2="947.8" stroke="#222" stroke-width="0.7"/>
<line x1="442.6" y1="946.05" x2="445.6" y2="946.05" stroke="#222" stroke-width="0.7"/>
<line x1="443.8" y1="944.3" x2="445.6" y2="944.3" stroke="#222" stroke-width="0.7"/>
<line x1="443.8" y1="942.55" x2="445.6" y2="942.55" stroke="#222" stroke-width="0.7"/>
<line x1="443.8" y1="940.8" x2="445.6" y2="940.8" stroke="#222" stroke-width="0.7"/>
<line x1="443.8" y1="939.05" x2="445.6" y2="939.05" stroke="#222" stroke-width="0.7"/>
<line x1="442.6" y1="937.3" x2="445.6" y2="937.3" stroke="#222" stroke-width="0.7"/>
<line x1="443.8" y1="935.55" x2="445.6" y2="935.55" stroke="#222" stroke-width="0.7"/>
<line x1="443.8" y1="933.8" x2="445.6" y2="933.8" stroke="#222" stroke-width="0.7"/>
<line x1="443.8" y1="932.05" x2="445.6" y2="932.05" stroke="#222" stroke-width="0.7"/>
<line x1="443.8" y1="930.3" x2="445.6" y2="930.3" stroke="#222" stroke-width="0.7"/>
<line x1="442.6" y1="928.55" x2="445.6" y2="928.55" stroke="#222" stroke-width="0.7"/>
<line x1="443.8" y1="926.8" x2="445.6" y2="926.8" stroke="#222" stroke-width="0.7"/>
<line x1="443.8" y1="925.05" x2="445.6" y2="925.05" stroke="#222" stroke-width="0.7"/>
<line x1="443.8" y1="923.3" x2="445.6" y2="923.3" stroke="#222" stroke-width="0.7"/>
<line x1="443.8" y1="921.55" x2="445.6" y2="921.55" stroke="#222" stroke-width="0.7"/>
<line x1="442.6" y1="919.8" x2="445.6" y2="919.8" stroke="#222" stroke-width="0.7"/>
<line x1="443.8" y1="918.05" x2="445.6" y2="918.05" stroke="#222" stroke-width="0.7"/>
<line x1="443.8" y1="916.3" x2="445.6" y2="916.3" stroke="#222" stroke-width="0.7"/>
<line x1="443.8" y1="914.55" x2="445.6" y2="914.55" stroke="#222" stroke-width="0.7"/>
<line x1="443.8" y1="912.8" x2="445.6" y2="912.8" stroke="#222" stroke-width="0.7"/>
<line x1="445.6" y1="954.8" x2="445.6" y2="957.3" stroke="#222" stroke-width="0.7"/>
<line x1="451.0" y1="954.8" x2="451.0" y2="956.0999999999999" stroke="#222" stroke-width="0.7"/>
<line x1="454.16" y1="954.8" x2="454.16" y2="956.0999999999999" stroke="#222" stroke-width="0.7"/>
<line x1="456.41" y1="954.8" x2="456.41" y2="956.0999999999999" stroke="#222" stroke-width="0.7"/>
<line x1="458.15" y1="954.8" x2="458.15" y2="956.0999999999999" stroke="#222" stroke-width="0.7"/>
<line x1="459.57" y1="954.8" x2="459.57" y2="956.0999999999999" stroke="#222" stroke-width="0.7"/>
<line x1="460.77" y1="954.8" x2="460.77" y2="956.0999999999999" stroke="#222" stroke-width="0.7"/>
<line x1="461.81" y1="954.8" x2="461.81" y2="956.0999999999999" stroke="#222" stroke-width="0.7"/>
<line x1="462.73" y1="954.8" x2="462.73" y2="956.0999999999999" stroke="#222" stroke-width="0.7"/>
<line x1="463.55" y1="954.8" x2="463.55" y2="957.3" stroke="#222" stroke-width="0.7"/>
<line x1="468.95" y1="954.8" x2="468.95" y2="956.0999999999999" stroke="#222" stroke-width="0.7"/>
<line x1="472.11" y1="954.8" x2="472.11" y2="956.0999999999999" stroke="#222" stroke-width="0.7"/>
<line x1="474.36" y1="954.8" x2="474.36" y2="956.0999999999999" stroke="#222" stroke-width="0.7"/>
<line x1="476.1" y1="954.8" x2="476.1" y2="956.0999999999999" stroke="#222" stroke-width="0.7"/>
<line x1="477.52" y1="954.8" x2="477.52" y2="956.0999999999999" stroke="#222" stroke-width="0.7"/>
<line x1="478.72" y1="954.8" x2="478.72" y2="956.0999999999999" stroke="#222" stroke-width="0.7"/>
<line x1="479.76" y1="954.8" x2="479.76" y2="956.0999999999999" stroke="#222" stroke-width="0.7"/>
<line x1="480.68" y1="954.8" x2="480.68" y2="956.0999999999999" stroke="#222" stroke-width="0.7"/>
<line x1="481.5" y1="954.8" x2="481.5" y2="957.3" stroke="#222" stroke-width="0.7"/>
<line x1="486.9" y1="954.8" x2="486.9" y2="956.0999999999999" stroke="#222" stroke-width="0.7"/>
<line x1="490.06" y1="954.8" x2="490.06" y2="956.0999999999999" stroke="#222" stroke-width="0.7"/>
<line x1="492.31" y1="954.8" x2="492.31" y2="956.0999999999999" stroke="#222" stroke-width="0.7"/>
<line x1="494.05" y1="954.8" x2="494.05" y2="956.0999999999999" stroke="#222" stroke-width="0.7"/>
<line x1="495.47" y1="954.8" x2="495.47" y2="956.0999999999999" stroke="#222" stroke-width="0.7"/>
<line x1="496.67" y1="954.8" x2="496.67" y2="956.0999999999999" stroke="#222" stroke-width="0.7"/>
<line x1="497.71" y1="954.8" x2="497.71" y2="956.0999999999999" stroke="#222" stroke-width="0.7"/>
<line x1="498.63" y1="954.8" x2="498.63" y2="956.0999999999999" stroke="#222" stroke-width="0.7"/>
<line x1="499.45" y1="954.8" x2="499.45" y2="957.3" stroke="#222" stroke-width="0.7"/>
<line x1="504.85" y1="954.8" x2="504.85" y2="956.0999999999999" stroke="#222" stroke-width="0.7"/>
<line x1="508.01" y1="954.8" x2="508.01" y2="956.0999999999999" stroke="#222" stroke-width="0.7"/>
<line x1="510.26" y1="954.8" x2="510.26" y2="956.0999999999999" stroke="#222" stroke-width="0.7"/>
<line x1="512.0" y1="954.8" x2="512.0" y2="956.0999999999999" stroke="#222" stroke-width="0.7"/>
<line x1="513.42" y1="954.8" x2="513.42" y2="956.0999999999999" stroke="#222" stroke-width="0.7"/>
<line x1="514.62" y1="954.8" x2="514.62" y2="956.0999999999999" stroke="#222" stroke-width="0.7"/>
<line x1="515.66" y1="954.8" x2="515.66" y2="956.0999999999999" stroke="#222" stroke-width="0.7"/>
<line x1="516.58" y1="954.8" x2="516.58" y2="956.0999999999999" stroke="#222" stroke-width="0.7"/>
<line x1="517.4" y1="954.8" x2="517.4" y2="957.3" stroke="#222" stroke-width="0.7"/>
<polyline points="446.2,953.5 449.2,953.0 452.3,951.9 455.4,950.4 458.5,948.8 461.5,947.3 463.1,945.8 464.6,944.2 466.2,943.5 467.7,943.2 469.2,944.2 470.8,945.8 472.3,945.0 473.8,943.5 475.4,941.9 476.9,939.6 477.7,938.1 478.5,941.9 480.0,942.7 481.5,941.2 482.3,940.4 483.1,941.9 484.6,944.2 486.2,946.5 487.7,947.3 489.2,948.1 490.8,947.3 492.3,946.5 493.1,946.2 493.8,948.8 495.4,950.4 496.9,951.2 498.5,951.9 500.0,952.4 501.5,952.7 504.6,953.9 510.8,954.2" fill="none" stroke="#333" stroke-width="0.8" stroke-linejoin="round" stroke-linecap="butt"/>
<polyline points="445.8,954.2 446.2,928.1 446.9,945.0 448.5,945.8 449.2,941.9 450.0,938.8 450.8,938.1 451.5,940.4 452.3,938.1 453.1,935.8 453.8,937.3 454.6,936.5 455.4,939.6 456.2,936.5 456.9,938.1 457.7,937.3 458.5,935.8 459.2,932.7 460.0,941.9 460.8,942.7 461.5,944.2 463.1,945.8 464.6,947.3 466.2,948.8 467.7,949.6 469.2,950.4 470.8,951.2 472.3,951.9 473.8,952.7 476.9,953.5 480.0,953.9 483.1,954.2 486.2,954.5 501.5,954.5 516.2,954.5" fill="none" stroke="#000" stroke-width="1.7" stroke-linejoin="round" stroke-linecap="butt"/>
<line x1="369.3" y1="782.7" x2="432.7" y2="782.7" stroke="#555" stroke-width="1.3"/>
<line x1="369.3" y1="797.0" x2="432.7" y2="797.0" stroke="#555" stroke-width="1.3"/>
<line x1="370.6" y1="860.5" x2="433.4" y2="860.5" stroke="#555" stroke-width="1.3"/>
<line x1="370.6" y1="874.9" x2="433.4" y2="874.9" stroke="#555" stroke-width="1.3"/>
<line x1="379.1" y1="931.7" x2="433.8" y2="931.7" stroke="#555" stroke-width="1.3"/>
<line x1="379.1" y1="946.4" x2="433.8" y2="946.4" stroke="#555" stroke-width="1.3"/>
<path d="M387.35,776.50 L386.69,776.82 L385.98,777.15 L385.31,777.47 L384.75,777.79 L384.37,778.12 L384.20,778.44 L384.28,778.76 L384.59,779.09 L385.09,779.41 L385.73,779.74 L386.43,780.06 L387.12,780.38 L387.71,780.71 L388.15,781.03 L388.38,781.35 L388.36,781.68 L388.12,782.00 L387.67,782.32 L387.06,782.65 L386.36,782.97 L385.66,783.29 L385.03,783.62 L384.55,783.94 L384.26,784.26 L384.21,784.59 L384.39,784.91 L384.79,785.24 L385.36,785.56 L386.04,785.88 L386.75,786.21 L387.41,786.53 L387.94,786.85 L388.28,787.18 L388.40,787.50 L388.28,787.82 L387.94,788.15 L387.41,788.47 L386.75,788.79 L386.04,789.12 L385.36,789.44 L384.79,789.76 L384.39,790.09 L384.21,790.41 L384.26,790.74 L384.55,791.06 L385.03,791.38 L385.66,791.71 L386.36,792.03 L387.06,792.35 L387.67,792.68 L388.12,793.00 L388.36,793.32 L388.38,793.65 L388.15,793.97 L387.71,794.29 L387.12,794.62 L386.43,794.94 L385.73,795.26 L385.09,795.59 L384.59,795.91 L384.28,796.24 L384.20,796.56 L384.37,796.88 L384.75,797.21 L385.31,797.53 L385.98,797.85 L386.69,798.18 L387.35,798.50" fill="none" stroke="#111" stroke-width="1.1"/>
<path d="M393.50,775.50 L393.38,775.82 L393.04,776.15 L392.51,776.47 L391.85,776.79 L391.14,777.12 L390.46,777.44 L389.89,777.76 L389.49,778.09 L389.31,778.41 L389.36,778.74 L389.65,779.06 L390.13,779.38 L390.76,779.71 L391.46,780.03 L392.16,780.35 L392.77,780.68 L393.22,781.00 L393.46,781.32 L393.48,781.65 L393.25,781.97 L392.81,782.29 L392.22,782.62 L391.53,782.94 L390.83,783.26 L390.19,783.59 L389.69,783.91 L389.38,784.24 L389.30,784.56 L389.47,784.88 L389.85,785.21 L390.41,785.53 L391.08,785.85 L391.79,786.18 L392.45,786.50 L392.99,786.82 L393.36,787.15 L393.50,787.47 L393.40,787.79 L393.08,788.12 L392.56,788.44 L391.91,788.76 L391.21,789.09 L390.52,789.41 L389.94,789.74 L389.52,790.06 L389.32,790.38 L389.35,790.71 L389.61,791.03 L390.08,791.35 L390.70,791.68 L391.40,792.00 L392.10,792.32 L392.72,792.65 L393.19,792.97 L393.45,793.29 L393.48,793.62 L393.28,793.94 L392.86,794.26 L392.28,794.59 L391.59,794.91 L390.89,795.24 L390.24,795.56 L389.72,795.88 L389.40,796.21 L389.30,796.53 L389.44,796.85 L389.81,797.18 L390.35,797.50" fill="none" stroke="#111" stroke-width="1.1"/>
<path d="M401.12,781.00 L401.36,781.32 L401.38,781.64 L401.16,781.96 L400.74,782.28 L400.15,782.60 L399.48,782.92 L398.78,783.24 L398.14,783.56 L397.63,783.88 L397.30,784.20 L397.20,784.52 L397.33,784.84 L397.68,785.16 L398.21,785.48 L398.86,785.80 L399.56,786.12 L400.23,786.44 L400.80,786.76 L401.20,787.08 L401.39,787.40 L401.34,787.72 L401.07,788.04 L400.60,788.36 L399.99,788.68 L399.30,789.00 L398.61,789.32 L398.00,789.64 L397.53,789.96 L397.26,790.28 L397.21,790.60 L397.40,790.92 L397.80,791.24 L398.37,791.56 L399.04,791.88 L399.74,792.20 L400.39,792.52 L400.92,792.84 L401.27,793.16 L401.40,793.48 L401.30,793.80 L400.97,794.12 L400.46,794.44 L399.82,794.76 L399.12,795.08 L398.45,795.40 L397.86,795.72 L397.44,796.04 L397.22,796.36 L397.24,796.68 L397.48,797.00" fill="none" stroke="#111" stroke-width="1.1"/>
<path d="M408.72,782.00 L408.27,782.32 L407.66,782.65 L406.96,782.97 L406.26,783.29 L405.63,783.62 L405.15,783.94 L404.86,784.26 L404.81,784.59 L404.99,784.91 L405.39,785.24 L405.96,785.56 L406.64,785.88 L407.35,786.21 L408.01,786.53 L408.54,786.85 L408.88,787.18 L409.00,787.50 L408.88,787.82 L408.54,788.15 L408.01,788.47 L407.35,788.79 L406.64,789.12 L405.96,789.44 L405.39,789.76 L404.99,790.09 L404.81,790.41 L404.86,790.74 L405.15,791.06 L405.63,791.38 L406.26,791.71 L406.96,792.03 L407.66,792.35 L408.27,792.68 L408.72,793.00 L408.96,793.32 L408.98,793.65 L408.75,793.97 L408.31,794.29 L407.72,794.62 L407.03,794.94 L406.33,795.26 L405.69,795.59 L405.19,795.91 L404.88,796.24 L404.80,796.56 L404.97,796.88 L405.35,797.21 L405.91,797.53 L406.58,797.85 L407.29,798.18 L407.95,798.50 L408.49,798.82 L408.86,799.15 L409.00,799.47 L408.90,799.79 L408.58,800.12 L408.06,800.44 L407.41,800.76 L406.71,801.09 L406.02,801.41 L405.44,801.74 L405.02,802.06 L404.82,802.38 L404.85,802.71 L405.11,803.03 L405.58,803.35 L406.20,803.68 L406.90,804.00" fill="none" stroke="#111" stroke-width="1.1"/>
<path d="M387.35,776.50 Q388.6,772.50 393.50,775.50" fill="none" stroke="#111" stroke-width="1.1"/>
<path d="M390.35,797.50 Q394.8,801.50 397.48,797.00" fill="none" stroke="#111" stroke-width="1.1"/>
<path d="M401.12,781.00 C401.13,780.98 401.25,781.53 401.20,780.90 C401.15,780.27 401.05,778.53 400.80,777.20 C400.55,775.87 400.25,774.35 399.70,772.90 C399.15,771.45 398.12,769.97 397.50,768.50 C396.88,767.03 396.30,765.57 396.00,764.10 C395.70,762.63 395.63,761.05 395.70,759.70 C395.77,758.35 395.92,757.03 396.40,756.00 C396.88,754.97 397.57,754.13 398.60,753.50 C399.63,752.87 401.08,752.45 402.60,752.20 C404.12,751.95 405.98,751.95 407.70,752.00 C409.42,752.05 411.37,752.13 412.90,752.50 C414.43,752.87 415.82,753.43 416.90,754.20 C417.98,754.97 418.85,755.93 419.40,757.10 C419.95,758.27 420.20,759.80 420.20,761.20 C420.20,762.60 419.90,764.17 419.40,765.50 C418.90,766.83 418.17,768.10 417.20,769.20 C416.23,770.30 414.93,771.18 413.60,772.10 C412.27,773.02 410.42,773.90 409.20,774.70 C407.98,775.50 406.97,776.12 406.30,776.90 C405.63,777.68 405.33,778.62 405.20,779.40 C405.07,780.18 404.91,781.17 405.50,781.60 C406.09,782.03 408.18,781.93 408.72,782.00" fill="none" stroke="#111" stroke-width="1.1"/>
<line x1="383.4" y1="768.9" x2="388.6" y2="773.5" stroke="#111" stroke-width="0.9"/>
<circle cx="383.40" cy="768.90" r="1.6" fill="#111"/>
<text x="408.5" y="763.3" font-size="5.8" font-weight="normal" text-anchor="middle" fill="#333" stroke="#333" stroke-width="0.25">CD9</text>
<text x="389.6" y="806.2" font-size="5.6" font-weight="normal" text-anchor="middle" fill="#333" stroke="#333" stroke-width="0.25">NH2</text>
<text x="411.8" y="807.8" font-size="5.6" font-weight="normal" text-anchor="middle" fill="#333" stroke="#333" stroke-width="0.25">COOH</text>
<path d="M387.71,854.30 L387.11,854.62 L386.42,854.95 L385.71,855.27 L385.08,855.59 L384.58,855.92 L384.28,856.24 L384.20,856.56 L384.37,856.89 L384.76,857.21 L385.32,857.54 L385.99,857.86 L386.70,858.18 L387.36,858.51 L387.90,858.83 L388.26,859.15 L388.40,859.48 L388.30,859.80 L387.97,860.12 L387.45,860.45 L386.80,860.77 L386.09,861.09 L385.41,861.42 L384.83,861.74 L384.41,862.06 L384.21,862.39 L384.25,862.71 L384.52,863.04 L384.99,863.36 L385.61,863.68 L386.31,864.01 L387.01,864.33 L387.63,864.65 L388.09,864.98 L388.35,865.30 L388.38,865.62 L388.17,865.95 L387.75,866.27 L387.17,866.59 L386.48,866.92 L385.78,867.24 L385.13,867.56 L384.62,867.89 L384.29,868.21 L384.20,868.54 L384.35,868.86 L384.71,869.18 L385.26,869.51 L385.93,869.83 L386.63,870.15 L387.30,870.48 L387.86,870.80 L388.24,871.12 L388.40,871.45 L388.32,871.77 L388.01,872.09 L387.50,872.42 L386.86,872.74 L386.16,873.06 L385.47,873.39 L384.88,873.71 L384.44,874.04 L384.22,874.36 L384.24,874.68 L384.49,875.01 L384.94,875.33 L385.55,875.65 L386.25,875.98 L386.95,876.30" fill="none" stroke="#111" stroke-width="1.1"/>
<path d="M393.45,853.30 L393.48,853.62 L393.27,853.95 L392.85,854.27 L392.27,854.59 L391.58,854.92 L390.88,855.24 L390.23,855.56 L389.72,855.89 L389.39,856.21 L389.30,856.54 L389.45,856.86 L389.81,857.18 L390.36,857.51 L391.03,857.83 L391.73,858.15 L392.40,858.48 L392.96,858.80 L393.34,859.12 L393.50,859.45 L393.42,859.77 L393.11,860.09 L392.60,860.42 L391.96,860.74 L391.26,861.06 L390.57,861.39 L389.98,861.71 L389.54,862.04 L389.32,862.36 L389.34,862.68 L389.59,863.01 L390.04,863.33 L390.65,863.65 L391.35,863.98 L392.05,864.30 L392.68,864.62 L393.16,864.95 L393.44,865.27 L393.49,865.59 L393.30,865.92 L392.90,866.24 L392.32,866.56 L391.65,866.89 L390.94,867.21 L390.28,867.54 L389.76,867.86 L389.42,868.18 L389.30,868.51 L389.42,868.83 L389.77,869.15 L390.31,869.48 L390.96,869.80 L391.67,870.12 L392.35,870.45 L392.92,870.77 L393.31,871.09 L393.49,871.42 L393.43,871.74 L393.14,872.06 L392.66,872.39 L392.02,872.71 L391.32,873.04 L390.63,873.36 L390.02,873.68 L389.57,874.01 L389.33,874.33 L389.33,874.65 L389.56,874.98 L389.99,875.30" fill="none" stroke="#111" stroke-width="1.1"/>
<path d="M400.86,858.80 L401.24,859.12 L401.40,859.44 L401.32,859.76 L401.02,860.08 L400.53,860.40 L399.91,860.72 L399.21,861.04 L398.53,861.36 L397.93,861.68 L397.48,862.00 L397.24,862.32 L397.22,862.64 L397.44,862.96 L397.86,863.28 L398.45,863.60 L399.12,863.92 L399.82,864.24 L400.46,864.56 L400.97,864.88 L401.30,865.20 L401.40,865.52 L401.27,865.84 L400.92,866.16 L400.39,866.48 L399.74,866.80 L399.04,867.12 L398.37,867.44 L397.80,867.76 L397.40,868.08 L397.21,868.40 L397.26,868.72 L397.53,869.04 L398.00,869.36 L398.61,869.68 L399.30,870.00 L399.99,870.32 L400.60,870.64 L401.07,870.96 L401.34,871.28 L401.39,871.60 L401.20,871.92 L400.80,872.24 L400.23,872.56 L399.56,872.88 L398.86,873.20 L398.21,873.52 L397.68,873.84 L397.33,874.16 L397.20,874.48 L397.30,874.80" fill="none" stroke="#111" stroke-width="1.1"/>
<path d="M408.90,859.80 L408.57,860.12 L408.05,860.45 L407.40,860.77 L406.69,861.09 L406.01,861.42 L405.43,861.74 L405.01,862.06 L404.81,862.39 L404.85,862.71 L405.12,863.04 L405.59,863.36 L406.21,863.68 L406.91,864.01 L407.61,864.33 L408.23,864.65 L408.69,864.98 L408.95,865.30 L408.98,865.62 L408.77,865.95 L408.35,866.27 L407.77,866.59 L407.08,866.92 L406.38,867.24 L405.73,867.56 L405.22,867.89 L404.89,868.21 L404.80,868.54 L404.95,868.86 L405.31,869.18 L405.86,869.51 L406.53,869.83 L407.23,870.15 L407.90,870.48 L408.46,870.80 L408.84,871.12 L409.00,871.45 L408.92,871.77 L408.61,872.09 L408.10,872.42 L407.46,872.74 L406.76,873.06 L406.07,873.39 L405.48,873.71 L405.04,874.04 L404.82,874.36 L404.84,874.68 L405.09,875.01 L405.54,875.33 L406.15,875.65 L406.85,875.98 L407.55,876.30 L408.18,876.62 L408.66,876.95 L408.94,877.27 L408.99,877.59 L408.80,877.92 L408.40,878.24 L407.82,878.56 L407.15,878.89 L406.44,879.21 L405.78,879.54 L405.26,879.86 L404.92,880.18 L404.80,880.51 L404.92,880.83 L405.27,881.15 L405.81,881.48 L406.46,881.80" fill="none" stroke="#111" stroke-width="1.1"/>
<path d="M387.71,854.30 Q388.6,850.30 393.45,853.30" fill="none" stroke="#111" stroke-width="1.1"/>
<path d="M389.99,875.30 Q394.8,879.30 397.30,874.80" fill="none" stroke="#111" stroke-width="1.1"/>
<path d="M400.86,858.80 C401.03,858.82 401.79,859.50 401.90,858.90 C402.01,858.30 401.80,856.53 401.50,855.20 C401.20,853.87 400.77,852.35 400.10,850.90 C399.43,849.45 398.18,847.97 397.50,846.50 C396.82,845.03 396.27,843.57 396.00,842.10 C395.73,840.63 395.72,839.05 395.90,837.70 C396.08,836.35 396.47,834.98 397.10,834.00 C397.73,833.02 398.53,832.30 399.70,831.80 C400.87,831.30 402.58,831.17 404.10,831.00 C405.62,830.83 407.22,830.72 408.80,830.80 C410.38,830.88 412.20,831.08 413.60,831.50 C415.00,831.92 416.23,832.52 417.20,833.30 C418.17,834.08 418.90,835.10 419.40,836.20 C419.90,837.30 420.20,838.55 420.20,839.90 C420.20,841.25 419.90,842.97 419.40,844.30 C418.90,845.63 418.17,846.68 417.20,847.90 C416.23,849.12 414.93,850.50 413.60,851.60 C412.27,852.70 410.42,853.65 409.20,854.50 C407.98,855.35 406.92,855.90 406.30,856.70 C405.68,857.50 405.07,858.78 405.50,859.30 C405.93,859.82 408.33,859.72 408.90,859.80" fill="none" stroke="#111" stroke-width="1.1"/>
<line x1="408.8" y1="824.2" x2="408.8" y2="830.8" stroke="#111" stroke-width="0.9"/>
<circle cx="408.80" cy="824.20" r="1.6" fill="#111"/>
<line x1="388.8" y1="832.2" x2="396" y2="837.3" stroke="#111" stroke-width="0.9"/>
<circle cx="388.80" cy="832.20" r="1.6" fill="#111"/>
<line x1="427.4" y1="837.6" x2="420.9" y2="841.7" stroke="#111" stroke-width="0.9"/>
<circle cx="427.40" cy="837.60" r="1.6" fill="#111"/>
<line x1="384.7" y1="848.3" x2="389.6" y2="852.7" stroke="#111" stroke-width="0.9"/>
<circle cx="384.70" cy="848.30" r="1.6" fill="#111"/>
<text x="408.7" y="842.0" font-size="5.8" font-weight="normal" text-anchor="middle" fill="#333" stroke="#333" stroke-width="0.25">CD82</text>
<text x="389.9" y="884" font-size="5.6" font-weight="normal" text-anchor="middle" fill="#333" stroke="#333" stroke-width="0.25">NH2</text>
<text x="411.8" y="885.6" font-size="5.6" font-weight="normal" text-anchor="middle" fill="#333" stroke="#333" stroke-width="0.25">COOH</text>
<path d="M387.25,932.50 L386.78,932.82 L386.27,933.15 L385.79,933.47 L385.39,933.79 L385.12,934.11 L385.00,934.44 L385.05,934.76 L385.27,935.08 L385.62,935.40 L386.08,935.73 L386.58,936.05 L387.07,936.37 L387.50,936.70 L387.81,937.02 L387.98,937.34 L387.98,937.66 L387.81,937.99 L387.49,938.31 L387.06,938.63 L386.57,938.95 L386.07,939.28 L385.62,939.60 L385.27,939.92 L385.05,940.25 L385.00,940.57 L385.12,940.89 L385.40,941.21 L385.80,941.54 L386.28,941.86 L386.78,942.18 L387.26,942.50 L387.64,942.83 L387.90,943.15 L388.00,943.47 L387.93,943.80 L387.70,944.12 L387.33,944.44 L386.87,944.76 L386.36,945.09 L385.88,945.41 L385.46,945.73 L385.16,946.05 L385.01,946.38 L385.03,946.70" fill="none" stroke="#222" stroke-width="0.95"/>
<path d="M393.60,926.00 L393.28,926.32 L392.84,926.65 L392.35,926.97 L391.85,927.29 L391.40,927.61 L391.05,927.94 L390.85,928.26 L390.81,928.58 L390.93,928.90 L391.21,929.23 L391.62,929.55 L392.10,929.87 L392.60,930.19 L393.07,930.52 L393.45,930.84 L393.71,931.16 L393.80,931.48 L393.72,931.81 L393.49,932.13 L393.11,932.45 L392.65,932.77 L392.15,933.10 L391.66,933.42 L391.25,933.74 L390.95,934.06 L390.81,934.39 L390.84,934.71 L391.03,935.03 L391.36,935.35 L391.80,935.68 L392.30,936.00 L392.80,936.32 L393.24,936.65 L393.57,936.97 L393.76,937.29 L393.79,937.61 L393.65,937.94 L393.35,938.26 L392.94,938.58 L392.45,938.90 L391.95,939.23 L391.49,939.55 L391.11,939.87 L390.88,940.19 L390.80,940.52 L390.89,940.84 L391.15,941.16 L391.53,941.48 L392.00,941.81 L392.50,942.13 L392.98,942.45 L393.39,942.77 L393.67,943.10 L393.79,943.42 L393.75,943.74 L393.55,944.06 L393.20,944.39 L392.75,944.71 L392.25,945.03 L391.76,945.35 L391.32,945.68 L391.00,946.00" fill="none" stroke="#222" stroke-width="0.95"/>
<path d="M400.00,930.00 L400.50,930.32 L400.94,930.64 L401.27,930.97 L401.46,931.29 L401.49,931.61 L401.35,931.93 L401.05,932.26 L400.64,932.58 L400.16,932.90 L399.65,933.22 L399.19,933.54 L398.82,933.87 L398.58,934.19 L398.50,934.51 L398.59,934.83 L398.84,935.16 L399.22,935.48 L399.69,935.80 L400.19,936.12 L400.67,936.44 L401.08,936.77 L401.36,937.09 L401.49,937.41 L401.46,937.73 L401.25,938.06 L400.91,938.38 L400.46,938.70 L399.97,939.02 L399.47,939.34 L399.04,939.67 L398.71,939.99 L398.53,940.31 L398.51,940.63 L398.67,940.96 L398.97,941.28 L399.39,941.60 L399.88,941.92 L400.38,942.24 L400.84,942.57 L401.20,942.89 L401.43,943.21 L401.50,943.53 L401.40,943.86 L401.14,944.18 L400.75,944.50" fill="none" stroke="#222" stroke-width="0.95"/>
<path d="M408.40,930.50 L408.92,930.82 L409.27,931.15 L409.40,931.47 L409.30,931.80 L408.99,932.12 L408.50,932.44 L407.88,932.77 L407.21,933.09 L406.56,933.42 L406.00,933.74 L405.61,934.06 L405.41,934.39 L405.45,934.71 L405.71,935.04 L406.16,935.36 L406.75,935.68 L407.41,936.01 L408.08,936.33 L408.67,936.65 L409.11,936.98 L409.36,937.30 L409.38,937.63 L409.18,937.95 L408.78,938.27 L408.22,938.60 L407.56,938.92 L406.89,939.25 L406.28,939.57 L405.79,939.89 L405.49,940.22 L405.40,940.54 L405.55,940.87 L405.90,941.19 L406.43,941.51 L407.06,941.84 L407.74,942.16 L408.37,942.49 L408.90,942.81 L409.25,943.13 L409.40,943.46 L409.31,943.78 L409.01,944.11 L408.52,944.43 L407.91,944.75 L407.24,945.08 L406.58,945.40 L406.02,945.73 L405.62,946.05 L405.42,946.37 L405.44,946.70 L405.69,947.02 L406.13,947.35 L406.72,947.67 L407.39,947.99 L408.05,948.32 L408.64,948.64 L409.09,948.96 L409.35,949.29 L409.39,949.61 L409.19,949.94 L408.80,950.26 L408.24,950.58 L407.59,950.91 L406.92,951.23 L406.30,951.56 L405.81,951.88 L405.50,952.20 L405.40,952.53 L405.53,952.85 L405.88,953.18 L406.40,953.50" fill="none" stroke="#111" stroke-width="1.1"/>
<path d="M386.5,927.5 C384.5,923 387.5,922 389,923.5 C390,921.5 393.5,923 392,926" fill="none" stroke="#333" stroke-width="0.8"/>
<path d="M391.00,946.00 Q396,950 400.75,944.50" fill="none" stroke="#333" stroke-width="0.8"/>
<path d="M400.00,930.00 C400.40,930.00 402.12,930.55 402.40,930.00 C402.68,929.45 402.07,927.87 401.70,926.70 C401.33,925.53 400.75,924.33 400.20,923.00 C399.65,921.67 399.00,920.15 398.40,918.70 C397.80,917.25 397.03,915.77 396.60,914.30 C396.17,912.83 395.80,911.25 395.80,909.90 C395.80,908.55 396.17,907.23 396.60,906.20 C397.03,905.17 397.67,904.37 398.40,903.70 C399.13,903.03 399.97,902.60 401.00,902.20 C402.03,901.80 403.38,901.48 404.60,901.30 C405.82,901.12 407.08,901.07 408.30,901.10 C409.52,901.13 410.68,901.25 411.90,901.50 C413.12,901.75 414.43,902.05 415.60,902.60 C416.77,903.15 417.98,903.83 418.90,904.80 C419.82,905.77 420.68,907.07 421.10,908.40 C421.52,909.73 421.53,911.33 421.40,912.80 C421.27,914.27 420.90,915.85 420.30,917.20 C419.70,918.55 418.83,919.80 417.80,920.90 C416.77,922.00 415.32,923.02 414.10,923.80 C412.88,924.58 411.60,925.00 410.50,925.60 C409.40,926.20 408.23,926.67 407.50,927.40 C406.77,928.13 406.28,929.27 406.10,930.00 C405.92,930.73 406.02,931.72 406.40,931.80 C406.78,931.88 408.07,930.72 408.40,930.50" fill="none" stroke="#111" stroke-width="1.1"/>
<text x="408.1" y="902.6" font-size="5.2" font-weight="normal" text-anchor="middle" fill="#fff" stroke="#333" stroke-width="0.45">CCG</text>
<text x="385.8" y="914.8" font-size="5.6" font-weight="normal" text-anchor="middle" fill="#333" stroke="#333" stroke-width="0.25">CD82</text>
<text x="430.4" y="914.8" font-size="5.6" font-weight="normal" text-anchor="middle" fill="#333" stroke="#333" stroke-width="0.25">CD9</text>
<text x="390.1" y="955.6" font-size="5.6" font-weight="normal" text-anchor="middle" fill="#333" stroke="#333" stroke-width="0.25">NH2</text>
<text x="413.2" y="957.4" font-size="5.6" font-weight="normal" text-anchor="middle" fill="#333" stroke="#333" stroke-width="0.25">COOH</text>
</svg></body></html>
